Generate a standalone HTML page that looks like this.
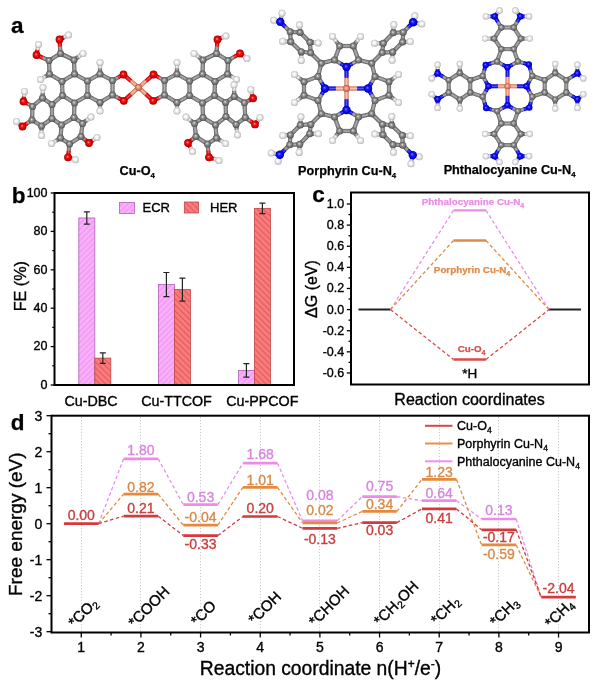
<!DOCTYPE html>
<html><head><meta charset="utf-8"><title>Figure</title>
<style>html,body{margin:0;padding:0;background:#fff;} svg{display:block;}</style></head>
<body>
<svg width="600" height="688" viewBox="0 0 600 688" font-family='"Liberation Sans", Arial, sans-serif'>
<defs>
<pattern id="hatchE" patternUnits="userSpaceOnUse" width="4" height="4" patternTransform="rotate(45)">
<rect width="4" height="4" fill="#f5a0f7"/><rect width="1.1" height="4" fill="#f9befa"/></pattern>
<pattern id="hatchH" patternUnits="userSpaceOnUse" width="4.2" height="4.2" patternTransform="rotate(-45)">
<rect width="4.2" height="4.2" fill="#fa7b7b"/><rect width="1.1" height="4.2" fill="#e05a5e"/></pattern>
<radialGradient id="gC" cx="0.5" cy="0.5" r="0.55" fx="0.42" fy="0.4"><stop offset="0" stop-color="#e4e4e4"/><stop offset="0.35" stop-color="#949494"/><stop offset="0.8" stop-color="#626262"/><stop offset="1" stop-color="#3a3a3a"/></radialGradient>
<radialGradient id="gH" cx="0.5" cy="0.5" r="0.55" fx="0.42" fy="0.4"><stop offset="0" stop-color="#ffffff"/><stop offset="0.35" stop-color="#f6f6f6"/><stop offset="0.8" stop-color="#cccccc"/><stop offset="1" stop-color="#8c8c8c"/></radialGradient>
<radialGradient id="gO" cx="0.5" cy="0.5" r="0.55" fx="0.42" fy="0.4"><stop offset="0" stop-color="#ff9090"/><stop offset="0.35" stop-color="#f41010"/><stop offset="0.8" stop-color="#c00000"/><stop offset="1" stop-color="#800000"/></radialGradient>
<radialGradient id="gN" cx="0.5" cy="0.5" r="0.55" fx="0.42" fy="0.4"><stop offset="0" stop-color="#8080ff"/><stop offset="0.35" stop-color="#1818ff"/><stop offset="0.8" stop-color="#0000c8"/><stop offset="1" stop-color="#000080"/></radialGradient>
<radialGradient id="gCu" cx="0.5" cy="0.5" r="0.55" fx="0.42" fy="0.4"><stop offset="0" stop-color="#ffd8c8"/><stop offset="0.35" stop-color="#f0987c"/><stop offset="0.8" stop-color="#c06a54"/><stop offset="1" stop-color="#904838"/></radialGradient>
</defs>
<rect width="600" height="688" fill="#fff"/>
<text x="11" y="32.5" font-size="22.5" font-weight="bold" stroke="#000" stroke-width="0.25">a</text>
<line x1="60.50" y1="53.50" x2="67.25" y2="56.75" stroke="#5c5c5c" stroke-width="4.20"/>
<line x1="74.00" y1="60.00" x2="67.25" y2="56.75" stroke="#5c5c5c" stroke-width="4.20"/>
<line x1="74.00" y1="60.00" x2="74.25" y2="67.00" stroke="#5c5c5c" stroke-width="4.20"/>
<line x1="74.50" y1="74.00" x2="74.25" y2="67.00" stroke="#5c5c5c" stroke-width="4.20"/>
<line x1="74.50" y1="74.00" x2="68.25" y2="77.75" stroke="#5c5c5c" stroke-width="4.20"/>
<line x1="62.00" y1="81.50" x2="68.25" y2="77.75" stroke="#5c5c5c" stroke-width="4.20"/>
<line x1="62.00" y1="81.50" x2="55.75" y2="77.75" stroke="#5c5c5c" stroke-width="4.20"/>
<line x1="49.50" y1="74.00" x2="55.75" y2="77.75" stroke="#5c5c5c" stroke-width="4.20"/>
<line x1="49.50" y1="74.00" x2="49.25" y2="67.25" stroke="#5c5c5c" stroke-width="4.20"/>
<line x1="49.00" y1="60.50" x2="49.25" y2="67.25" stroke="#5c5c5c" stroke-width="4.20"/>
<line x1="49.00" y1="60.50" x2="54.75" y2="57.00" stroke="#5c5c5c" stroke-width="4.20"/>
<line x1="60.50" y1="53.50" x2="54.75" y2="57.00" stroke="#5c5c5c" stroke-width="4.20"/>
<line x1="60.50" y1="53.50" x2="60.00" y2="46.50" stroke="#5c5c5c" stroke-width="4.20"/>
<line x1="59.50" y1="39.50" x2="60.00" y2="46.50" stroke="#b80000" stroke-width="4.20"/>
<line x1="59.50" y1="39.50" x2="64.00" y2="37.25" stroke="#b80000" stroke-width="4.20"/>
<line x1="68.50" y1="35.00" x2="64.00" y2="37.25" stroke="#a8a8a8" stroke-width="4.20"/>
<line x1="49.00" y1="60.50" x2="42.75" y2="57.75" stroke="#5c5c5c" stroke-width="4.20"/>
<line x1="36.50" y1="55.00" x2="42.75" y2="57.75" stroke="#b80000" stroke-width="4.20"/>
<line x1="36.50" y1="55.00" x2="37.50" y2="49.75" stroke="#b80000" stroke-width="4.20"/>
<line x1="38.50" y1="44.50" x2="37.50" y2="49.75" stroke="#a8a8a8" stroke-width="4.20"/>
<line x1="74.00" y1="60.00" x2="78.50" y2="56.75" stroke="#5c5c5c" stroke-width="4.20"/>
<line x1="83.00" y1="53.50" x2="78.50" y2="56.75" stroke="#a8a8a8" stroke-width="4.20"/>
<line x1="49.50" y1="74.00" x2="45.00" y2="76.75" stroke="#5c5c5c" stroke-width="4.20"/>
<line x1="40.50" y1="79.50" x2="45.00" y2="76.75" stroke="#a8a8a8" stroke-width="4.20"/>
<line x1="74.50" y1="74.00" x2="81.00" y2="77.50" stroke="#5c5c5c" stroke-width="4.20"/>
<line x1="87.50" y1="81.00" x2="81.00" y2="77.50" stroke="#5c5c5c" stroke-width="4.20"/>
<line x1="87.50" y1="81.00" x2="87.50" y2="88.25" stroke="#5c5c5c" stroke-width="4.20"/>
<line x1="87.50" y1="95.50" x2="87.50" y2="88.25" stroke="#5c5c5c" stroke-width="4.20"/>
<line x1="87.50" y1="95.50" x2="81.00" y2="99.25" stroke="#5c5c5c" stroke-width="4.20"/>
<line x1="74.50" y1="103.00" x2="81.00" y2="99.25" stroke="#5c5c5c" stroke-width="4.20"/>
<line x1="74.50" y1="103.00" x2="68.50" y2="99.25" stroke="#5c5c5c" stroke-width="4.20"/>
<line x1="62.50" y1="95.50" x2="68.50" y2="99.25" stroke="#5c5c5c" stroke-width="4.20"/>
<line x1="62.50" y1="95.50" x2="62.25" y2="88.50" stroke="#5c5c5c" stroke-width="4.20"/>
<line x1="62.00" y1="81.50" x2="62.25" y2="88.50" stroke="#5c5c5c" stroke-width="4.20"/>
<line x1="87.50" y1="81.00" x2="93.75" y2="77.50" stroke="#5c5c5c" stroke-width="4.20"/>
<line x1="100.00" y1="74.00" x2="93.75" y2="77.50" stroke="#5c5c5c" stroke-width="4.20"/>
<line x1="100.00" y1="74.00" x2="106.25" y2="77.25" stroke="#5c5c5c" stroke-width="4.20"/>
<line x1="112.50" y1="80.50" x2="106.25" y2="77.25" stroke="#5c5c5c" stroke-width="4.20"/>
<line x1="112.50" y1="80.50" x2="112.50" y2="87.75" stroke="#5c5c5c" stroke-width="4.20"/>
<line x1="112.50" y1="95.00" x2="112.50" y2="87.75" stroke="#5c5c5c" stroke-width="4.20"/>
<line x1="112.50" y1="95.00" x2="106.25" y2="98.75" stroke="#5c5c5c" stroke-width="4.20"/>
<line x1="100.00" y1="102.50" x2="106.25" y2="98.75" stroke="#5c5c5c" stroke-width="4.20"/>
<line x1="100.00" y1="102.50" x2="93.75" y2="99.00" stroke="#5c5c5c" stroke-width="4.20"/>
<line x1="87.50" y1="95.50" x2="93.75" y2="99.00" stroke="#5c5c5c" stroke-width="4.20"/>
<line x1="100.00" y1="74.00" x2="100.00" y2="68.25" stroke="#5c5c5c" stroke-width="4.20"/>
<line x1="100.00" y1="62.50" x2="100.00" y2="68.25" stroke="#a8a8a8" stroke-width="4.20"/>
<line x1="100.00" y1="102.50" x2="100.00" y2="106.75" stroke="#5c5c5c" stroke-width="4.20"/>
<line x1="100.00" y1="111.00" x2="100.00" y2="106.75" stroke="#a8a8a8" stroke-width="4.20"/>
<line x1="112.50" y1="80.50" x2="118.00" y2="77.50" stroke="#5c5c5c" stroke-width="4.20"/>
<line x1="123.50" y1="74.50" x2="118.00" y2="77.50" stroke="#b80000" stroke-width="4.20"/>
<line x1="112.50" y1="95.00" x2="118.15" y2="97.90" stroke="#5c5c5c" stroke-width="4.20"/>
<line x1="123.80" y1="100.80" x2="118.15" y2="97.90" stroke="#b80000" stroke-width="4.20"/>
<line x1="74.50" y1="103.00" x2="74.25" y2="110.25" stroke="#5c5c5c" stroke-width="4.20"/>
<line x1="74.00" y1="117.50" x2="74.25" y2="110.25" stroke="#5c5c5c" stroke-width="4.20"/>
<line x1="74.00" y1="117.50" x2="67.75" y2="121.25" stroke="#5c5c5c" stroke-width="4.20"/>
<line x1="61.50" y1="125.00" x2="67.75" y2="121.25" stroke="#5c5c5c" stroke-width="4.20"/>
<line x1="61.50" y1="125.00" x2="56.75" y2="121.75" stroke="#5c5c5c" stroke-width="4.20"/>
<line x1="52.00" y1="118.50" x2="56.75" y2="121.75" stroke="#5c5c5c" stroke-width="4.20"/>
<line x1="52.00" y1="118.50" x2="52.00" y2="111.50" stroke="#5c5c5c" stroke-width="4.20"/>
<line x1="52.00" y1="104.50" x2="52.00" y2="111.50" stroke="#5c5c5c" stroke-width="4.20"/>
<line x1="52.00" y1="104.50" x2="57.25" y2="100.00" stroke="#5c5c5c" stroke-width="4.20"/>
<line x1="62.50" y1="95.50" x2="57.25" y2="100.00" stroke="#5c5c5c" stroke-width="4.20"/>
<line x1="52.00" y1="104.50" x2="47.25" y2="101.25" stroke="#5c5c5c" stroke-width="4.20"/>
<line x1="42.50" y1="98.00" x2="47.25" y2="101.25" stroke="#5c5c5c" stroke-width="4.20"/>
<line x1="42.50" y1="98.00" x2="37.50" y2="102.25" stroke="#5c5c5c" stroke-width="4.20"/>
<line x1="32.50" y1="106.50" x2="37.50" y2="102.25" stroke="#5c5c5c" stroke-width="4.20"/>
<line x1="32.50" y1="106.50" x2="32.25" y2="113.25" stroke="#5c5c5c" stroke-width="4.20"/>
<line x1="32.00" y1="120.00" x2="32.25" y2="113.25" stroke="#5c5c5c" stroke-width="4.20"/>
<line x1="32.00" y1="120.00" x2="36.75" y2="123.00" stroke="#5c5c5c" stroke-width="4.20"/>
<line x1="41.50" y1="126.00" x2="36.75" y2="123.00" stroke="#5c5c5c" stroke-width="4.20"/>
<line x1="41.50" y1="126.00" x2="46.75" y2="122.25" stroke="#5c5c5c" stroke-width="4.20"/>
<line x1="52.00" y1="118.50" x2="46.75" y2="122.25" stroke="#5c5c5c" stroke-width="4.20"/>
<line x1="42.50" y1="98.00" x2="42.75" y2="92.75" stroke="#5c5c5c" stroke-width="4.20"/>
<line x1="43.00" y1="87.50" x2="42.75" y2="92.75" stroke="#a8a8a8" stroke-width="4.20"/>
<line x1="32.50" y1="106.50" x2="28.00" y2="104.00" stroke="#5c5c5c" stroke-width="4.20"/>
<line x1="23.50" y1="101.50" x2="28.00" y2="104.00" stroke="#b80000" stroke-width="4.20"/>
<line x1="23.50" y1="101.50" x2="24.00" y2="96.50" stroke="#b80000" stroke-width="4.20"/>
<line x1="24.50" y1="91.50" x2="24.00" y2="96.50" stroke="#a8a8a8" stroke-width="4.20"/>
<line x1="32.00" y1="120.00" x2="27.25" y2="123.25" stroke="#5c5c5c" stroke-width="4.20"/>
<line x1="22.50" y1="126.50" x2="27.25" y2="123.25" stroke="#b80000" stroke-width="4.20"/>
<line x1="22.50" y1="126.50" x2="19.50" y2="124.00" stroke="#b80000" stroke-width="4.20"/>
<line x1="16.50" y1="121.50" x2="19.50" y2="124.00" stroke="#a8a8a8" stroke-width="4.20"/>
<line x1="41.50" y1="126.00" x2="41.50" y2="130.75" stroke="#5c5c5c" stroke-width="4.20"/>
<line x1="41.50" y1="135.50" x2="41.50" y2="130.75" stroke="#a8a8a8" stroke-width="4.20"/>
<line x1="74.00" y1="117.50" x2="78.25" y2="120.50" stroke="#5c5c5c" stroke-width="4.20"/>
<line x1="82.50" y1="123.50" x2="78.25" y2="120.50" stroke="#5c5c5c" stroke-width="4.20"/>
<line x1="82.50" y1="123.50" x2="81.75" y2="130.00" stroke="#5c5c5c" stroke-width="4.20"/>
<line x1="81.00" y1="136.50" x2="81.75" y2="130.00" stroke="#5c5c5c" stroke-width="4.20"/>
<line x1="81.00" y1="136.50" x2="75.25" y2="140.25" stroke="#5c5c5c" stroke-width="4.20"/>
<line x1="69.50" y1="144.00" x2="75.25" y2="140.25" stroke="#5c5c5c" stroke-width="4.20"/>
<line x1="69.50" y1="144.00" x2="65.00" y2="141.00" stroke="#5c5c5c" stroke-width="4.20"/>
<line x1="60.50" y1="138.00" x2="65.00" y2="141.00" stroke="#5c5c5c" stroke-width="4.20"/>
<line x1="60.50" y1="138.00" x2="61.00" y2="131.50" stroke="#5c5c5c" stroke-width="4.20"/>
<line x1="61.50" y1="125.00" x2="61.00" y2="131.50" stroke="#5c5c5c" stroke-width="4.20"/>
<line x1="82.50" y1="123.50" x2="86.75" y2="120.25" stroke="#5c5c5c" stroke-width="4.20"/>
<line x1="91.00" y1="117.00" x2="86.75" y2="120.25" stroke="#a8a8a8" stroke-width="4.20"/>
<line x1="81.00" y1="136.50" x2="85.00" y2="139.75" stroke="#5c5c5c" stroke-width="4.20"/>
<line x1="89.00" y1="143.00" x2="85.00" y2="139.75" stroke="#b80000" stroke-width="4.20"/>
<line x1="89.00" y1="143.00" x2="93.00" y2="140.25" stroke="#b80000" stroke-width="4.20"/>
<line x1="97.00" y1="137.50" x2="93.00" y2="140.25" stroke="#a8a8a8" stroke-width="4.20"/>
<line x1="69.50" y1="144.00" x2="68.75" y2="150.65" stroke="#5c5c5c" stroke-width="4.20"/>
<line x1="68.00" y1="157.30" x2="68.75" y2="150.65" stroke="#b80000" stroke-width="4.20"/>
<line x1="68.00" y1="157.30" x2="71.75" y2="158.55" stroke="#b80000" stroke-width="4.20"/>
<line x1="75.50" y1="159.80" x2="71.75" y2="158.55" stroke="#a8a8a8" stroke-width="4.20"/>
<line x1="60.50" y1="138.00" x2="56.00" y2="140.75" stroke="#5c5c5c" stroke-width="4.20"/>
<line x1="51.50" y1="143.50" x2="56.00" y2="140.75" stroke="#a8a8a8" stroke-width="4.20"/>
<line x1="216.50" y1="53.50" x2="209.75" y2="56.75" stroke="#5c5c5c" stroke-width="4.20"/>
<line x1="203.00" y1="60.00" x2="209.75" y2="56.75" stroke="#5c5c5c" stroke-width="4.20"/>
<line x1="203.00" y1="60.00" x2="202.75" y2="67.00" stroke="#5c5c5c" stroke-width="4.20"/>
<line x1="202.50" y1="74.00" x2="202.75" y2="67.00" stroke="#5c5c5c" stroke-width="4.20"/>
<line x1="202.50" y1="74.00" x2="208.75" y2="77.75" stroke="#5c5c5c" stroke-width="4.20"/>
<line x1="215.00" y1="81.50" x2="208.75" y2="77.75" stroke="#5c5c5c" stroke-width="4.20"/>
<line x1="215.00" y1="81.50" x2="221.25" y2="77.75" stroke="#5c5c5c" stroke-width="4.20"/>
<line x1="227.50" y1="74.00" x2="221.25" y2="77.75" stroke="#5c5c5c" stroke-width="4.20"/>
<line x1="227.50" y1="74.00" x2="227.75" y2="67.25" stroke="#5c5c5c" stroke-width="4.20"/>
<line x1="228.00" y1="60.50" x2="227.75" y2="67.25" stroke="#5c5c5c" stroke-width="4.20"/>
<line x1="228.00" y1="60.50" x2="222.25" y2="57.00" stroke="#5c5c5c" stroke-width="4.20"/>
<line x1="216.50" y1="53.50" x2="222.25" y2="57.00" stroke="#5c5c5c" stroke-width="4.20"/>
<line x1="216.50" y1="53.50" x2="217.00" y2="46.50" stroke="#5c5c5c" stroke-width="4.20"/>
<line x1="217.50" y1="39.50" x2="217.00" y2="46.50" stroke="#b80000" stroke-width="4.20"/>
<line x1="217.50" y1="39.50" x2="221.75" y2="37.75" stroke="#b80000" stroke-width="4.20"/>
<line x1="226.00" y1="36.00" x2="221.75" y2="37.75" stroke="#a8a8a8" stroke-width="4.20"/>
<line x1="228.00" y1="60.50" x2="234.00" y2="57.00" stroke="#5c5c5c" stroke-width="4.20"/>
<line x1="240.00" y1="53.50" x2="234.00" y2="57.00" stroke="#b80000" stroke-width="4.20"/>
<line x1="240.00" y1="53.50" x2="243.50" y2="56.00" stroke="#b80000" stroke-width="4.20"/>
<line x1="247.00" y1="58.50" x2="243.50" y2="56.00" stroke="#a8a8a8" stroke-width="4.20"/>
<line x1="203.00" y1="60.00" x2="198.50" y2="56.75" stroke="#5c5c5c" stroke-width="4.20"/>
<line x1="194.00" y1="53.50" x2="198.50" y2="56.75" stroke="#a8a8a8" stroke-width="4.20"/>
<line x1="227.50" y1="74.00" x2="232.00" y2="76.75" stroke="#5c5c5c" stroke-width="4.20"/>
<line x1="236.50" y1="79.50" x2="232.00" y2="76.75" stroke="#a8a8a8" stroke-width="4.20"/>
<line x1="202.50" y1="74.00" x2="196.00" y2="77.50" stroke="#5c5c5c" stroke-width="4.20"/>
<line x1="189.50" y1="81.00" x2="196.00" y2="77.50" stroke="#5c5c5c" stroke-width="4.20"/>
<line x1="189.50" y1="81.00" x2="189.50" y2="88.25" stroke="#5c5c5c" stroke-width="4.20"/>
<line x1="189.50" y1="95.50" x2="189.50" y2="88.25" stroke="#5c5c5c" stroke-width="4.20"/>
<line x1="189.50" y1="95.50" x2="196.00" y2="99.25" stroke="#5c5c5c" stroke-width="4.20"/>
<line x1="202.50" y1="103.00" x2="196.00" y2="99.25" stroke="#5c5c5c" stroke-width="4.20"/>
<line x1="202.50" y1="103.00" x2="208.50" y2="99.25" stroke="#5c5c5c" stroke-width="4.20"/>
<line x1="214.50" y1="95.50" x2="208.50" y2="99.25" stroke="#5c5c5c" stroke-width="4.20"/>
<line x1="214.50" y1="95.50" x2="214.75" y2="88.50" stroke="#5c5c5c" stroke-width="4.20"/>
<line x1="215.00" y1="81.50" x2="214.75" y2="88.50" stroke="#5c5c5c" stroke-width="4.20"/>
<line x1="189.50" y1="81.00" x2="183.25" y2="77.50" stroke="#5c5c5c" stroke-width="4.20"/>
<line x1="177.00" y1="74.00" x2="183.25" y2="77.50" stroke="#5c5c5c" stroke-width="4.20"/>
<line x1="177.00" y1="74.00" x2="170.75" y2="77.25" stroke="#5c5c5c" stroke-width="4.20"/>
<line x1="164.50" y1="80.50" x2="170.75" y2="77.25" stroke="#5c5c5c" stroke-width="4.20"/>
<line x1="164.50" y1="80.50" x2="164.50" y2="87.75" stroke="#5c5c5c" stroke-width="4.20"/>
<line x1="164.50" y1="95.00" x2="164.50" y2="87.75" stroke="#5c5c5c" stroke-width="4.20"/>
<line x1="164.50" y1="95.00" x2="170.75" y2="98.75" stroke="#5c5c5c" stroke-width="4.20"/>
<line x1="177.00" y1="102.50" x2="170.75" y2="98.75" stroke="#5c5c5c" stroke-width="4.20"/>
<line x1="177.00" y1="102.50" x2="183.25" y2="99.00" stroke="#5c5c5c" stroke-width="4.20"/>
<line x1="189.50" y1="95.50" x2="183.25" y2="99.00" stroke="#5c5c5c" stroke-width="4.20"/>
<line x1="177.00" y1="74.00" x2="177.00" y2="68.25" stroke="#5c5c5c" stroke-width="4.20"/>
<line x1="177.00" y1="62.50" x2="177.00" y2="68.25" stroke="#a8a8a8" stroke-width="4.20"/>
<line x1="177.00" y1="102.50" x2="177.00" y2="106.75" stroke="#5c5c5c" stroke-width="4.20"/>
<line x1="177.00" y1="111.00" x2="177.00" y2="106.75" stroke="#a8a8a8" stroke-width="4.20"/>
<line x1="164.50" y1="80.50" x2="159.00" y2="77.50" stroke="#5c5c5c" stroke-width="4.20"/>
<line x1="153.50" y1="74.50" x2="159.00" y2="77.50" stroke="#b80000" stroke-width="4.20"/>
<line x1="164.50" y1="95.00" x2="158.85" y2="97.90" stroke="#5c5c5c" stroke-width="4.20"/>
<line x1="153.20" y1="100.80" x2="158.85" y2="97.90" stroke="#b80000" stroke-width="4.20"/>
<line x1="202.50" y1="103.00" x2="202.75" y2="110.25" stroke="#5c5c5c" stroke-width="4.20"/>
<line x1="203.00" y1="117.50" x2="202.75" y2="110.25" stroke="#5c5c5c" stroke-width="4.20"/>
<line x1="203.00" y1="117.50" x2="209.25" y2="121.25" stroke="#5c5c5c" stroke-width="4.20"/>
<line x1="215.50" y1="125.00" x2="209.25" y2="121.25" stroke="#5c5c5c" stroke-width="4.20"/>
<line x1="215.50" y1="125.00" x2="220.75" y2="120.80" stroke="#5c5c5c" stroke-width="4.20"/>
<line x1="226.00" y1="116.60" x2="220.75" y2="120.80" stroke="#5c5c5c" stroke-width="4.20"/>
<line x1="226.00" y1="116.60" x2="225.80" y2="109.50" stroke="#5c5c5c" stroke-width="4.20"/>
<line x1="225.60" y1="102.40" x2="225.80" y2="109.50" stroke="#5c5c5c" stroke-width="4.20"/>
<line x1="225.60" y1="102.40" x2="220.05" y2="98.95" stroke="#5c5c5c" stroke-width="4.20"/>
<line x1="214.50" y1="95.50" x2="220.05" y2="98.95" stroke="#5c5c5c" stroke-width="4.20"/>
<line x1="225.60" y1="102.40" x2="229.95" y2="99.40" stroke="#5c5c5c" stroke-width="4.20"/>
<line x1="234.30" y1="96.40" x2="229.95" y2="99.40" stroke="#5c5c5c" stroke-width="4.20"/>
<line x1="234.30" y1="96.40" x2="239.35" y2="99.60" stroke="#5c5c5c" stroke-width="4.20"/>
<line x1="244.40" y1="102.80" x2="239.35" y2="99.60" stroke="#5c5c5c" stroke-width="4.20"/>
<line x1="244.40" y1="102.80" x2="244.85" y2="110.15" stroke="#5c5c5c" stroke-width="4.20"/>
<line x1="245.30" y1="117.50" x2="244.85" y2="110.15" stroke="#5c5c5c" stroke-width="4.20"/>
<line x1="245.30" y1="117.50" x2="240.70" y2="120.95" stroke="#5c5c5c" stroke-width="4.20"/>
<line x1="236.10" y1="124.40" x2="240.70" y2="120.95" stroke="#5c5c5c" stroke-width="4.20"/>
<line x1="236.10" y1="124.40" x2="231.05" y2="120.50" stroke="#5c5c5c" stroke-width="4.20"/>
<line x1="226.00" y1="116.60" x2="231.05" y2="120.50" stroke="#5c5c5c" stroke-width="4.20"/>
<line x1="234.30" y1="96.40" x2="234.15" y2="90.60" stroke="#5c5c5c" stroke-width="4.20"/>
<line x1="234.00" y1="84.80" x2="234.15" y2="90.60" stroke="#a8a8a8" stroke-width="4.20"/>
<line x1="244.40" y1="102.80" x2="248.75" y2="100.55" stroke="#5c5c5c" stroke-width="4.20"/>
<line x1="253.10" y1="98.30" x2="248.75" y2="100.55" stroke="#b80000" stroke-width="4.20"/>
<line x1="253.10" y1="98.30" x2="251.95" y2="93.90" stroke="#b80000" stroke-width="4.20"/>
<line x1="250.80" y1="89.50" x2="251.95" y2="93.90" stroke="#a8a8a8" stroke-width="4.20"/>
<line x1="245.30" y1="117.50" x2="250.15" y2="120.95" stroke="#5c5c5c" stroke-width="4.20"/>
<line x1="255.00" y1="124.40" x2="250.15" y2="120.95" stroke="#b80000" stroke-width="4.20"/>
<line x1="255.00" y1="124.40" x2="257.50" y2="120.95" stroke="#b80000" stroke-width="4.20"/>
<line x1="260.00" y1="117.50" x2="257.50" y2="120.95" stroke="#a8a8a8" stroke-width="4.20"/>
<line x1="236.10" y1="124.40" x2="236.80" y2="129.70" stroke="#5c5c5c" stroke-width="4.20"/>
<line x1="237.50" y1="135.00" x2="236.80" y2="129.70" stroke="#a8a8a8" stroke-width="4.20"/>
<line x1="203.00" y1="117.50" x2="198.75" y2="120.50" stroke="#5c5c5c" stroke-width="4.20"/>
<line x1="194.50" y1="123.50" x2="198.75" y2="120.50" stroke="#5c5c5c" stroke-width="4.20"/>
<line x1="194.50" y1="123.50" x2="195.25" y2="130.00" stroke="#5c5c5c" stroke-width="4.20"/>
<line x1="196.00" y1="136.50" x2="195.25" y2="130.00" stroke="#5c5c5c" stroke-width="4.20"/>
<line x1="196.00" y1="136.50" x2="201.75" y2="140.25" stroke="#5c5c5c" stroke-width="4.20"/>
<line x1="207.50" y1="144.00" x2="201.75" y2="140.25" stroke="#5c5c5c" stroke-width="4.20"/>
<line x1="207.50" y1="144.00" x2="212.00" y2="141.00" stroke="#5c5c5c" stroke-width="4.20"/>
<line x1="216.50" y1="138.00" x2="212.00" y2="141.00" stroke="#5c5c5c" stroke-width="4.20"/>
<line x1="216.50" y1="138.00" x2="216.00" y2="131.50" stroke="#5c5c5c" stroke-width="4.20"/>
<line x1="215.50" y1="125.00" x2="216.00" y2="131.50" stroke="#5c5c5c" stroke-width="4.20"/>
<line x1="194.50" y1="123.50" x2="190.25" y2="120.25" stroke="#5c5c5c" stroke-width="4.20"/>
<line x1="186.00" y1="117.00" x2="190.25" y2="120.25" stroke="#a8a8a8" stroke-width="4.20"/>
<line x1="196.00" y1="136.50" x2="192.00" y2="139.75" stroke="#5c5c5c" stroke-width="4.20"/>
<line x1="188.00" y1="143.00" x2="192.00" y2="139.75" stroke="#b80000" stroke-width="4.20"/>
<line x1="188.00" y1="143.00" x2="190.25" y2="147.25" stroke="#b80000" stroke-width="4.20"/>
<line x1="192.50" y1="151.50" x2="190.25" y2="147.25" stroke="#a8a8a8" stroke-width="4.20"/>
<line x1="207.50" y1="144.00" x2="208.25" y2="150.65" stroke="#5c5c5c" stroke-width="4.20"/>
<line x1="209.00" y1="157.30" x2="208.25" y2="150.65" stroke="#b80000" stroke-width="4.20"/>
<line x1="209.00" y1="157.30" x2="214.00" y2="158.90" stroke="#b80000" stroke-width="4.20"/>
<line x1="219.00" y1="160.50" x2="214.00" y2="158.90" stroke="#a8a8a8" stroke-width="4.20"/>
<line x1="216.50" y1="138.00" x2="221.00" y2="140.75" stroke="#5c5c5c" stroke-width="4.20"/>
<line x1="225.50" y1="143.50" x2="221.00" y2="140.75" stroke="#a8a8a8" stroke-width="4.20"/>
<line x1="123.50" y1="74.50" x2="131.00" y2="81.00" stroke="#b80000" stroke-width="4.20"/>
<line x1="138.50" y1="87.50" x2="131.00" y2="81.00" stroke="#c06850" stroke-width="4.20"/>
<line x1="138.50" y1="87.50" x2="146.00" y2="81.00" stroke="#c06850" stroke-width="4.20"/>
<line x1="153.50" y1="74.50" x2="146.00" y2="81.00" stroke="#b80000" stroke-width="4.20"/>
<line x1="123.80" y1="100.80" x2="131.15" y2="94.15" stroke="#b80000" stroke-width="4.20"/>
<line x1="138.50" y1="87.50" x2="131.15" y2="94.15" stroke="#c06850" stroke-width="4.20"/>
<line x1="138.50" y1="87.50" x2="145.85" y2="94.15" stroke="#c06850" stroke-width="4.20"/>
<line x1="153.20" y1="100.80" x2="145.85" y2="94.15" stroke="#b80000" stroke-width="4.20"/>
<line x1="60.50" y1="53.50" x2="67.25" y2="56.75" stroke="#8c8c8c" stroke-width="3.00"/>
<line x1="74.00" y1="60.00" x2="67.25" y2="56.75" stroke="#8c8c8c" stroke-width="3.00"/>
<line x1="74.00" y1="60.00" x2="74.25" y2="67.00" stroke="#8c8c8c" stroke-width="3.00"/>
<line x1="74.50" y1="74.00" x2="74.25" y2="67.00" stroke="#8c8c8c" stroke-width="3.00"/>
<line x1="74.50" y1="74.00" x2="68.25" y2="77.75" stroke="#8c8c8c" stroke-width="3.00"/>
<line x1="62.00" y1="81.50" x2="68.25" y2="77.75" stroke="#8c8c8c" stroke-width="3.00"/>
<line x1="62.00" y1="81.50" x2="55.75" y2="77.75" stroke="#8c8c8c" stroke-width="3.00"/>
<line x1="49.50" y1="74.00" x2="55.75" y2="77.75" stroke="#8c8c8c" stroke-width="3.00"/>
<line x1="49.50" y1="74.00" x2="49.25" y2="67.25" stroke="#8c8c8c" stroke-width="3.00"/>
<line x1="49.00" y1="60.50" x2="49.25" y2="67.25" stroke="#8c8c8c" stroke-width="3.00"/>
<line x1="49.00" y1="60.50" x2="54.75" y2="57.00" stroke="#8c8c8c" stroke-width="3.00"/>
<line x1="60.50" y1="53.50" x2="54.75" y2="57.00" stroke="#8c8c8c" stroke-width="3.00"/>
<line x1="60.50" y1="53.50" x2="60.00" y2="46.50" stroke="#8c8c8c" stroke-width="3.00"/>
<line x1="59.50" y1="39.50" x2="60.00" y2="46.50" stroke="#ee1414" stroke-width="3.00"/>
<line x1="59.50" y1="39.50" x2="64.00" y2="37.25" stroke="#ee1414" stroke-width="3.00"/>
<line x1="68.50" y1="35.00" x2="64.00" y2="37.25" stroke="#dcdcdc" stroke-width="3.00"/>
<line x1="49.00" y1="60.50" x2="42.75" y2="57.75" stroke="#8c8c8c" stroke-width="3.00"/>
<line x1="36.50" y1="55.00" x2="42.75" y2="57.75" stroke="#ee1414" stroke-width="3.00"/>
<line x1="36.50" y1="55.00" x2="37.50" y2="49.75" stroke="#ee1414" stroke-width="3.00"/>
<line x1="38.50" y1="44.50" x2="37.50" y2="49.75" stroke="#dcdcdc" stroke-width="3.00"/>
<line x1="74.00" y1="60.00" x2="78.50" y2="56.75" stroke="#8c8c8c" stroke-width="3.00"/>
<line x1="83.00" y1="53.50" x2="78.50" y2="56.75" stroke="#dcdcdc" stroke-width="3.00"/>
<line x1="49.50" y1="74.00" x2="45.00" y2="76.75" stroke="#8c8c8c" stroke-width="3.00"/>
<line x1="40.50" y1="79.50" x2="45.00" y2="76.75" stroke="#dcdcdc" stroke-width="3.00"/>
<line x1="74.50" y1="74.00" x2="81.00" y2="77.50" stroke="#8c8c8c" stroke-width="3.00"/>
<line x1="87.50" y1="81.00" x2="81.00" y2="77.50" stroke="#8c8c8c" stroke-width="3.00"/>
<line x1="87.50" y1="81.00" x2="87.50" y2="88.25" stroke="#8c8c8c" stroke-width="3.00"/>
<line x1="87.50" y1="95.50" x2="87.50" y2="88.25" stroke="#8c8c8c" stroke-width="3.00"/>
<line x1="87.50" y1="95.50" x2="81.00" y2="99.25" stroke="#8c8c8c" stroke-width="3.00"/>
<line x1="74.50" y1="103.00" x2="81.00" y2="99.25" stroke="#8c8c8c" stroke-width="3.00"/>
<line x1="74.50" y1="103.00" x2="68.50" y2="99.25" stroke="#8c8c8c" stroke-width="3.00"/>
<line x1="62.50" y1="95.50" x2="68.50" y2="99.25" stroke="#8c8c8c" stroke-width="3.00"/>
<line x1="62.50" y1="95.50" x2="62.25" y2="88.50" stroke="#8c8c8c" stroke-width="3.00"/>
<line x1="62.00" y1="81.50" x2="62.25" y2="88.50" stroke="#8c8c8c" stroke-width="3.00"/>
<line x1="87.50" y1="81.00" x2="93.75" y2="77.50" stroke="#8c8c8c" stroke-width="3.00"/>
<line x1="100.00" y1="74.00" x2="93.75" y2="77.50" stroke="#8c8c8c" stroke-width="3.00"/>
<line x1="100.00" y1="74.00" x2="106.25" y2="77.25" stroke="#8c8c8c" stroke-width="3.00"/>
<line x1="112.50" y1="80.50" x2="106.25" y2="77.25" stroke="#8c8c8c" stroke-width="3.00"/>
<line x1="112.50" y1="80.50" x2="112.50" y2="87.75" stroke="#8c8c8c" stroke-width="3.00"/>
<line x1="112.50" y1="95.00" x2="112.50" y2="87.75" stroke="#8c8c8c" stroke-width="3.00"/>
<line x1="112.50" y1="95.00" x2="106.25" y2="98.75" stroke="#8c8c8c" stroke-width="3.00"/>
<line x1="100.00" y1="102.50" x2="106.25" y2="98.75" stroke="#8c8c8c" stroke-width="3.00"/>
<line x1="100.00" y1="102.50" x2="93.75" y2="99.00" stroke="#8c8c8c" stroke-width="3.00"/>
<line x1="87.50" y1="95.50" x2="93.75" y2="99.00" stroke="#8c8c8c" stroke-width="3.00"/>
<line x1="100.00" y1="74.00" x2="100.00" y2="68.25" stroke="#8c8c8c" stroke-width="3.00"/>
<line x1="100.00" y1="62.50" x2="100.00" y2="68.25" stroke="#dcdcdc" stroke-width="3.00"/>
<line x1="100.00" y1="102.50" x2="100.00" y2="106.75" stroke="#8c8c8c" stroke-width="3.00"/>
<line x1="100.00" y1="111.00" x2="100.00" y2="106.75" stroke="#dcdcdc" stroke-width="3.00"/>
<line x1="112.50" y1="80.50" x2="118.00" y2="77.50" stroke="#8c8c8c" stroke-width="3.00"/>
<line x1="123.50" y1="74.50" x2="118.00" y2="77.50" stroke="#ee1414" stroke-width="3.00"/>
<line x1="112.50" y1="95.00" x2="118.15" y2="97.90" stroke="#8c8c8c" stroke-width="3.00"/>
<line x1="123.80" y1="100.80" x2="118.15" y2="97.90" stroke="#ee1414" stroke-width="3.00"/>
<line x1="74.50" y1="103.00" x2="74.25" y2="110.25" stroke="#8c8c8c" stroke-width="3.00"/>
<line x1="74.00" y1="117.50" x2="74.25" y2="110.25" stroke="#8c8c8c" stroke-width="3.00"/>
<line x1="74.00" y1="117.50" x2="67.75" y2="121.25" stroke="#8c8c8c" stroke-width="3.00"/>
<line x1="61.50" y1="125.00" x2="67.75" y2="121.25" stroke="#8c8c8c" stroke-width="3.00"/>
<line x1="61.50" y1="125.00" x2="56.75" y2="121.75" stroke="#8c8c8c" stroke-width="3.00"/>
<line x1="52.00" y1="118.50" x2="56.75" y2="121.75" stroke="#8c8c8c" stroke-width="3.00"/>
<line x1="52.00" y1="118.50" x2="52.00" y2="111.50" stroke="#8c8c8c" stroke-width="3.00"/>
<line x1="52.00" y1="104.50" x2="52.00" y2="111.50" stroke="#8c8c8c" stroke-width="3.00"/>
<line x1="52.00" y1="104.50" x2="57.25" y2="100.00" stroke="#8c8c8c" stroke-width="3.00"/>
<line x1="62.50" y1="95.50" x2="57.25" y2="100.00" stroke="#8c8c8c" stroke-width="3.00"/>
<line x1="52.00" y1="104.50" x2="47.25" y2="101.25" stroke="#8c8c8c" stroke-width="3.00"/>
<line x1="42.50" y1="98.00" x2="47.25" y2="101.25" stroke="#8c8c8c" stroke-width="3.00"/>
<line x1="42.50" y1="98.00" x2="37.50" y2="102.25" stroke="#8c8c8c" stroke-width="3.00"/>
<line x1="32.50" y1="106.50" x2="37.50" y2="102.25" stroke="#8c8c8c" stroke-width="3.00"/>
<line x1="32.50" y1="106.50" x2="32.25" y2="113.25" stroke="#8c8c8c" stroke-width="3.00"/>
<line x1="32.00" y1="120.00" x2="32.25" y2="113.25" stroke="#8c8c8c" stroke-width="3.00"/>
<line x1="32.00" y1="120.00" x2="36.75" y2="123.00" stroke="#8c8c8c" stroke-width="3.00"/>
<line x1="41.50" y1="126.00" x2="36.75" y2="123.00" stroke="#8c8c8c" stroke-width="3.00"/>
<line x1="41.50" y1="126.00" x2="46.75" y2="122.25" stroke="#8c8c8c" stroke-width="3.00"/>
<line x1="52.00" y1="118.50" x2="46.75" y2="122.25" stroke="#8c8c8c" stroke-width="3.00"/>
<line x1="42.50" y1="98.00" x2="42.75" y2="92.75" stroke="#8c8c8c" stroke-width="3.00"/>
<line x1="43.00" y1="87.50" x2="42.75" y2="92.75" stroke="#dcdcdc" stroke-width="3.00"/>
<line x1="32.50" y1="106.50" x2="28.00" y2="104.00" stroke="#8c8c8c" stroke-width="3.00"/>
<line x1="23.50" y1="101.50" x2="28.00" y2="104.00" stroke="#ee1414" stroke-width="3.00"/>
<line x1="23.50" y1="101.50" x2="24.00" y2="96.50" stroke="#ee1414" stroke-width="3.00"/>
<line x1="24.50" y1="91.50" x2="24.00" y2="96.50" stroke="#dcdcdc" stroke-width="3.00"/>
<line x1="32.00" y1="120.00" x2="27.25" y2="123.25" stroke="#8c8c8c" stroke-width="3.00"/>
<line x1="22.50" y1="126.50" x2="27.25" y2="123.25" stroke="#ee1414" stroke-width="3.00"/>
<line x1="22.50" y1="126.50" x2="19.50" y2="124.00" stroke="#ee1414" stroke-width="3.00"/>
<line x1="16.50" y1="121.50" x2="19.50" y2="124.00" stroke="#dcdcdc" stroke-width="3.00"/>
<line x1="41.50" y1="126.00" x2="41.50" y2="130.75" stroke="#8c8c8c" stroke-width="3.00"/>
<line x1="41.50" y1="135.50" x2="41.50" y2="130.75" stroke="#dcdcdc" stroke-width="3.00"/>
<line x1="74.00" y1="117.50" x2="78.25" y2="120.50" stroke="#8c8c8c" stroke-width="3.00"/>
<line x1="82.50" y1="123.50" x2="78.25" y2="120.50" stroke="#8c8c8c" stroke-width="3.00"/>
<line x1="82.50" y1="123.50" x2="81.75" y2="130.00" stroke="#8c8c8c" stroke-width="3.00"/>
<line x1="81.00" y1="136.50" x2="81.75" y2="130.00" stroke="#8c8c8c" stroke-width="3.00"/>
<line x1="81.00" y1="136.50" x2="75.25" y2="140.25" stroke="#8c8c8c" stroke-width="3.00"/>
<line x1="69.50" y1="144.00" x2="75.25" y2="140.25" stroke="#8c8c8c" stroke-width="3.00"/>
<line x1="69.50" y1="144.00" x2="65.00" y2="141.00" stroke="#8c8c8c" stroke-width="3.00"/>
<line x1="60.50" y1="138.00" x2="65.00" y2="141.00" stroke="#8c8c8c" stroke-width="3.00"/>
<line x1="60.50" y1="138.00" x2="61.00" y2="131.50" stroke="#8c8c8c" stroke-width="3.00"/>
<line x1="61.50" y1="125.00" x2="61.00" y2="131.50" stroke="#8c8c8c" stroke-width="3.00"/>
<line x1="82.50" y1="123.50" x2="86.75" y2="120.25" stroke="#8c8c8c" stroke-width="3.00"/>
<line x1="91.00" y1="117.00" x2="86.75" y2="120.25" stroke="#dcdcdc" stroke-width="3.00"/>
<line x1="81.00" y1="136.50" x2="85.00" y2="139.75" stroke="#8c8c8c" stroke-width="3.00"/>
<line x1="89.00" y1="143.00" x2="85.00" y2="139.75" stroke="#ee1414" stroke-width="3.00"/>
<line x1="89.00" y1="143.00" x2="93.00" y2="140.25" stroke="#ee1414" stroke-width="3.00"/>
<line x1="97.00" y1="137.50" x2="93.00" y2="140.25" stroke="#dcdcdc" stroke-width="3.00"/>
<line x1="69.50" y1="144.00" x2="68.75" y2="150.65" stroke="#8c8c8c" stroke-width="3.00"/>
<line x1="68.00" y1="157.30" x2="68.75" y2="150.65" stroke="#ee1414" stroke-width="3.00"/>
<line x1="68.00" y1="157.30" x2="71.75" y2="158.55" stroke="#ee1414" stroke-width="3.00"/>
<line x1="75.50" y1="159.80" x2="71.75" y2="158.55" stroke="#dcdcdc" stroke-width="3.00"/>
<line x1="60.50" y1="138.00" x2="56.00" y2="140.75" stroke="#8c8c8c" stroke-width="3.00"/>
<line x1="51.50" y1="143.50" x2="56.00" y2="140.75" stroke="#dcdcdc" stroke-width="3.00"/>
<line x1="216.50" y1="53.50" x2="209.75" y2="56.75" stroke="#8c8c8c" stroke-width="3.00"/>
<line x1="203.00" y1="60.00" x2="209.75" y2="56.75" stroke="#8c8c8c" stroke-width="3.00"/>
<line x1="203.00" y1="60.00" x2="202.75" y2="67.00" stroke="#8c8c8c" stroke-width="3.00"/>
<line x1="202.50" y1="74.00" x2="202.75" y2="67.00" stroke="#8c8c8c" stroke-width="3.00"/>
<line x1="202.50" y1="74.00" x2="208.75" y2="77.75" stroke="#8c8c8c" stroke-width="3.00"/>
<line x1="215.00" y1="81.50" x2="208.75" y2="77.75" stroke="#8c8c8c" stroke-width="3.00"/>
<line x1="215.00" y1="81.50" x2="221.25" y2="77.75" stroke="#8c8c8c" stroke-width="3.00"/>
<line x1="227.50" y1="74.00" x2="221.25" y2="77.75" stroke="#8c8c8c" stroke-width="3.00"/>
<line x1="227.50" y1="74.00" x2="227.75" y2="67.25" stroke="#8c8c8c" stroke-width="3.00"/>
<line x1="228.00" y1="60.50" x2="227.75" y2="67.25" stroke="#8c8c8c" stroke-width="3.00"/>
<line x1="228.00" y1="60.50" x2="222.25" y2="57.00" stroke="#8c8c8c" stroke-width="3.00"/>
<line x1="216.50" y1="53.50" x2="222.25" y2="57.00" stroke="#8c8c8c" stroke-width="3.00"/>
<line x1="216.50" y1="53.50" x2="217.00" y2="46.50" stroke="#8c8c8c" stroke-width="3.00"/>
<line x1="217.50" y1="39.50" x2="217.00" y2="46.50" stroke="#ee1414" stroke-width="3.00"/>
<line x1="217.50" y1="39.50" x2="221.75" y2="37.75" stroke="#ee1414" stroke-width="3.00"/>
<line x1="226.00" y1="36.00" x2="221.75" y2="37.75" stroke="#dcdcdc" stroke-width="3.00"/>
<line x1="228.00" y1="60.50" x2="234.00" y2="57.00" stroke="#8c8c8c" stroke-width="3.00"/>
<line x1="240.00" y1="53.50" x2="234.00" y2="57.00" stroke="#ee1414" stroke-width="3.00"/>
<line x1="240.00" y1="53.50" x2="243.50" y2="56.00" stroke="#ee1414" stroke-width="3.00"/>
<line x1="247.00" y1="58.50" x2="243.50" y2="56.00" stroke="#dcdcdc" stroke-width="3.00"/>
<line x1="203.00" y1="60.00" x2="198.50" y2="56.75" stroke="#8c8c8c" stroke-width="3.00"/>
<line x1="194.00" y1="53.50" x2="198.50" y2="56.75" stroke="#dcdcdc" stroke-width="3.00"/>
<line x1="227.50" y1="74.00" x2="232.00" y2="76.75" stroke="#8c8c8c" stroke-width="3.00"/>
<line x1="236.50" y1="79.50" x2="232.00" y2="76.75" stroke="#dcdcdc" stroke-width="3.00"/>
<line x1="202.50" y1="74.00" x2="196.00" y2="77.50" stroke="#8c8c8c" stroke-width="3.00"/>
<line x1="189.50" y1="81.00" x2="196.00" y2="77.50" stroke="#8c8c8c" stroke-width="3.00"/>
<line x1="189.50" y1="81.00" x2="189.50" y2="88.25" stroke="#8c8c8c" stroke-width="3.00"/>
<line x1="189.50" y1="95.50" x2="189.50" y2="88.25" stroke="#8c8c8c" stroke-width="3.00"/>
<line x1="189.50" y1="95.50" x2="196.00" y2="99.25" stroke="#8c8c8c" stroke-width="3.00"/>
<line x1="202.50" y1="103.00" x2="196.00" y2="99.25" stroke="#8c8c8c" stroke-width="3.00"/>
<line x1="202.50" y1="103.00" x2="208.50" y2="99.25" stroke="#8c8c8c" stroke-width="3.00"/>
<line x1="214.50" y1="95.50" x2="208.50" y2="99.25" stroke="#8c8c8c" stroke-width="3.00"/>
<line x1="214.50" y1="95.50" x2="214.75" y2="88.50" stroke="#8c8c8c" stroke-width="3.00"/>
<line x1="215.00" y1="81.50" x2="214.75" y2="88.50" stroke="#8c8c8c" stroke-width="3.00"/>
<line x1="189.50" y1="81.00" x2="183.25" y2="77.50" stroke="#8c8c8c" stroke-width="3.00"/>
<line x1="177.00" y1="74.00" x2="183.25" y2="77.50" stroke="#8c8c8c" stroke-width="3.00"/>
<line x1="177.00" y1="74.00" x2="170.75" y2="77.25" stroke="#8c8c8c" stroke-width="3.00"/>
<line x1="164.50" y1="80.50" x2="170.75" y2="77.25" stroke="#8c8c8c" stroke-width="3.00"/>
<line x1="164.50" y1="80.50" x2="164.50" y2="87.75" stroke="#8c8c8c" stroke-width="3.00"/>
<line x1="164.50" y1="95.00" x2="164.50" y2="87.75" stroke="#8c8c8c" stroke-width="3.00"/>
<line x1="164.50" y1="95.00" x2="170.75" y2="98.75" stroke="#8c8c8c" stroke-width="3.00"/>
<line x1="177.00" y1="102.50" x2="170.75" y2="98.75" stroke="#8c8c8c" stroke-width="3.00"/>
<line x1="177.00" y1="102.50" x2="183.25" y2="99.00" stroke="#8c8c8c" stroke-width="3.00"/>
<line x1="189.50" y1="95.50" x2="183.25" y2="99.00" stroke="#8c8c8c" stroke-width="3.00"/>
<line x1="177.00" y1="74.00" x2="177.00" y2="68.25" stroke="#8c8c8c" stroke-width="3.00"/>
<line x1="177.00" y1="62.50" x2="177.00" y2="68.25" stroke="#dcdcdc" stroke-width="3.00"/>
<line x1="177.00" y1="102.50" x2="177.00" y2="106.75" stroke="#8c8c8c" stroke-width="3.00"/>
<line x1="177.00" y1="111.00" x2="177.00" y2="106.75" stroke="#dcdcdc" stroke-width="3.00"/>
<line x1="164.50" y1="80.50" x2="159.00" y2="77.50" stroke="#8c8c8c" stroke-width="3.00"/>
<line x1="153.50" y1="74.50" x2="159.00" y2="77.50" stroke="#ee1414" stroke-width="3.00"/>
<line x1="164.50" y1="95.00" x2="158.85" y2="97.90" stroke="#8c8c8c" stroke-width="3.00"/>
<line x1="153.20" y1="100.80" x2="158.85" y2="97.90" stroke="#ee1414" stroke-width="3.00"/>
<line x1="202.50" y1="103.00" x2="202.75" y2="110.25" stroke="#8c8c8c" stroke-width="3.00"/>
<line x1="203.00" y1="117.50" x2="202.75" y2="110.25" stroke="#8c8c8c" stroke-width="3.00"/>
<line x1="203.00" y1="117.50" x2="209.25" y2="121.25" stroke="#8c8c8c" stroke-width="3.00"/>
<line x1="215.50" y1="125.00" x2="209.25" y2="121.25" stroke="#8c8c8c" stroke-width="3.00"/>
<line x1="215.50" y1="125.00" x2="220.75" y2="120.80" stroke="#8c8c8c" stroke-width="3.00"/>
<line x1="226.00" y1="116.60" x2="220.75" y2="120.80" stroke="#8c8c8c" stroke-width="3.00"/>
<line x1="226.00" y1="116.60" x2="225.80" y2="109.50" stroke="#8c8c8c" stroke-width="3.00"/>
<line x1="225.60" y1="102.40" x2="225.80" y2="109.50" stroke="#8c8c8c" stroke-width="3.00"/>
<line x1="225.60" y1="102.40" x2="220.05" y2="98.95" stroke="#8c8c8c" stroke-width="3.00"/>
<line x1="214.50" y1="95.50" x2="220.05" y2="98.95" stroke="#8c8c8c" stroke-width="3.00"/>
<line x1="225.60" y1="102.40" x2="229.95" y2="99.40" stroke="#8c8c8c" stroke-width="3.00"/>
<line x1="234.30" y1="96.40" x2="229.95" y2="99.40" stroke="#8c8c8c" stroke-width="3.00"/>
<line x1="234.30" y1="96.40" x2="239.35" y2="99.60" stroke="#8c8c8c" stroke-width="3.00"/>
<line x1="244.40" y1="102.80" x2="239.35" y2="99.60" stroke="#8c8c8c" stroke-width="3.00"/>
<line x1="244.40" y1="102.80" x2="244.85" y2="110.15" stroke="#8c8c8c" stroke-width="3.00"/>
<line x1="245.30" y1="117.50" x2="244.85" y2="110.15" stroke="#8c8c8c" stroke-width="3.00"/>
<line x1="245.30" y1="117.50" x2="240.70" y2="120.95" stroke="#8c8c8c" stroke-width="3.00"/>
<line x1="236.10" y1="124.40" x2="240.70" y2="120.95" stroke="#8c8c8c" stroke-width="3.00"/>
<line x1="236.10" y1="124.40" x2="231.05" y2="120.50" stroke="#8c8c8c" stroke-width="3.00"/>
<line x1="226.00" y1="116.60" x2="231.05" y2="120.50" stroke="#8c8c8c" stroke-width="3.00"/>
<line x1="234.30" y1="96.40" x2="234.15" y2="90.60" stroke="#8c8c8c" stroke-width="3.00"/>
<line x1="234.00" y1="84.80" x2="234.15" y2="90.60" stroke="#dcdcdc" stroke-width="3.00"/>
<line x1="244.40" y1="102.80" x2="248.75" y2="100.55" stroke="#8c8c8c" stroke-width="3.00"/>
<line x1="253.10" y1="98.30" x2="248.75" y2="100.55" stroke="#ee1414" stroke-width="3.00"/>
<line x1="253.10" y1="98.30" x2="251.95" y2="93.90" stroke="#ee1414" stroke-width="3.00"/>
<line x1="250.80" y1="89.50" x2="251.95" y2="93.90" stroke="#dcdcdc" stroke-width="3.00"/>
<line x1="245.30" y1="117.50" x2="250.15" y2="120.95" stroke="#8c8c8c" stroke-width="3.00"/>
<line x1="255.00" y1="124.40" x2="250.15" y2="120.95" stroke="#ee1414" stroke-width="3.00"/>
<line x1="255.00" y1="124.40" x2="257.50" y2="120.95" stroke="#ee1414" stroke-width="3.00"/>
<line x1="260.00" y1="117.50" x2="257.50" y2="120.95" stroke="#dcdcdc" stroke-width="3.00"/>
<line x1="236.10" y1="124.40" x2="236.80" y2="129.70" stroke="#8c8c8c" stroke-width="3.00"/>
<line x1="237.50" y1="135.00" x2="236.80" y2="129.70" stroke="#dcdcdc" stroke-width="3.00"/>
<line x1="203.00" y1="117.50" x2="198.75" y2="120.50" stroke="#8c8c8c" stroke-width="3.00"/>
<line x1="194.50" y1="123.50" x2="198.75" y2="120.50" stroke="#8c8c8c" stroke-width="3.00"/>
<line x1="194.50" y1="123.50" x2="195.25" y2="130.00" stroke="#8c8c8c" stroke-width="3.00"/>
<line x1="196.00" y1="136.50" x2="195.25" y2="130.00" stroke="#8c8c8c" stroke-width="3.00"/>
<line x1="196.00" y1="136.50" x2="201.75" y2="140.25" stroke="#8c8c8c" stroke-width="3.00"/>
<line x1="207.50" y1="144.00" x2="201.75" y2="140.25" stroke="#8c8c8c" stroke-width="3.00"/>
<line x1="207.50" y1="144.00" x2="212.00" y2="141.00" stroke="#8c8c8c" stroke-width="3.00"/>
<line x1="216.50" y1="138.00" x2="212.00" y2="141.00" stroke="#8c8c8c" stroke-width="3.00"/>
<line x1="216.50" y1="138.00" x2="216.00" y2="131.50" stroke="#8c8c8c" stroke-width="3.00"/>
<line x1="215.50" y1="125.00" x2="216.00" y2="131.50" stroke="#8c8c8c" stroke-width="3.00"/>
<line x1="194.50" y1="123.50" x2="190.25" y2="120.25" stroke="#8c8c8c" stroke-width="3.00"/>
<line x1="186.00" y1="117.00" x2="190.25" y2="120.25" stroke="#dcdcdc" stroke-width="3.00"/>
<line x1="196.00" y1="136.50" x2="192.00" y2="139.75" stroke="#8c8c8c" stroke-width="3.00"/>
<line x1="188.00" y1="143.00" x2="192.00" y2="139.75" stroke="#ee1414" stroke-width="3.00"/>
<line x1="188.00" y1="143.00" x2="190.25" y2="147.25" stroke="#ee1414" stroke-width="3.00"/>
<line x1="192.50" y1="151.50" x2="190.25" y2="147.25" stroke="#dcdcdc" stroke-width="3.00"/>
<line x1="207.50" y1="144.00" x2="208.25" y2="150.65" stroke="#8c8c8c" stroke-width="3.00"/>
<line x1="209.00" y1="157.30" x2="208.25" y2="150.65" stroke="#ee1414" stroke-width="3.00"/>
<line x1="209.00" y1="157.30" x2="214.00" y2="158.90" stroke="#ee1414" stroke-width="3.00"/>
<line x1="219.00" y1="160.50" x2="214.00" y2="158.90" stroke="#dcdcdc" stroke-width="3.00"/>
<line x1="216.50" y1="138.00" x2="221.00" y2="140.75" stroke="#8c8c8c" stroke-width="3.00"/>
<line x1="225.50" y1="143.50" x2="221.00" y2="140.75" stroke="#dcdcdc" stroke-width="3.00"/>
<line x1="123.50" y1="74.50" x2="131.00" y2="81.00" stroke="#ee1414" stroke-width="3.00"/>
<line x1="138.50" y1="87.50" x2="131.00" y2="81.00" stroke="#f29a82" stroke-width="3.00"/>
<line x1="138.50" y1="87.50" x2="146.00" y2="81.00" stroke="#f29a82" stroke-width="3.00"/>
<line x1="153.50" y1="74.50" x2="146.00" y2="81.00" stroke="#ee1414" stroke-width="3.00"/>
<line x1="123.80" y1="100.80" x2="131.15" y2="94.15" stroke="#ee1414" stroke-width="3.00"/>
<line x1="138.50" y1="87.50" x2="131.15" y2="94.15" stroke="#f29a82" stroke-width="3.00"/>
<line x1="138.50" y1="87.50" x2="145.85" y2="94.15" stroke="#f29a82" stroke-width="3.00"/>
<line x1="153.20" y1="100.80" x2="145.85" y2="94.15" stroke="#ee1414" stroke-width="3.00"/>
<line x1="60.50" y1="53.50" x2="67.25" y2="56.75" stroke="#b8b8b8" stroke-width="0.90"/>
<line x1="74.00" y1="60.00" x2="67.25" y2="56.75" stroke="#b8b8b8" stroke-width="0.90"/>
<line x1="74.00" y1="60.00" x2="74.25" y2="67.00" stroke="#b8b8b8" stroke-width="0.90"/>
<line x1="74.50" y1="74.00" x2="74.25" y2="67.00" stroke="#b8b8b8" stroke-width="0.90"/>
<line x1="74.50" y1="74.00" x2="68.25" y2="77.75" stroke="#b8b8b8" stroke-width="0.90"/>
<line x1="62.00" y1="81.50" x2="68.25" y2="77.75" stroke="#b8b8b8" stroke-width="0.90"/>
<line x1="62.00" y1="81.50" x2="55.75" y2="77.75" stroke="#b8b8b8" stroke-width="0.90"/>
<line x1="49.50" y1="74.00" x2="55.75" y2="77.75" stroke="#b8b8b8" stroke-width="0.90"/>
<line x1="49.50" y1="74.00" x2="49.25" y2="67.25" stroke="#b8b8b8" stroke-width="0.90"/>
<line x1="49.00" y1="60.50" x2="49.25" y2="67.25" stroke="#b8b8b8" stroke-width="0.90"/>
<line x1="49.00" y1="60.50" x2="54.75" y2="57.00" stroke="#b8b8b8" stroke-width="0.90"/>
<line x1="60.50" y1="53.50" x2="54.75" y2="57.00" stroke="#b8b8b8" stroke-width="0.90"/>
<line x1="60.50" y1="53.50" x2="60.00" y2="46.50" stroke="#b8b8b8" stroke-width="0.90"/>
<line x1="59.50" y1="39.50" x2="60.00" y2="46.50" stroke="#ff5a5a" stroke-width="0.90"/>
<line x1="59.50" y1="39.50" x2="64.00" y2="37.25" stroke="#ff5a5a" stroke-width="0.90"/>
<line x1="68.50" y1="35.00" x2="64.00" y2="37.25" stroke="#f8f8f8" stroke-width="0.90"/>
<line x1="49.00" y1="60.50" x2="42.75" y2="57.75" stroke="#b8b8b8" stroke-width="0.90"/>
<line x1="36.50" y1="55.00" x2="42.75" y2="57.75" stroke="#ff5a5a" stroke-width="0.90"/>
<line x1="36.50" y1="55.00" x2="37.50" y2="49.75" stroke="#ff5a5a" stroke-width="0.90"/>
<line x1="38.50" y1="44.50" x2="37.50" y2="49.75" stroke="#f8f8f8" stroke-width="0.90"/>
<line x1="74.00" y1="60.00" x2="78.50" y2="56.75" stroke="#b8b8b8" stroke-width="0.90"/>
<line x1="83.00" y1="53.50" x2="78.50" y2="56.75" stroke="#f8f8f8" stroke-width="0.90"/>
<line x1="49.50" y1="74.00" x2="45.00" y2="76.75" stroke="#b8b8b8" stroke-width="0.90"/>
<line x1="40.50" y1="79.50" x2="45.00" y2="76.75" stroke="#f8f8f8" stroke-width="0.90"/>
<line x1="74.50" y1="74.00" x2="81.00" y2="77.50" stroke="#b8b8b8" stroke-width="0.90"/>
<line x1="87.50" y1="81.00" x2="81.00" y2="77.50" stroke="#b8b8b8" stroke-width="0.90"/>
<line x1="87.50" y1="81.00" x2="87.50" y2="88.25" stroke="#b8b8b8" stroke-width="0.90"/>
<line x1="87.50" y1="95.50" x2="87.50" y2="88.25" stroke="#b8b8b8" stroke-width="0.90"/>
<line x1="87.50" y1="95.50" x2="81.00" y2="99.25" stroke="#b8b8b8" stroke-width="0.90"/>
<line x1="74.50" y1="103.00" x2="81.00" y2="99.25" stroke="#b8b8b8" stroke-width="0.90"/>
<line x1="74.50" y1="103.00" x2="68.50" y2="99.25" stroke="#b8b8b8" stroke-width="0.90"/>
<line x1="62.50" y1="95.50" x2="68.50" y2="99.25" stroke="#b8b8b8" stroke-width="0.90"/>
<line x1="62.50" y1="95.50" x2="62.25" y2="88.50" stroke="#b8b8b8" stroke-width="0.90"/>
<line x1="62.00" y1="81.50" x2="62.25" y2="88.50" stroke="#b8b8b8" stroke-width="0.90"/>
<line x1="87.50" y1="81.00" x2="93.75" y2="77.50" stroke="#b8b8b8" stroke-width="0.90"/>
<line x1="100.00" y1="74.00" x2="93.75" y2="77.50" stroke="#b8b8b8" stroke-width="0.90"/>
<line x1="100.00" y1="74.00" x2="106.25" y2="77.25" stroke="#b8b8b8" stroke-width="0.90"/>
<line x1="112.50" y1="80.50" x2="106.25" y2="77.25" stroke="#b8b8b8" stroke-width="0.90"/>
<line x1="112.50" y1="80.50" x2="112.50" y2="87.75" stroke="#b8b8b8" stroke-width="0.90"/>
<line x1="112.50" y1="95.00" x2="112.50" y2="87.75" stroke="#b8b8b8" stroke-width="0.90"/>
<line x1="112.50" y1="95.00" x2="106.25" y2="98.75" stroke="#b8b8b8" stroke-width="0.90"/>
<line x1="100.00" y1="102.50" x2="106.25" y2="98.75" stroke="#b8b8b8" stroke-width="0.90"/>
<line x1="100.00" y1="102.50" x2="93.75" y2="99.00" stroke="#b8b8b8" stroke-width="0.90"/>
<line x1="87.50" y1="95.50" x2="93.75" y2="99.00" stroke="#b8b8b8" stroke-width="0.90"/>
<line x1="100.00" y1="74.00" x2="100.00" y2="68.25" stroke="#b8b8b8" stroke-width="0.90"/>
<line x1="100.00" y1="62.50" x2="100.00" y2="68.25" stroke="#f8f8f8" stroke-width="0.90"/>
<line x1="100.00" y1="102.50" x2="100.00" y2="106.75" stroke="#b8b8b8" stroke-width="0.90"/>
<line x1="100.00" y1="111.00" x2="100.00" y2="106.75" stroke="#f8f8f8" stroke-width="0.90"/>
<line x1="112.50" y1="80.50" x2="118.00" y2="77.50" stroke="#b8b8b8" stroke-width="0.90"/>
<line x1="123.50" y1="74.50" x2="118.00" y2="77.50" stroke="#ff5a5a" stroke-width="0.90"/>
<line x1="112.50" y1="95.00" x2="118.15" y2="97.90" stroke="#b8b8b8" stroke-width="0.90"/>
<line x1="123.80" y1="100.80" x2="118.15" y2="97.90" stroke="#ff5a5a" stroke-width="0.90"/>
<line x1="74.50" y1="103.00" x2="74.25" y2="110.25" stroke="#b8b8b8" stroke-width="0.90"/>
<line x1="74.00" y1="117.50" x2="74.25" y2="110.25" stroke="#b8b8b8" stroke-width="0.90"/>
<line x1="74.00" y1="117.50" x2="67.75" y2="121.25" stroke="#b8b8b8" stroke-width="0.90"/>
<line x1="61.50" y1="125.00" x2="67.75" y2="121.25" stroke="#b8b8b8" stroke-width="0.90"/>
<line x1="61.50" y1="125.00" x2="56.75" y2="121.75" stroke="#b8b8b8" stroke-width="0.90"/>
<line x1="52.00" y1="118.50" x2="56.75" y2="121.75" stroke="#b8b8b8" stroke-width="0.90"/>
<line x1="52.00" y1="118.50" x2="52.00" y2="111.50" stroke="#b8b8b8" stroke-width="0.90"/>
<line x1="52.00" y1="104.50" x2="52.00" y2="111.50" stroke="#b8b8b8" stroke-width="0.90"/>
<line x1="52.00" y1="104.50" x2="57.25" y2="100.00" stroke="#b8b8b8" stroke-width="0.90"/>
<line x1="62.50" y1="95.50" x2="57.25" y2="100.00" stroke="#b8b8b8" stroke-width="0.90"/>
<line x1="52.00" y1="104.50" x2="47.25" y2="101.25" stroke="#b8b8b8" stroke-width="0.90"/>
<line x1="42.50" y1="98.00" x2="47.25" y2="101.25" stroke="#b8b8b8" stroke-width="0.90"/>
<line x1="42.50" y1="98.00" x2="37.50" y2="102.25" stroke="#b8b8b8" stroke-width="0.90"/>
<line x1="32.50" y1="106.50" x2="37.50" y2="102.25" stroke="#b8b8b8" stroke-width="0.90"/>
<line x1="32.50" y1="106.50" x2="32.25" y2="113.25" stroke="#b8b8b8" stroke-width="0.90"/>
<line x1="32.00" y1="120.00" x2="32.25" y2="113.25" stroke="#b8b8b8" stroke-width="0.90"/>
<line x1="32.00" y1="120.00" x2="36.75" y2="123.00" stroke="#b8b8b8" stroke-width="0.90"/>
<line x1="41.50" y1="126.00" x2="36.75" y2="123.00" stroke="#b8b8b8" stroke-width="0.90"/>
<line x1="41.50" y1="126.00" x2="46.75" y2="122.25" stroke="#b8b8b8" stroke-width="0.90"/>
<line x1="52.00" y1="118.50" x2="46.75" y2="122.25" stroke="#b8b8b8" stroke-width="0.90"/>
<line x1="42.50" y1="98.00" x2="42.75" y2="92.75" stroke="#b8b8b8" stroke-width="0.90"/>
<line x1="43.00" y1="87.50" x2="42.75" y2="92.75" stroke="#f8f8f8" stroke-width="0.90"/>
<line x1="32.50" y1="106.50" x2="28.00" y2="104.00" stroke="#b8b8b8" stroke-width="0.90"/>
<line x1="23.50" y1="101.50" x2="28.00" y2="104.00" stroke="#ff5a5a" stroke-width="0.90"/>
<line x1="23.50" y1="101.50" x2="24.00" y2="96.50" stroke="#ff5a5a" stroke-width="0.90"/>
<line x1="24.50" y1="91.50" x2="24.00" y2="96.50" stroke="#f8f8f8" stroke-width="0.90"/>
<line x1="32.00" y1="120.00" x2="27.25" y2="123.25" stroke="#b8b8b8" stroke-width="0.90"/>
<line x1="22.50" y1="126.50" x2="27.25" y2="123.25" stroke="#ff5a5a" stroke-width="0.90"/>
<line x1="22.50" y1="126.50" x2="19.50" y2="124.00" stroke="#ff5a5a" stroke-width="0.90"/>
<line x1="16.50" y1="121.50" x2="19.50" y2="124.00" stroke="#f8f8f8" stroke-width="0.90"/>
<line x1="41.50" y1="126.00" x2="41.50" y2="130.75" stroke="#b8b8b8" stroke-width="0.90"/>
<line x1="41.50" y1="135.50" x2="41.50" y2="130.75" stroke="#f8f8f8" stroke-width="0.90"/>
<line x1="74.00" y1="117.50" x2="78.25" y2="120.50" stroke="#b8b8b8" stroke-width="0.90"/>
<line x1="82.50" y1="123.50" x2="78.25" y2="120.50" stroke="#b8b8b8" stroke-width="0.90"/>
<line x1="82.50" y1="123.50" x2="81.75" y2="130.00" stroke="#b8b8b8" stroke-width="0.90"/>
<line x1="81.00" y1="136.50" x2="81.75" y2="130.00" stroke="#b8b8b8" stroke-width="0.90"/>
<line x1="81.00" y1="136.50" x2="75.25" y2="140.25" stroke="#b8b8b8" stroke-width="0.90"/>
<line x1="69.50" y1="144.00" x2="75.25" y2="140.25" stroke="#b8b8b8" stroke-width="0.90"/>
<line x1="69.50" y1="144.00" x2="65.00" y2="141.00" stroke="#b8b8b8" stroke-width="0.90"/>
<line x1="60.50" y1="138.00" x2="65.00" y2="141.00" stroke="#b8b8b8" stroke-width="0.90"/>
<line x1="60.50" y1="138.00" x2="61.00" y2="131.50" stroke="#b8b8b8" stroke-width="0.90"/>
<line x1="61.50" y1="125.00" x2="61.00" y2="131.50" stroke="#b8b8b8" stroke-width="0.90"/>
<line x1="82.50" y1="123.50" x2="86.75" y2="120.25" stroke="#b8b8b8" stroke-width="0.90"/>
<line x1="91.00" y1="117.00" x2="86.75" y2="120.25" stroke="#f8f8f8" stroke-width="0.90"/>
<line x1="81.00" y1="136.50" x2="85.00" y2="139.75" stroke="#b8b8b8" stroke-width="0.90"/>
<line x1="89.00" y1="143.00" x2="85.00" y2="139.75" stroke="#ff5a5a" stroke-width="0.90"/>
<line x1="89.00" y1="143.00" x2="93.00" y2="140.25" stroke="#ff5a5a" stroke-width="0.90"/>
<line x1="97.00" y1="137.50" x2="93.00" y2="140.25" stroke="#f8f8f8" stroke-width="0.90"/>
<line x1="69.50" y1="144.00" x2="68.75" y2="150.65" stroke="#b8b8b8" stroke-width="0.90"/>
<line x1="68.00" y1="157.30" x2="68.75" y2="150.65" stroke="#ff5a5a" stroke-width="0.90"/>
<line x1="68.00" y1="157.30" x2="71.75" y2="158.55" stroke="#ff5a5a" stroke-width="0.90"/>
<line x1="75.50" y1="159.80" x2="71.75" y2="158.55" stroke="#f8f8f8" stroke-width="0.90"/>
<line x1="60.50" y1="138.00" x2="56.00" y2="140.75" stroke="#b8b8b8" stroke-width="0.90"/>
<line x1="51.50" y1="143.50" x2="56.00" y2="140.75" stroke="#f8f8f8" stroke-width="0.90"/>
<line x1="216.50" y1="53.50" x2="209.75" y2="56.75" stroke="#b8b8b8" stroke-width="0.90"/>
<line x1="203.00" y1="60.00" x2="209.75" y2="56.75" stroke="#b8b8b8" stroke-width="0.90"/>
<line x1="203.00" y1="60.00" x2="202.75" y2="67.00" stroke="#b8b8b8" stroke-width="0.90"/>
<line x1="202.50" y1="74.00" x2="202.75" y2="67.00" stroke="#b8b8b8" stroke-width="0.90"/>
<line x1="202.50" y1="74.00" x2="208.75" y2="77.75" stroke="#b8b8b8" stroke-width="0.90"/>
<line x1="215.00" y1="81.50" x2="208.75" y2="77.75" stroke="#b8b8b8" stroke-width="0.90"/>
<line x1="215.00" y1="81.50" x2="221.25" y2="77.75" stroke="#b8b8b8" stroke-width="0.90"/>
<line x1="227.50" y1="74.00" x2="221.25" y2="77.75" stroke="#b8b8b8" stroke-width="0.90"/>
<line x1="227.50" y1="74.00" x2="227.75" y2="67.25" stroke="#b8b8b8" stroke-width="0.90"/>
<line x1="228.00" y1="60.50" x2="227.75" y2="67.25" stroke="#b8b8b8" stroke-width="0.90"/>
<line x1="228.00" y1="60.50" x2="222.25" y2="57.00" stroke="#b8b8b8" stroke-width="0.90"/>
<line x1="216.50" y1="53.50" x2="222.25" y2="57.00" stroke="#b8b8b8" stroke-width="0.90"/>
<line x1="216.50" y1="53.50" x2="217.00" y2="46.50" stroke="#b8b8b8" stroke-width="0.90"/>
<line x1="217.50" y1="39.50" x2="217.00" y2="46.50" stroke="#ff5a5a" stroke-width="0.90"/>
<line x1="217.50" y1="39.50" x2="221.75" y2="37.75" stroke="#ff5a5a" stroke-width="0.90"/>
<line x1="226.00" y1="36.00" x2="221.75" y2="37.75" stroke="#f8f8f8" stroke-width="0.90"/>
<line x1="228.00" y1="60.50" x2="234.00" y2="57.00" stroke="#b8b8b8" stroke-width="0.90"/>
<line x1="240.00" y1="53.50" x2="234.00" y2="57.00" stroke="#ff5a5a" stroke-width="0.90"/>
<line x1="240.00" y1="53.50" x2="243.50" y2="56.00" stroke="#ff5a5a" stroke-width="0.90"/>
<line x1="247.00" y1="58.50" x2="243.50" y2="56.00" stroke="#f8f8f8" stroke-width="0.90"/>
<line x1="203.00" y1="60.00" x2="198.50" y2="56.75" stroke="#b8b8b8" stroke-width="0.90"/>
<line x1="194.00" y1="53.50" x2="198.50" y2="56.75" stroke="#f8f8f8" stroke-width="0.90"/>
<line x1="227.50" y1="74.00" x2="232.00" y2="76.75" stroke="#b8b8b8" stroke-width="0.90"/>
<line x1="236.50" y1="79.50" x2="232.00" y2="76.75" stroke="#f8f8f8" stroke-width="0.90"/>
<line x1="202.50" y1="74.00" x2="196.00" y2="77.50" stroke="#b8b8b8" stroke-width="0.90"/>
<line x1="189.50" y1="81.00" x2="196.00" y2="77.50" stroke="#b8b8b8" stroke-width="0.90"/>
<line x1="189.50" y1="81.00" x2="189.50" y2="88.25" stroke="#b8b8b8" stroke-width="0.90"/>
<line x1="189.50" y1="95.50" x2="189.50" y2="88.25" stroke="#b8b8b8" stroke-width="0.90"/>
<line x1="189.50" y1="95.50" x2="196.00" y2="99.25" stroke="#b8b8b8" stroke-width="0.90"/>
<line x1="202.50" y1="103.00" x2="196.00" y2="99.25" stroke="#b8b8b8" stroke-width="0.90"/>
<line x1="202.50" y1="103.00" x2="208.50" y2="99.25" stroke="#b8b8b8" stroke-width="0.90"/>
<line x1="214.50" y1="95.50" x2="208.50" y2="99.25" stroke="#b8b8b8" stroke-width="0.90"/>
<line x1="214.50" y1="95.50" x2="214.75" y2="88.50" stroke="#b8b8b8" stroke-width="0.90"/>
<line x1="215.00" y1="81.50" x2="214.75" y2="88.50" stroke="#b8b8b8" stroke-width="0.90"/>
<line x1="189.50" y1="81.00" x2="183.25" y2="77.50" stroke="#b8b8b8" stroke-width="0.90"/>
<line x1="177.00" y1="74.00" x2="183.25" y2="77.50" stroke="#b8b8b8" stroke-width="0.90"/>
<line x1="177.00" y1="74.00" x2="170.75" y2="77.25" stroke="#b8b8b8" stroke-width="0.90"/>
<line x1="164.50" y1="80.50" x2="170.75" y2="77.25" stroke="#b8b8b8" stroke-width="0.90"/>
<line x1="164.50" y1="80.50" x2="164.50" y2="87.75" stroke="#b8b8b8" stroke-width="0.90"/>
<line x1="164.50" y1="95.00" x2="164.50" y2="87.75" stroke="#b8b8b8" stroke-width="0.90"/>
<line x1="164.50" y1="95.00" x2="170.75" y2="98.75" stroke="#b8b8b8" stroke-width="0.90"/>
<line x1="177.00" y1="102.50" x2="170.75" y2="98.75" stroke="#b8b8b8" stroke-width="0.90"/>
<line x1="177.00" y1="102.50" x2="183.25" y2="99.00" stroke="#b8b8b8" stroke-width="0.90"/>
<line x1="189.50" y1="95.50" x2="183.25" y2="99.00" stroke="#b8b8b8" stroke-width="0.90"/>
<line x1="177.00" y1="74.00" x2="177.00" y2="68.25" stroke="#b8b8b8" stroke-width="0.90"/>
<line x1="177.00" y1="62.50" x2="177.00" y2="68.25" stroke="#f8f8f8" stroke-width="0.90"/>
<line x1="177.00" y1="102.50" x2="177.00" y2="106.75" stroke="#b8b8b8" stroke-width="0.90"/>
<line x1="177.00" y1="111.00" x2="177.00" y2="106.75" stroke="#f8f8f8" stroke-width="0.90"/>
<line x1="164.50" y1="80.50" x2="159.00" y2="77.50" stroke="#b8b8b8" stroke-width="0.90"/>
<line x1="153.50" y1="74.50" x2="159.00" y2="77.50" stroke="#ff5a5a" stroke-width="0.90"/>
<line x1="164.50" y1="95.00" x2="158.85" y2="97.90" stroke="#b8b8b8" stroke-width="0.90"/>
<line x1="153.20" y1="100.80" x2="158.85" y2="97.90" stroke="#ff5a5a" stroke-width="0.90"/>
<line x1="202.50" y1="103.00" x2="202.75" y2="110.25" stroke="#b8b8b8" stroke-width="0.90"/>
<line x1="203.00" y1="117.50" x2="202.75" y2="110.25" stroke="#b8b8b8" stroke-width="0.90"/>
<line x1="203.00" y1="117.50" x2="209.25" y2="121.25" stroke="#b8b8b8" stroke-width="0.90"/>
<line x1="215.50" y1="125.00" x2="209.25" y2="121.25" stroke="#b8b8b8" stroke-width="0.90"/>
<line x1="215.50" y1="125.00" x2="220.75" y2="120.80" stroke="#b8b8b8" stroke-width="0.90"/>
<line x1="226.00" y1="116.60" x2="220.75" y2="120.80" stroke="#b8b8b8" stroke-width="0.90"/>
<line x1="226.00" y1="116.60" x2="225.80" y2="109.50" stroke="#b8b8b8" stroke-width="0.90"/>
<line x1="225.60" y1="102.40" x2="225.80" y2="109.50" stroke="#b8b8b8" stroke-width="0.90"/>
<line x1="225.60" y1="102.40" x2="220.05" y2="98.95" stroke="#b8b8b8" stroke-width="0.90"/>
<line x1="214.50" y1="95.50" x2="220.05" y2="98.95" stroke="#b8b8b8" stroke-width="0.90"/>
<line x1="225.60" y1="102.40" x2="229.95" y2="99.40" stroke="#b8b8b8" stroke-width="0.90"/>
<line x1="234.30" y1="96.40" x2="229.95" y2="99.40" stroke="#b8b8b8" stroke-width="0.90"/>
<line x1="234.30" y1="96.40" x2="239.35" y2="99.60" stroke="#b8b8b8" stroke-width="0.90"/>
<line x1="244.40" y1="102.80" x2="239.35" y2="99.60" stroke="#b8b8b8" stroke-width="0.90"/>
<line x1="244.40" y1="102.80" x2="244.85" y2="110.15" stroke="#b8b8b8" stroke-width="0.90"/>
<line x1="245.30" y1="117.50" x2="244.85" y2="110.15" stroke="#b8b8b8" stroke-width="0.90"/>
<line x1="245.30" y1="117.50" x2="240.70" y2="120.95" stroke="#b8b8b8" stroke-width="0.90"/>
<line x1="236.10" y1="124.40" x2="240.70" y2="120.95" stroke="#b8b8b8" stroke-width="0.90"/>
<line x1="236.10" y1="124.40" x2="231.05" y2="120.50" stroke="#b8b8b8" stroke-width="0.90"/>
<line x1="226.00" y1="116.60" x2="231.05" y2="120.50" stroke="#b8b8b8" stroke-width="0.90"/>
<line x1="234.30" y1="96.40" x2="234.15" y2="90.60" stroke="#b8b8b8" stroke-width="0.90"/>
<line x1="234.00" y1="84.80" x2="234.15" y2="90.60" stroke="#f8f8f8" stroke-width="0.90"/>
<line x1="244.40" y1="102.80" x2="248.75" y2="100.55" stroke="#b8b8b8" stroke-width="0.90"/>
<line x1="253.10" y1="98.30" x2="248.75" y2="100.55" stroke="#ff5a5a" stroke-width="0.90"/>
<line x1="253.10" y1="98.30" x2="251.95" y2="93.90" stroke="#ff5a5a" stroke-width="0.90"/>
<line x1="250.80" y1="89.50" x2="251.95" y2="93.90" stroke="#f8f8f8" stroke-width="0.90"/>
<line x1="245.30" y1="117.50" x2="250.15" y2="120.95" stroke="#b8b8b8" stroke-width="0.90"/>
<line x1="255.00" y1="124.40" x2="250.15" y2="120.95" stroke="#ff5a5a" stroke-width="0.90"/>
<line x1="255.00" y1="124.40" x2="257.50" y2="120.95" stroke="#ff5a5a" stroke-width="0.90"/>
<line x1="260.00" y1="117.50" x2="257.50" y2="120.95" stroke="#f8f8f8" stroke-width="0.90"/>
<line x1="236.10" y1="124.40" x2="236.80" y2="129.70" stroke="#b8b8b8" stroke-width="0.90"/>
<line x1="237.50" y1="135.00" x2="236.80" y2="129.70" stroke="#f8f8f8" stroke-width="0.90"/>
<line x1="203.00" y1="117.50" x2="198.75" y2="120.50" stroke="#b8b8b8" stroke-width="0.90"/>
<line x1="194.50" y1="123.50" x2="198.75" y2="120.50" stroke="#b8b8b8" stroke-width="0.90"/>
<line x1="194.50" y1="123.50" x2="195.25" y2="130.00" stroke="#b8b8b8" stroke-width="0.90"/>
<line x1="196.00" y1="136.50" x2="195.25" y2="130.00" stroke="#b8b8b8" stroke-width="0.90"/>
<line x1="196.00" y1="136.50" x2="201.75" y2="140.25" stroke="#b8b8b8" stroke-width="0.90"/>
<line x1="207.50" y1="144.00" x2="201.75" y2="140.25" stroke="#b8b8b8" stroke-width="0.90"/>
<line x1="207.50" y1="144.00" x2="212.00" y2="141.00" stroke="#b8b8b8" stroke-width="0.90"/>
<line x1="216.50" y1="138.00" x2="212.00" y2="141.00" stroke="#b8b8b8" stroke-width="0.90"/>
<line x1="216.50" y1="138.00" x2="216.00" y2="131.50" stroke="#b8b8b8" stroke-width="0.90"/>
<line x1="215.50" y1="125.00" x2="216.00" y2="131.50" stroke="#b8b8b8" stroke-width="0.90"/>
<line x1="194.50" y1="123.50" x2="190.25" y2="120.25" stroke="#b8b8b8" stroke-width="0.90"/>
<line x1="186.00" y1="117.00" x2="190.25" y2="120.25" stroke="#f8f8f8" stroke-width="0.90"/>
<line x1="196.00" y1="136.50" x2="192.00" y2="139.75" stroke="#b8b8b8" stroke-width="0.90"/>
<line x1="188.00" y1="143.00" x2="192.00" y2="139.75" stroke="#ff5a5a" stroke-width="0.90"/>
<line x1="188.00" y1="143.00" x2="190.25" y2="147.25" stroke="#ff5a5a" stroke-width="0.90"/>
<line x1="192.50" y1="151.50" x2="190.25" y2="147.25" stroke="#f8f8f8" stroke-width="0.90"/>
<line x1="207.50" y1="144.00" x2="208.25" y2="150.65" stroke="#b8b8b8" stroke-width="0.90"/>
<line x1="209.00" y1="157.30" x2="208.25" y2="150.65" stroke="#ff5a5a" stroke-width="0.90"/>
<line x1="209.00" y1="157.30" x2="214.00" y2="158.90" stroke="#ff5a5a" stroke-width="0.90"/>
<line x1="219.00" y1="160.50" x2="214.00" y2="158.90" stroke="#f8f8f8" stroke-width="0.90"/>
<line x1="216.50" y1="138.00" x2="221.00" y2="140.75" stroke="#b8b8b8" stroke-width="0.90"/>
<line x1="225.50" y1="143.50" x2="221.00" y2="140.75" stroke="#f8f8f8" stroke-width="0.90"/>
<line x1="123.50" y1="74.50" x2="131.00" y2="81.00" stroke="#ff5a5a" stroke-width="0.90"/>
<line x1="138.50" y1="87.50" x2="131.00" y2="81.00" stroke="#ffc4b2" stroke-width="0.90"/>
<line x1="138.50" y1="87.50" x2="146.00" y2="81.00" stroke="#ffc4b2" stroke-width="0.90"/>
<line x1="153.50" y1="74.50" x2="146.00" y2="81.00" stroke="#ff5a5a" stroke-width="0.90"/>
<line x1="123.80" y1="100.80" x2="131.15" y2="94.15" stroke="#ff5a5a" stroke-width="0.90"/>
<line x1="138.50" y1="87.50" x2="131.15" y2="94.15" stroke="#ffc4b2" stroke-width="0.90"/>
<line x1="138.50" y1="87.50" x2="145.85" y2="94.15" stroke="#ffc4b2" stroke-width="0.90"/>
<line x1="153.20" y1="100.80" x2="145.85" y2="94.15" stroke="#ff5a5a" stroke-width="0.90"/>
<circle cx="68.50" cy="35.00" r="3.50" fill="url(#gH)"/>
<circle cx="38.50" cy="44.50" r="3.50" fill="url(#gH)"/>
<circle cx="83.00" cy="53.50" r="3.50" fill="url(#gH)"/>
<circle cx="40.50" cy="79.50" r="3.50" fill="url(#gH)"/>
<circle cx="100.00" cy="62.50" r="3.50" fill="url(#gH)"/>
<circle cx="100.00" cy="111.00" r="3.50" fill="url(#gH)"/>
<circle cx="43.00" cy="87.50" r="3.50" fill="url(#gH)"/>
<circle cx="24.50" cy="91.50" r="3.50" fill="url(#gH)"/>
<circle cx="16.50" cy="121.50" r="3.50" fill="url(#gH)"/>
<circle cx="41.50" cy="135.50" r="3.50" fill="url(#gH)"/>
<circle cx="91.00" cy="117.00" r="3.50" fill="url(#gH)"/>
<circle cx="97.00" cy="137.50" r="3.50" fill="url(#gH)"/>
<circle cx="75.50" cy="159.80" r="3.50" fill="url(#gH)"/>
<circle cx="51.50" cy="143.50" r="3.50" fill="url(#gH)"/>
<circle cx="226.00" cy="36.00" r="3.50" fill="url(#gH)"/>
<circle cx="247.00" cy="58.50" r="3.50" fill="url(#gH)"/>
<circle cx="194.00" cy="53.50" r="3.50" fill="url(#gH)"/>
<circle cx="236.50" cy="79.50" r="3.50" fill="url(#gH)"/>
<circle cx="177.00" cy="62.50" r="3.50" fill="url(#gH)"/>
<circle cx="177.00" cy="111.00" r="3.50" fill="url(#gH)"/>
<circle cx="234.00" cy="84.80" r="3.50" fill="url(#gH)"/>
<circle cx="250.80" cy="89.50" r="3.50" fill="url(#gH)"/>
<circle cx="260.00" cy="117.50" r="3.50" fill="url(#gH)"/>
<circle cx="237.50" cy="135.00" r="3.50" fill="url(#gH)"/>
<circle cx="186.00" cy="117.00" r="3.50" fill="url(#gH)"/>
<circle cx="192.50" cy="151.50" r="3.50" fill="url(#gH)"/>
<circle cx="219.00" cy="160.50" r="3.50" fill="url(#gH)"/>
<circle cx="225.50" cy="143.50" r="3.50" fill="url(#gH)"/>
<circle cx="60.50" cy="53.50" r="3.50" fill="url(#gC)"/>
<circle cx="74.00" cy="60.00" r="3.50" fill="url(#gC)"/>
<circle cx="74.50" cy="74.00" r="3.50" fill="url(#gC)"/>
<circle cx="62.00" cy="81.50" r="3.50" fill="url(#gC)"/>
<circle cx="49.50" cy="74.00" r="3.50" fill="url(#gC)"/>
<circle cx="49.00" cy="60.50" r="3.50" fill="url(#gC)"/>
<circle cx="87.50" cy="81.00" r="3.50" fill="url(#gC)"/>
<circle cx="87.50" cy="95.50" r="3.50" fill="url(#gC)"/>
<circle cx="74.50" cy="103.00" r="3.50" fill="url(#gC)"/>
<circle cx="62.50" cy="95.50" r="3.50" fill="url(#gC)"/>
<circle cx="100.00" cy="74.00" r="3.50" fill="url(#gC)"/>
<circle cx="112.50" cy="80.50" r="3.50" fill="url(#gC)"/>
<circle cx="112.50" cy="95.00" r="3.50" fill="url(#gC)"/>
<circle cx="100.00" cy="102.50" r="3.50" fill="url(#gC)"/>
<circle cx="74.00" cy="117.50" r="3.50" fill="url(#gC)"/>
<circle cx="61.50" cy="125.00" r="3.50" fill="url(#gC)"/>
<circle cx="52.00" cy="118.50" r="3.50" fill="url(#gC)"/>
<circle cx="52.00" cy="104.50" r="3.50" fill="url(#gC)"/>
<circle cx="42.50" cy="98.00" r="3.50" fill="url(#gC)"/>
<circle cx="32.50" cy="106.50" r="3.50" fill="url(#gC)"/>
<circle cx="32.00" cy="120.00" r="3.50" fill="url(#gC)"/>
<circle cx="41.50" cy="126.00" r="3.50" fill="url(#gC)"/>
<circle cx="82.50" cy="123.50" r="3.50" fill="url(#gC)"/>
<circle cx="81.00" cy="136.50" r="3.50" fill="url(#gC)"/>
<circle cx="69.50" cy="144.00" r="3.50" fill="url(#gC)"/>
<circle cx="60.50" cy="138.00" r="3.50" fill="url(#gC)"/>
<circle cx="216.50" cy="53.50" r="3.50" fill="url(#gC)"/>
<circle cx="203.00" cy="60.00" r="3.50" fill="url(#gC)"/>
<circle cx="202.50" cy="74.00" r="3.50" fill="url(#gC)"/>
<circle cx="215.00" cy="81.50" r="3.50" fill="url(#gC)"/>
<circle cx="227.50" cy="74.00" r="3.50" fill="url(#gC)"/>
<circle cx="228.00" cy="60.50" r="3.50" fill="url(#gC)"/>
<circle cx="189.50" cy="81.00" r="3.50" fill="url(#gC)"/>
<circle cx="189.50" cy="95.50" r="3.50" fill="url(#gC)"/>
<circle cx="202.50" cy="103.00" r="3.50" fill="url(#gC)"/>
<circle cx="214.50" cy="95.50" r="3.50" fill="url(#gC)"/>
<circle cx="177.00" cy="74.00" r="3.50" fill="url(#gC)"/>
<circle cx="164.50" cy="80.50" r="3.50" fill="url(#gC)"/>
<circle cx="164.50" cy="95.00" r="3.50" fill="url(#gC)"/>
<circle cx="177.00" cy="102.50" r="3.50" fill="url(#gC)"/>
<circle cx="203.00" cy="117.50" r="3.50" fill="url(#gC)"/>
<circle cx="215.50" cy="125.00" r="3.50" fill="url(#gC)"/>
<circle cx="226.00" cy="116.60" r="3.50" fill="url(#gC)"/>
<circle cx="225.60" cy="102.40" r="3.50" fill="url(#gC)"/>
<circle cx="234.30" cy="96.40" r="3.50" fill="url(#gC)"/>
<circle cx="244.40" cy="102.80" r="3.50" fill="url(#gC)"/>
<circle cx="245.30" cy="117.50" r="3.50" fill="url(#gC)"/>
<circle cx="236.10" cy="124.40" r="3.50" fill="url(#gC)"/>
<circle cx="194.50" cy="123.50" r="3.50" fill="url(#gC)"/>
<circle cx="196.00" cy="136.50" r="3.50" fill="url(#gC)"/>
<circle cx="207.50" cy="144.00" r="3.50" fill="url(#gC)"/>
<circle cx="216.50" cy="138.00" r="3.50" fill="url(#gC)"/>
<circle cx="59.50" cy="39.50" r="3.90" fill="url(#gO)"/>
<circle cx="36.50" cy="55.00" r="3.90" fill="url(#gO)"/>
<circle cx="123.50" cy="74.50" r="3.90" fill="url(#gO)"/>
<circle cx="123.80" cy="100.80" r="3.90" fill="url(#gO)"/>
<circle cx="23.50" cy="101.50" r="3.90" fill="url(#gO)"/>
<circle cx="22.50" cy="126.50" r="3.90" fill="url(#gO)"/>
<circle cx="89.00" cy="143.00" r="3.90" fill="url(#gO)"/>
<circle cx="68.00" cy="157.30" r="3.90" fill="url(#gO)"/>
<circle cx="217.50" cy="39.50" r="3.90" fill="url(#gO)"/>
<circle cx="240.00" cy="53.50" r="3.90" fill="url(#gO)"/>
<circle cx="153.50" cy="74.50" r="3.90" fill="url(#gO)"/>
<circle cx="153.20" cy="100.80" r="3.90" fill="url(#gO)"/>
<circle cx="253.10" cy="98.30" r="3.90" fill="url(#gO)"/>
<circle cx="255.00" cy="124.40" r="3.90" fill="url(#gO)"/>
<circle cx="188.00" cy="143.00" r="3.90" fill="url(#gO)"/>
<circle cx="209.00" cy="157.30" r="3.90" fill="url(#gO)"/>
<circle cx="138.50" cy="87.50" r="3.40" fill="url(#gCu)"/>
<line x1="346.50" y1="88.50" x2="346.50" y2="77.75" stroke="#c06850" stroke-width="4.20"/>
<line x1="346.50" y1="67.00" x2="346.50" y2="77.75" stroke="#0000b8" stroke-width="4.20"/>
<line x1="334.50" y1="60.00" x2="340.50" y2="63.50" stroke="#5c5c5c" stroke-width="4.20"/>
<line x1="346.50" y1="67.00" x2="340.50" y2="63.50" stroke="#0000b8" stroke-width="4.20"/>
<line x1="346.50" y1="67.00" x2="352.50" y2="63.50" stroke="#0000b8" stroke-width="4.20"/>
<line x1="358.50" y1="60.00" x2="352.50" y2="63.50" stroke="#5c5c5c" stroke-width="4.20"/>
<line x1="334.50" y1="60.00" x2="337.10" y2="53.00" stroke="#5c5c5c" stroke-width="4.20"/>
<line x1="339.70" y1="46.00" x2="337.10" y2="53.00" stroke="#5c5c5c" stroke-width="4.20"/>
<line x1="339.70" y1="46.00" x2="346.50" y2="46.00" stroke="#5c5c5c" stroke-width="4.20"/>
<line x1="353.30" y1="46.00" x2="346.50" y2="46.00" stroke="#5c5c5c" stroke-width="4.20"/>
<line x1="353.30" y1="46.00" x2="355.90" y2="53.00" stroke="#5c5c5c" stroke-width="4.20"/>
<line x1="358.50" y1="60.00" x2="355.90" y2="53.00" stroke="#5c5c5c" stroke-width="4.20"/>
<line x1="339.70" y1="46.00" x2="336.10" y2="41.25" stroke="#5c5c5c" stroke-width="4.20"/>
<line x1="332.50" y1="36.50" x2="336.10" y2="41.25" stroke="#a8a8a8" stroke-width="4.20"/>
<line x1="353.30" y1="46.00" x2="356.90" y2="41.25" stroke="#5c5c5c" stroke-width="4.20"/>
<line x1="360.50" y1="36.50" x2="356.90" y2="41.25" stroke="#a8a8a8" stroke-width="4.20"/>
<line x1="358.50" y1="60.00" x2="365.10" y2="61.65" stroke="#5c5c5c" stroke-width="4.20"/>
<line x1="371.70" y1="63.30" x2="365.10" y2="61.65" stroke="#5c5c5c" stroke-width="4.20"/>
<line x1="371.70" y1="63.30" x2="373.35" y2="69.90" stroke="#5c5c5c" stroke-width="4.20"/>
<line x1="375.00" y1="76.50" x2="373.35" y2="69.90" stroke="#5c5c5c" stroke-width="4.20"/>
<line x1="371.70" y1="63.30" x2="376.95" y2="57.95" stroke="#5c5c5c" stroke-width="4.20"/>
<line x1="382.20" y1="52.60" x2="376.95" y2="57.95" stroke="#5c5c5c" stroke-width="4.20"/>
<line x1="382.20" y1="52.60" x2="382.75" y2="47.92" stroke="#5c5c5c" stroke-width="4.20"/>
<line x1="383.30" y1="43.25" x2="382.75" y2="47.92" stroke="#5c5c5c" stroke-width="4.20"/>
<line x1="383.30" y1="43.25" x2="388.27" y2="38.00" stroke="#5c5c5c" stroke-width="4.20"/>
<line x1="393.25" y1="32.75" x2="388.27" y2="38.00" stroke="#5c5c5c" stroke-width="4.20"/>
<line x1="393.25" y1="32.75" x2="398.23" y2="32.48" stroke="#5c5c5c" stroke-width="4.20"/>
<line x1="403.20" y1="32.20" x2="398.23" y2="32.48" stroke="#5c5c5c" stroke-width="4.20"/>
<line x1="403.20" y1="32.20" x2="402.90" y2="37.15" stroke="#5c5c5c" stroke-width="4.20"/>
<line x1="402.60" y1="42.10" x2="402.90" y2="37.15" stroke="#5c5c5c" stroke-width="4.20"/>
<line x1="402.60" y1="42.10" x2="397.65" y2="47.05" stroke="#5c5c5c" stroke-width="4.20"/>
<line x1="392.70" y1="52.00" x2="397.65" y2="47.05" stroke="#5c5c5c" stroke-width="4.20"/>
<line x1="392.70" y1="52.00" x2="387.45" y2="52.30" stroke="#5c5c5c" stroke-width="4.20"/>
<line x1="382.20" y1="52.60" x2="387.45" y2="52.30" stroke="#5c5c5c" stroke-width="4.20"/>
<line x1="403.20" y1="32.20" x2="408.15" y2="27.23" stroke="#5c5c5c" stroke-width="4.20"/>
<line x1="413.10" y1="22.25" x2="408.15" y2="27.23" stroke="#0000b8" stroke-width="4.20"/>
<line x1="413.10" y1="22.25" x2="413.95" y2="19.02" stroke="#0000b8" stroke-width="4.20"/>
<line x1="414.80" y1="15.80" x2="413.95" y2="19.02" stroke="#a8a8a8" stroke-width="4.20"/>
<line x1="413.10" y1="22.25" x2="417.45" y2="23.12" stroke="#0000b8" stroke-width="4.20"/>
<line x1="421.80" y1="24.00" x2="417.45" y2="23.12" stroke="#a8a8a8" stroke-width="4.20"/>
<line x1="383.30" y1="43.25" x2="378.95" y2="43.25" stroke="#5c5c5c" stroke-width="4.20"/>
<line x1="374.60" y1="43.25" x2="378.95" y2="43.25" stroke="#a8a8a8" stroke-width="4.20"/>
<line x1="392.70" y1="52.00" x2="392.40" y2="56.10" stroke="#5c5c5c" stroke-width="4.20"/>
<line x1="392.10" y1="60.20" x2="392.40" y2="56.10" stroke="#a8a8a8" stroke-width="4.20"/>
<line x1="393.25" y1="32.75" x2="393.52" y2="28.68" stroke="#5c5c5c" stroke-width="4.20"/>
<line x1="393.80" y1="24.60" x2="393.52" y2="28.68" stroke="#a8a8a8" stroke-width="4.20"/>
<line x1="402.60" y1="42.10" x2="406.40" y2="41.80" stroke="#5c5c5c" stroke-width="4.20"/>
<line x1="410.20" y1="41.50" x2="406.40" y2="41.80" stroke="#a8a8a8" stroke-width="4.20"/>
<line x1="346.50" y1="88.50" x2="357.25" y2="88.50" stroke="#c06850" stroke-width="4.20"/>
<line x1="368.00" y1="88.50" x2="357.25" y2="88.50" stroke="#0000b8" stroke-width="4.20"/>
<line x1="375.00" y1="76.50" x2="371.50" y2="82.50" stroke="#5c5c5c" stroke-width="4.20"/>
<line x1="368.00" y1="88.50" x2="371.50" y2="82.50" stroke="#0000b8" stroke-width="4.20"/>
<line x1="368.00" y1="88.50" x2="371.50" y2="94.50" stroke="#0000b8" stroke-width="4.20"/>
<line x1="375.00" y1="100.50" x2="371.50" y2="94.50" stroke="#5c5c5c" stroke-width="4.20"/>
<line x1="375.00" y1="76.50" x2="382.00" y2="79.10" stroke="#5c5c5c" stroke-width="4.20"/>
<line x1="389.00" y1="81.70" x2="382.00" y2="79.10" stroke="#5c5c5c" stroke-width="4.20"/>
<line x1="389.00" y1="81.70" x2="389.00" y2="88.50" stroke="#5c5c5c" stroke-width="4.20"/>
<line x1="389.00" y1="95.30" x2="389.00" y2="88.50" stroke="#5c5c5c" stroke-width="4.20"/>
<line x1="389.00" y1="95.30" x2="382.00" y2="97.90" stroke="#5c5c5c" stroke-width="4.20"/>
<line x1="375.00" y1="100.50" x2="382.00" y2="97.90" stroke="#5c5c5c" stroke-width="4.20"/>
<line x1="389.00" y1="81.70" x2="393.75" y2="78.10" stroke="#5c5c5c" stroke-width="4.20"/>
<line x1="398.50" y1="74.50" x2="393.75" y2="78.10" stroke="#a8a8a8" stroke-width="4.20"/>
<line x1="389.00" y1="95.30" x2="393.75" y2="98.90" stroke="#5c5c5c" stroke-width="4.20"/>
<line x1="398.50" y1="102.50" x2="393.75" y2="98.90" stroke="#a8a8a8" stroke-width="4.20"/>
<line x1="375.00" y1="100.50" x2="373.35" y2="107.10" stroke="#5c5c5c" stroke-width="4.20"/>
<line x1="371.70" y1="113.70" x2="373.35" y2="107.10" stroke="#5c5c5c" stroke-width="4.20"/>
<line x1="371.70" y1="113.70" x2="365.10" y2="115.35" stroke="#5c5c5c" stroke-width="4.20"/>
<line x1="358.50" y1="117.00" x2="365.10" y2="115.35" stroke="#5c5c5c" stroke-width="4.20"/>
<line x1="371.70" y1="113.70" x2="377.05" y2="118.95" stroke="#5c5c5c" stroke-width="4.20"/>
<line x1="382.40" y1="124.20" x2="377.05" y2="118.95" stroke="#5c5c5c" stroke-width="4.20"/>
<line x1="382.40" y1="124.20" x2="387.07" y2="124.75" stroke="#5c5c5c" stroke-width="4.20"/>
<line x1="391.75" y1="125.30" x2="387.07" y2="124.75" stroke="#5c5c5c" stroke-width="4.20"/>
<line x1="391.75" y1="125.30" x2="397.00" y2="130.28" stroke="#5c5c5c" stroke-width="4.20"/>
<line x1="402.25" y1="135.25" x2="397.00" y2="130.28" stroke="#5c5c5c" stroke-width="4.20"/>
<line x1="402.25" y1="135.25" x2="402.52" y2="140.22" stroke="#5c5c5c" stroke-width="4.20"/>
<line x1="402.80" y1="145.20" x2="402.52" y2="140.22" stroke="#5c5c5c" stroke-width="4.20"/>
<line x1="402.80" y1="145.20" x2="397.85" y2="144.90" stroke="#5c5c5c" stroke-width="4.20"/>
<line x1="392.90" y1="144.60" x2="397.85" y2="144.90" stroke="#5c5c5c" stroke-width="4.20"/>
<line x1="392.90" y1="144.60" x2="387.95" y2="139.65" stroke="#5c5c5c" stroke-width="4.20"/>
<line x1="383.00" y1="134.70" x2="387.95" y2="139.65" stroke="#5c5c5c" stroke-width="4.20"/>
<line x1="383.00" y1="134.70" x2="382.70" y2="129.45" stroke="#5c5c5c" stroke-width="4.20"/>
<line x1="382.40" y1="124.20" x2="382.70" y2="129.45" stroke="#5c5c5c" stroke-width="4.20"/>
<line x1="402.80" y1="145.20" x2="407.77" y2="150.15" stroke="#5c5c5c" stroke-width="4.20"/>
<line x1="412.75" y1="155.10" x2="407.77" y2="150.15" stroke="#0000b8" stroke-width="4.20"/>
<line x1="412.75" y1="155.10" x2="415.98" y2="155.95" stroke="#0000b8" stroke-width="4.20"/>
<line x1="419.20" y1="156.80" x2="415.98" y2="155.95" stroke="#a8a8a8" stroke-width="4.20"/>
<line x1="412.75" y1="155.10" x2="411.88" y2="159.45" stroke="#0000b8" stroke-width="4.20"/>
<line x1="411.00" y1="163.80" x2="411.88" y2="159.45" stroke="#a8a8a8" stroke-width="4.20"/>
<line x1="391.75" y1="125.30" x2="391.75" y2="120.95" stroke="#5c5c5c" stroke-width="4.20"/>
<line x1="391.75" y1="116.60" x2="391.75" y2="120.95" stroke="#a8a8a8" stroke-width="4.20"/>
<line x1="383.00" y1="134.70" x2="378.90" y2="134.40" stroke="#5c5c5c" stroke-width="4.20"/>
<line x1="374.80" y1="134.10" x2="378.90" y2="134.40" stroke="#a8a8a8" stroke-width="4.20"/>
<line x1="402.25" y1="135.25" x2="406.32" y2="135.53" stroke="#5c5c5c" stroke-width="4.20"/>
<line x1="410.40" y1="135.80" x2="406.32" y2="135.53" stroke="#a8a8a8" stroke-width="4.20"/>
<line x1="392.90" y1="144.60" x2="393.20" y2="148.40" stroke="#5c5c5c" stroke-width="4.20"/>
<line x1="393.50" y1="152.20" x2="393.20" y2="148.40" stroke="#a8a8a8" stroke-width="4.20"/>
<line x1="346.50" y1="88.50" x2="346.50" y2="99.25" stroke="#c06850" stroke-width="4.20"/>
<line x1="346.50" y1="110.00" x2="346.50" y2="99.25" stroke="#0000b8" stroke-width="4.20"/>
<line x1="358.50" y1="117.00" x2="352.50" y2="113.50" stroke="#5c5c5c" stroke-width="4.20"/>
<line x1="346.50" y1="110.00" x2="352.50" y2="113.50" stroke="#0000b8" stroke-width="4.20"/>
<line x1="346.50" y1="110.00" x2="340.50" y2="113.50" stroke="#0000b8" stroke-width="4.20"/>
<line x1="334.50" y1="117.00" x2="340.50" y2="113.50" stroke="#5c5c5c" stroke-width="4.20"/>
<line x1="358.50" y1="117.00" x2="355.90" y2="124.00" stroke="#5c5c5c" stroke-width="4.20"/>
<line x1="353.30" y1="131.00" x2="355.90" y2="124.00" stroke="#5c5c5c" stroke-width="4.20"/>
<line x1="353.30" y1="131.00" x2="346.50" y2="131.00" stroke="#5c5c5c" stroke-width="4.20"/>
<line x1="339.70" y1="131.00" x2="346.50" y2="131.00" stroke="#5c5c5c" stroke-width="4.20"/>
<line x1="339.70" y1="131.00" x2="337.10" y2="124.00" stroke="#5c5c5c" stroke-width="4.20"/>
<line x1="334.50" y1="117.00" x2="337.10" y2="124.00" stroke="#5c5c5c" stroke-width="4.20"/>
<line x1="353.30" y1="131.00" x2="356.90" y2="135.75" stroke="#5c5c5c" stroke-width="4.20"/>
<line x1="360.50" y1="140.50" x2="356.90" y2="135.75" stroke="#a8a8a8" stroke-width="4.20"/>
<line x1="339.70" y1="131.00" x2="336.10" y2="135.75" stroke="#5c5c5c" stroke-width="4.20"/>
<line x1="332.50" y1="140.50" x2="336.10" y2="135.75" stroke="#a8a8a8" stroke-width="4.20"/>
<line x1="334.50" y1="117.00" x2="327.90" y2="115.35" stroke="#5c5c5c" stroke-width="4.20"/>
<line x1="321.30" y1="113.70" x2="327.90" y2="115.35" stroke="#5c5c5c" stroke-width="4.20"/>
<line x1="321.30" y1="113.70" x2="319.65" y2="107.10" stroke="#5c5c5c" stroke-width="4.20"/>
<line x1="318.00" y1="100.50" x2="319.65" y2="107.10" stroke="#5c5c5c" stroke-width="4.20"/>
<line x1="321.30" y1="113.70" x2="316.05" y2="119.05" stroke="#5c5c5c" stroke-width="4.20"/>
<line x1="310.80" y1="124.40" x2="316.05" y2="119.05" stroke="#5c5c5c" stroke-width="4.20"/>
<line x1="310.80" y1="124.40" x2="310.25" y2="129.07" stroke="#5c5c5c" stroke-width="4.20"/>
<line x1="309.70" y1="133.75" x2="310.25" y2="129.07" stroke="#5c5c5c" stroke-width="4.20"/>
<line x1="309.70" y1="133.75" x2="304.73" y2="139.00" stroke="#5c5c5c" stroke-width="4.20"/>
<line x1="299.75" y1="144.25" x2="304.73" y2="139.00" stroke="#5c5c5c" stroke-width="4.20"/>
<line x1="299.75" y1="144.25" x2="294.77" y2="144.53" stroke="#5c5c5c" stroke-width="4.20"/>
<line x1="289.80" y1="144.80" x2="294.77" y2="144.53" stroke="#5c5c5c" stroke-width="4.20"/>
<line x1="289.80" y1="144.80" x2="290.10" y2="139.85" stroke="#5c5c5c" stroke-width="4.20"/>
<line x1="290.40" y1="134.90" x2="290.10" y2="139.85" stroke="#5c5c5c" stroke-width="4.20"/>
<line x1="290.40" y1="134.90" x2="295.35" y2="129.95" stroke="#5c5c5c" stroke-width="4.20"/>
<line x1="300.30" y1="125.00" x2="295.35" y2="129.95" stroke="#5c5c5c" stroke-width="4.20"/>
<line x1="300.30" y1="125.00" x2="305.55" y2="124.70" stroke="#5c5c5c" stroke-width="4.20"/>
<line x1="310.80" y1="124.40" x2="305.55" y2="124.70" stroke="#5c5c5c" stroke-width="4.20"/>
<line x1="289.80" y1="144.80" x2="284.85" y2="149.78" stroke="#5c5c5c" stroke-width="4.20"/>
<line x1="279.90" y1="154.75" x2="284.85" y2="149.78" stroke="#0000b8" stroke-width="4.20"/>
<line x1="279.90" y1="154.75" x2="279.05" y2="157.97" stroke="#0000b8" stroke-width="4.20"/>
<line x1="278.20" y1="161.20" x2="279.05" y2="157.97" stroke="#a8a8a8" stroke-width="4.20"/>
<line x1="279.90" y1="154.75" x2="275.55" y2="153.88" stroke="#0000b8" stroke-width="4.20"/>
<line x1="271.20" y1="153.00" x2="275.55" y2="153.88" stroke="#a8a8a8" stroke-width="4.20"/>
<line x1="309.70" y1="133.75" x2="314.05" y2="133.75" stroke="#5c5c5c" stroke-width="4.20"/>
<line x1="318.40" y1="133.75" x2="314.05" y2="133.75" stroke="#a8a8a8" stroke-width="4.20"/>
<line x1="300.30" y1="125.00" x2="300.60" y2="120.90" stroke="#5c5c5c" stroke-width="4.20"/>
<line x1="300.90" y1="116.80" x2="300.60" y2="120.90" stroke="#a8a8a8" stroke-width="4.20"/>
<line x1="299.75" y1="144.25" x2="299.48" y2="148.32" stroke="#5c5c5c" stroke-width="4.20"/>
<line x1="299.20" y1="152.40" x2="299.48" y2="148.32" stroke="#a8a8a8" stroke-width="4.20"/>
<line x1="290.40" y1="134.90" x2="286.60" y2="135.20" stroke="#5c5c5c" stroke-width="4.20"/>
<line x1="282.80" y1="135.50" x2="286.60" y2="135.20" stroke="#a8a8a8" stroke-width="4.20"/>
<line x1="346.50" y1="88.50" x2="335.75" y2="88.50" stroke="#c06850" stroke-width="4.20"/>
<line x1="325.00" y1="88.50" x2="335.75" y2="88.50" stroke="#0000b8" stroke-width="4.20"/>
<line x1="318.00" y1="100.50" x2="321.50" y2="94.50" stroke="#5c5c5c" stroke-width="4.20"/>
<line x1="325.00" y1="88.50" x2="321.50" y2="94.50" stroke="#0000b8" stroke-width="4.20"/>
<line x1="325.00" y1="88.50" x2="321.50" y2="82.50" stroke="#0000b8" stroke-width="4.20"/>
<line x1="318.00" y1="76.50" x2="321.50" y2="82.50" stroke="#5c5c5c" stroke-width="4.20"/>
<line x1="318.00" y1="100.50" x2="311.00" y2="97.90" stroke="#5c5c5c" stroke-width="4.20"/>
<line x1="304.00" y1="95.30" x2="311.00" y2="97.90" stroke="#5c5c5c" stroke-width="4.20"/>
<line x1="304.00" y1="95.30" x2="304.00" y2="88.50" stroke="#5c5c5c" stroke-width="4.20"/>
<line x1="304.00" y1="81.70" x2="304.00" y2="88.50" stroke="#5c5c5c" stroke-width="4.20"/>
<line x1="304.00" y1="81.70" x2="311.00" y2="79.10" stroke="#5c5c5c" stroke-width="4.20"/>
<line x1="318.00" y1="76.50" x2="311.00" y2="79.10" stroke="#5c5c5c" stroke-width="4.20"/>
<line x1="304.00" y1="95.30" x2="299.25" y2="98.90" stroke="#5c5c5c" stroke-width="4.20"/>
<line x1="294.50" y1="102.50" x2="299.25" y2="98.90" stroke="#a8a8a8" stroke-width="4.20"/>
<line x1="304.00" y1="81.70" x2="299.25" y2="78.10" stroke="#5c5c5c" stroke-width="4.20"/>
<line x1="294.50" y1="74.50" x2="299.25" y2="78.10" stroke="#a8a8a8" stroke-width="4.20"/>
<line x1="318.00" y1="76.50" x2="319.65" y2="69.90" stroke="#5c5c5c" stroke-width="4.20"/>
<line x1="321.30" y1="63.30" x2="319.65" y2="69.90" stroke="#5c5c5c" stroke-width="4.20"/>
<line x1="321.30" y1="63.30" x2="327.90" y2="61.65" stroke="#5c5c5c" stroke-width="4.20"/>
<line x1="334.50" y1="60.00" x2="327.90" y2="61.65" stroke="#5c5c5c" stroke-width="4.20"/>
<line x1="321.30" y1="63.30" x2="315.95" y2="58.05" stroke="#5c5c5c" stroke-width="4.20"/>
<line x1="310.60" y1="52.80" x2="315.95" y2="58.05" stroke="#5c5c5c" stroke-width="4.20"/>
<line x1="310.60" y1="52.80" x2="305.93" y2="52.25" stroke="#5c5c5c" stroke-width="4.20"/>
<line x1="301.25" y1="51.70" x2="305.93" y2="52.25" stroke="#5c5c5c" stroke-width="4.20"/>
<line x1="301.25" y1="51.70" x2="296.00" y2="46.73" stroke="#5c5c5c" stroke-width="4.20"/>
<line x1="290.75" y1="41.75" x2="296.00" y2="46.73" stroke="#5c5c5c" stroke-width="4.20"/>
<line x1="290.75" y1="41.75" x2="290.48" y2="36.77" stroke="#5c5c5c" stroke-width="4.20"/>
<line x1="290.20" y1="31.80" x2="290.48" y2="36.77" stroke="#5c5c5c" stroke-width="4.20"/>
<line x1="290.20" y1="31.80" x2="295.15" y2="32.10" stroke="#5c5c5c" stroke-width="4.20"/>
<line x1="300.10" y1="32.40" x2="295.15" y2="32.10" stroke="#5c5c5c" stroke-width="4.20"/>
<line x1="300.10" y1="32.40" x2="305.05" y2="37.35" stroke="#5c5c5c" stroke-width="4.20"/>
<line x1="310.00" y1="42.30" x2="305.05" y2="37.35" stroke="#5c5c5c" stroke-width="4.20"/>
<line x1="310.00" y1="42.30" x2="310.30" y2="47.55" stroke="#5c5c5c" stroke-width="4.20"/>
<line x1="310.60" y1="52.80" x2="310.30" y2="47.55" stroke="#5c5c5c" stroke-width="4.20"/>
<line x1="290.20" y1="31.80" x2="285.23" y2="26.85" stroke="#5c5c5c" stroke-width="4.20"/>
<line x1="280.25" y1="21.90" x2="285.23" y2="26.85" stroke="#0000b8" stroke-width="4.20"/>
<line x1="280.25" y1="21.90" x2="277.02" y2="21.05" stroke="#0000b8" stroke-width="4.20"/>
<line x1="273.80" y1="20.20" x2="277.02" y2="21.05" stroke="#a8a8a8" stroke-width="4.20"/>
<line x1="280.25" y1="21.90" x2="281.12" y2="17.55" stroke="#0000b8" stroke-width="4.20"/>
<line x1="282.00" y1="13.20" x2="281.12" y2="17.55" stroke="#a8a8a8" stroke-width="4.20"/>
<line x1="301.25" y1="51.70" x2="301.25" y2="56.05" stroke="#5c5c5c" stroke-width="4.20"/>
<line x1="301.25" y1="60.40" x2="301.25" y2="56.05" stroke="#a8a8a8" stroke-width="4.20"/>
<line x1="310.00" y1="42.30" x2="314.10" y2="42.60" stroke="#5c5c5c" stroke-width="4.20"/>
<line x1="318.20" y1="42.90" x2="314.10" y2="42.60" stroke="#a8a8a8" stroke-width="4.20"/>
<line x1="290.75" y1="41.75" x2="286.68" y2="41.48" stroke="#5c5c5c" stroke-width="4.20"/>
<line x1="282.60" y1="41.20" x2="286.68" y2="41.48" stroke="#a8a8a8" stroke-width="4.20"/>
<line x1="300.10" y1="32.40" x2="299.80" y2="28.60" stroke="#5c5c5c" stroke-width="4.20"/>
<line x1="299.50" y1="24.80" x2="299.80" y2="28.60" stroke="#a8a8a8" stroke-width="4.20"/>
<line x1="346.50" y1="88.50" x2="346.50" y2="77.75" stroke="#f29a82" stroke-width="3.00"/>
<line x1="346.50" y1="67.00" x2="346.50" y2="77.75" stroke="#1c1cf4" stroke-width="3.00"/>
<line x1="334.50" y1="60.00" x2="340.50" y2="63.50" stroke="#8c8c8c" stroke-width="3.00"/>
<line x1="346.50" y1="67.00" x2="340.50" y2="63.50" stroke="#1c1cf4" stroke-width="3.00"/>
<line x1="346.50" y1="67.00" x2="352.50" y2="63.50" stroke="#1c1cf4" stroke-width="3.00"/>
<line x1="358.50" y1="60.00" x2="352.50" y2="63.50" stroke="#8c8c8c" stroke-width="3.00"/>
<line x1="334.50" y1="60.00" x2="337.10" y2="53.00" stroke="#8c8c8c" stroke-width="3.00"/>
<line x1="339.70" y1="46.00" x2="337.10" y2="53.00" stroke="#8c8c8c" stroke-width="3.00"/>
<line x1="339.70" y1="46.00" x2="346.50" y2="46.00" stroke="#8c8c8c" stroke-width="3.00"/>
<line x1="353.30" y1="46.00" x2="346.50" y2="46.00" stroke="#8c8c8c" stroke-width="3.00"/>
<line x1="353.30" y1="46.00" x2="355.90" y2="53.00" stroke="#8c8c8c" stroke-width="3.00"/>
<line x1="358.50" y1="60.00" x2="355.90" y2="53.00" stroke="#8c8c8c" stroke-width="3.00"/>
<line x1="339.70" y1="46.00" x2="336.10" y2="41.25" stroke="#8c8c8c" stroke-width="3.00"/>
<line x1="332.50" y1="36.50" x2="336.10" y2="41.25" stroke="#dcdcdc" stroke-width="3.00"/>
<line x1="353.30" y1="46.00" x2="356.90" y2="41.25" stroke="#8c8c8c" stroke-width="3.00"/>
<line x1="360.50" y1="36.50" x2="356.90" y2="41.25" stroke="#dcdcdc" stroke-width="3.00"/>
<line x1="358.50" y1="60.00" x2="365.10" y2="61.65" stroke="#8c8c8c" stroke-width="3.00"/>
<line x1="371.70" y1="63.30" x2="365.10" y2="61.65" stroke="#8c8c8c" stroke-width="3.00"/>
<line x1="371.70" y1="63.30" x2="373.35" y2="69.90" stroke="#8c8c8c" stroke-width="3.00"/>
<line x1="375.00" y1="76.50" x2="373.35" y2="69.90" stroke="#8c8c8c" stroke-width="3.00"/>
<line x1="371.70" y1="63.30" x2="376.95" y2="57.95" stroke="#8c8c8c" stroke-width="3.00"/>
<line x1="382.20" y1="52.60" x2="376.95" y2="57.95" stroke="#8c8c8c" stroke-width="3.00"/>
<line x1="382.20" y1="52.60" x2="382.75" y2="47.92" stroke="#8c8c8c" stroke-width="3.00"/>
<line x1="383.30" y1="43.25" x2="382.75" y2="47.92" stroke="#8c8c8c" stroke-width="3.00"/>
<line x1="383.30" y1="43.25" x2="388.27" y2="38.00" stroke="#8c8c8c" stroke-width="3.00"/>
<line x1="393.25" y1="32.75" x2="388.27" y2="38.00" stroke="#8c8c8c" stroke-width="3.00"/>
<line x1="393.25" y1="32.75" x2="398.23" y2="32.48" stroke="#8c8c8c" stroke-width="3.00"/>
<line x1="403.20" y1="32.20" x2="398.23" y2="32.48" stroke="#8c8c8c" stroke-width="3.00"/>
<line x1="403.20" y1="32.20" x2="402.90" y2="37.15" stroke="#8c8c8c" stroke-width="3.00"/>
<line x1="402.60" y1="42.10" x2="402.90" y2="37.15" stroke="#8c8c8c" stroke-width="3.00"/>
<line x1="402.60" y1="42.10" x2="397.65" y2="47.05" stroke="#8c8c8c" stroke-width="3.00"/>
<line x1="392.70" y1="52.00" x2="397.65" y2="47.05" stroke="#8c8c8c" stroke-width="3.00"/>
<line x1="392.70" y1="52.00" x2="387.45" y2="52.30" stroke="#8c8c8c" stroke-width="3.00"/>
<line x1="382.20" y1="52.60" x2="387.45" y2="52.30" stroke="#8c8c8c" stroke-width="3.00"/>
<line x1="403.20" y1="32.20" x2="408.15" y2="27.23" stroke="#8c8c8c" stroke-width="3.00"/>
<line x1="413.10" y1="22.25" x2="408.15" y2="27.23" stroke="#1c1cf4" stroke-width="3.00"/>
<line x1="413.10" y1="22.25" x2="413.95" y2="19.02" stroke="#1c1cf4" stroke-width="3.00"/>
<line x1="414.80" y1="15.80" x2="413.95" y2="19.02" stroke="#dcdcdc" stroke-width="3.00"/>
<line x1="413.10" y1="22.25" x2="417.45" y2="23.12" stroke="#1c1cf4" stroke-width="3.00"/>
<line x1="421.80" y1="24.00" x2="417.45" y2="23.12" stroke="#dcdcdc" stroke-width="3.00"/>
<line x1="383.30" y1="43.25" x2="378.95" y2="43.25" stroke="#8c8c8c" stroke-width="3.00"/>
<line x1="374.60" y1="43.25" x2="378.95" y2="43.25" stroke="#dcdcdc" stroke-width="3.00"/>
<line x1="392.70" y1="52.00" x2="392.40" y2="56.10" stroke="#8c8c8c" stroke-width="3.00"/>
<line x1="392.10" y1="60.20" x2="392.40" y2="56.10" stroke="#dcdcdc" stroke-width="3.00"/>
<line x1="393.25" y1="32.75" x2="393.52" y2="28.68" stroke="#8c8c8c" stroke-width="3.00"/>
<line x1="393.80" y1="24.60" x2="393.52" y2="28.68" stroke="#dcdcdc" stroke-width="3.00"/>
<line x1="402.60" y1="42.10" x2="406.40" y2="41.80" stroke="#8c8c8c" stroke-width="3.00"/>
<line x1="410.20" y1="41.50" x2="406.40" y2="41.80" stroke="#dcdcdc" stroke-width="3.00"/>
<line x1="346.50" y1="88.50" x2="357.25" y2="88.50" stroke="#f29a82" stroke-width="3.00"/>
<line x1="368.00" y1="88.50" x2="357.25" y2="88.50" stroke="#1c1cf4" stroke-width="3.00"/>
<line x1="375.00" y1="76.50" x2="371.50" y2="82.50" stroke="#8c8c8c" stroke-width="3.00"/>
<line x1="368.00" y1="88.50" x2="371.50" y2="82.50" stroke="#1c1cf4" stroke-width="3.00"/>
<line x1="368.00" y1="88.50" x2="371.50" y2="94.50" stroke="#1c1cf4" stroke-width="3.00"/>
<line x1="375.00" y1="100.50" x2="371.50" y2="94.50" stroke="#8c8c8c" stroke-width="3.00"/>
<line x1="375.00" y1="76.50" x2="382.00" y2="79.10" stroke="#8c8c8c" stroke-width="3.00"/>
<line x1="389.00" y1="81.70" x2="382.00" y2="79.10" stroke="#8c8c8c" stroke-width="3.00"/>
<line x1="389.00" y1="81.70" x2="389.00" y2="88.50" stroke="#8c8c8c" stroke-width="3.00"/>
<line x1="389.00" y1="95.30" x2="389.00" y2="88.50" stroke="#8c8c8c" stroke-width="3.00"/>
<line x1="389.00" y1="95.30" x2="382.00" y2="97.90" stroke="#8c8c8c" stroke-width="3.00"/>
<line x1="375.00" y1="100.50" x2="382.00" y2="97.90" stroke="#8c8c8c" stroke-width="3.00"/>
<line x1="389.00" y1="81.70" x2="393.75" y2="78.10" stroke="#8c8c8c" stroke-width="3.00"/>
<line x1="398.50" y1="74.50" x2="393.75" y2="78.10" stroke="#dcdcdc" stroke-width="3.00"/>
<line x1="389.00" y1="95.30" x2="393.75" y2="98.90" stroke="#8c8c8c" stroke-width="3.00"/>
<line x1="398.50" y1="102.50" x2="393.75" y2="98.90" stroke="#dcdcdc" stroke-width="3.00"/>
<line x1="375.00" y1="100.50" x2="373.35" y2="107.10" stroke="#8c8c8c" stroke-width="3.00"/>
<line x1="371.70" y1="113.70" x2="373.35" y2="107.10" stroke="#8c8c8c" stroke-width="3.00"/>
<line x1="371.70" y1="113.70" x2="365.10" y2="115.35" stroke="#8c8c8c" stroke-width="3.00"/>
<line x1="358.50" y1="117.00" x2="365.10" y2="115.35" stroke="#8c8c8c" stroke-width="3.00"/>
<line x1="371.70" y1="113.70" x2="377.05" y2="118.95" stroke="#8c8c8c" stroke-width="3.00"/>
<line x1="382.40" y1="124.20" x2="377.05" y2="118.95" stroke="#8c8c8c" stroke-width="3.00"/>
<line x1="382.40" y1="124.20" x2="387.07" y2="124.75" stroke="#8c8c8c" stroke-width="3.00"/>
<line x1="391.75" y1="125.30" x2="387.07" y2="124.75" stroke="#8c8c8c" stroke-width="3.00"/>
<line x1="391.75" y1="125.30" x2="397.00" y2="130.28" stroke="#8c8c8c" stroke-width="3.00"/>
<line x1="402.25" y1="135.25" x2="397.00" y2="130.28" stroke="#8c8c8c" stroke-width="3.00"/>
<line x1="402.25" y1="135.25" x2="402.52" y2="140.22" stroke="#8c8c8c" stroke-width="3.00"/>
<line x1="402.80" y1="145.20" x2="402.52" y2="140.22" stroke="#8c8c8c" stroke-width="3.00"/>
<line x1="402.80" y1="145.20" x2="397.85" y2="144.90" stroke="#8c8c8c" stroke-width="3.00"/>
<line x1="392.90" y1="144.60" x2="397.85" y2="144.90" stroke="#8c8c8c" stroke-width="3.00"/>
<line x1="392.90" y1="144.60" x2="387.95" y2="139.65" stroke="#8c8c8c" stroke-width="3.00"/>
<line x1="383.00" y1="134.70" x2="387.95" y2="139.65" stroke="#8c8c8c" stroke-width="3.00"/>
<line x1="383.00" y1="134.70" x2="382.70" y2="129.45" stroke="#8c8c8c" stroke-width="3.00"/>
<line x1="382.40" y1="124.20" x2="382.70" y2="129.45" stroke="#8c8c8c" stroke-width="3.00"/>
<line x1="402.80" y1="145.20" x2="407.77" y2="150.15" stroke="#8c8c8c" stroke-width="3.00"/>
<line x1="412.75" y1="155.10" x2="407.77" y2="150.15" stroke="#1c1cf4" stroke-width="3.00"/>
<line x1="412.75" y1="155.10" x2="415.98" y2="155.95" stroke="#1c1cf4" stroke-width="3.00"/>
<line x1="419.20" y1="156.80" x2="415.98" y2="155.95" stroke="#dcdcdc" stroke-width="3.00"/>
<line x1="412.75" y1="155.10" x2="411.88" y2="159.45" stroke="#1c1cf4" stroke-width="3.00"/>
<line x1="411.00" y1="163.80" x2="411.88" y2="159.45" stroke="#dcdcdc" stroke-width="3.00"/>
<line x1="391.75" y1="125.30" x2="391.75" y2="120.95" stroke="#8c8c8c" stroke-width="3.00"/>
<line x1="391.75" y1="116.60" x2="391.75" y2="120.95" stroke="#dcdcdc" stroke-width="3.00"/>
<line x1="383.00" y1="134.70" x2="378.90" y2="134.40" stroke="#8c8c8c" stroke-width="3.00"/>
<line x1="374.80" y1="134.10" x2="378.90" y2="134.40" stroke="#dcdcdc" stroke-width="3.00"/>
<line x1="402.25" y1="135.25" x2="406.32" y2="135.53" stroke="#8c8c8c" stroke-width="3.00"/>
<line x1="410.40" y1="135.80" x2="406.32" y2="135.53" stroke="#dcdcdc" stroke-width="3.00"/>
<line x1="392.90" y1="144.60" x2="393.20" y2="148.40" stroke="#8c8c8c" stroke-width="3.00"/>
<line x1="393.50" y1="152.20" x2="393.20" y2="148.40" stroke="#dcdcdc" stroke-width="3.00"/>
<line x1="346.50" y1="88.50" x2="346.50" y2="99.25" stroke="#f29a82" stroke-width="3.00"/>
<line x1="346.50" y1="110.00" x2="346.50" y2="99.25" stroke="#1c1cf4" stroke-width="3.00"/>
<line x1="358.50" y1="117.00" x2="352.50" y2="113.50" stroke="#8c8c8c" stroke-width="3.00"/>
<line x1="346.50" y1="110.00" x2="352.50" y2="113.50" stroke="#1c1cf4" stroke-width="3.00"/>
<line x1="346.50" y1="110.00" x2="340.50" y2="113.50" stroke="#1c1cf4" stroke-width="3.00"/>
<line x1="334.50" y1="117.00" x2="340.50" y2="113.50" stroke="#8c8c8c" stroke-width="3.00"/>
<line x1="358.50" y1="117.00" x2="355.90" y2="124.00" stroke="#8c8c8c" stroke-width="3.00"/>
<line x1="353.30" y1="131.00" x2="355.90" y2="124.00" stroke="#8c8c8c" stroke-width="3.00"/>
<line x1="353.30" y1="131.00" x2="346.50" y2="131.00" stroke="#8c8c8c" stroke-width="3.00"/>
<line x1="339.70" y1="131.00" x2="346.50" y2="131.00" stroke="#8c8c8c" stroke-width="3.00"/>
<line x1="339.70" y1="131.00" x2="337.10" y2="124.00" stroke="#8c8c8c" stroke-width="3.00"/>
<line x1="334.50" y1="117.00" x2="337.10" y2="124.00" stroke="#8c8c8c" stroke-width="3.00"/>
<line x1="353.30" y1="131.00" x2="356.90" y2="135.75" stroke="#8c8c8c" stroke-width="3.00"/>
<line x1="360.50" y1="140.50" x2="356.90" y2="135.75" stroke="#dcdcdc" stroke-width="3.00"/>
<line x1="339.70" y1="131.00" x2="336.10" y2="135.75" stroke="#8c8c8c" stroke-width="3.00"/>
<line x1="332.50" y1="140.50" x2="336.10" y2="135.75" stroke="#dcdcdc" stroke-width="3.00"/>
<line x1="334.50" y1="117.00" x2="327.90" y2="115.35" stroke="#8c8c8c" stroke-width="3.00"/>
<line x1="321.30" y1="113.70" x2="327.90" y2="115.35" stroke="#8c8c8c" stroke-width="3.00"/>
<line x1="321.30" y1="113.70" x2="319.65" y2="107.10" stroke="#8c8c8c" stroke-width="3.00"/>
<line x1="318.00" y1="100.50" x2="319.65" y2="107.10" stroke="#8c8c8c" stroke-width="3.00"/>
<line x1="321.30" y1="113.70" x2="316.05" y2="119.05" stroke="#8c8c8c" stroke-width="3.00"/>
<line x1="310.80" y1="124.40" x2="316.05" y2="119.05" stroke="#8c8c8c" stroke-width="3.00"/>
<line x1="310.80" y1="124.40" x2="310.25" y2="129.07" stroke="#8c8c8c" stroke-width="3.00"/>
<line x1="309.70" y1="133.75" x2="310.25" y2="129.07" stroke="#8c8c8c" stroke-width="3.00"/>
<line x1="309.70" y1="133.75" x2="304.73" y2="139.00" stroke="#8c8c8c" stroke-width="3.00"/>
<line x1="299.75" y1="144.25" x2="304.73" y2="139.00" stroke="#8c8c8c" stroke-width="3.00"/>
<line x1="299.75" y1="144.25" x2="294.77" y2="144.53" stroke="#8c8c8c" stroke-width="3.00"/>
<line x1="289.80" y1="144.80" x2="294.77" y2="144.53" stroke="#8c8c8c" stroke-width="3.00"/>
<line x1="289.80" y1="144.80" x2="290.10" y2="139.85" stroke="#8c8c8c" stroke-width="3.00"/>
<line x1="290.40" y1="134.90" x2="290.10" y2="139.85" stroke="#8c8c8c" stroke-width="3.00"/>
<line x1="290.40" y1="134.90" x2="295.35" y2="129.95" stroke="#8c8c8c" stroke-width="3.00"/>
<line x1="300.30" y1="125.00" x2="295.35" y2="129.95" stroke="#8c8c8c" stroke-width="3.00"/>
<line x1="300.30" y1="125.00" x2="305.55" y2="124.70" stroke="#8c8c8c" stroke-width="3.00"/>
<line x1="310.80" y1="124.40" x2="305.55" y2="124.70" stroke="#8c8c8c" stroke-width="3.00"/>
<line x1="289.80" y1="144.80" x2="284.85" y2="149.78" stroke="#8c8c8c" stroke-width="3.00"/>
<line x1="279.90" y1="154.75" x2="284.85" y2="149.78" stroke="#1c1cf4" stroke-width="3.00"/>
<line x1="279.90" y1="154.75" x2="279.05" y2="157.97" stroke="#1c1cf4" stroke-width="3.00"/>
<line x1="278.20" y1="161.20" x2="279.05" y2="157.97" stroke="#dcdcdc" stroke-width="3.00"/>
<line x1="279.90" y1="154.75" x2="275.55" y2="153.88" stroke="#1c1cf4" stroke-width="3.00"/>
<line x1="271.20" y1="153.00" x2="275.55" y2="153.88" stroke="#dcdcdc" stroke-width="3.00"/>
<line x1="309.70" y1="133.75" x2="314.05" y2="133.75" stroke="#8c8c8c" stroke-width="3.00"/>
<line x1="318.40" y1="133.75" x2="314.05" y2="133.75" stroke="#dcdcdc" stroke-width="3.00"/>
<line x1="300.30" y1="125.00" x2="300.60" y2="120.90" stroke="#8c8c8c" stroke-width="3.00"/>
<line x1="300.90" y1="116.80" x2="300.60" y2="120.90" stroke="#dcdcdc" stroke-width="3.00"/>
<line x1="299.75" y1="144.25" x2="299.48" y2="148.32" stroke="#8c8c8c" stroke-width="3.00"/>
<line x1="299.20" y1="152.40" x2="299.48" y2="148.32" stroke="#dcdcdc" stroke-width="3.00"/>
<line x1="290.40" y1="134.90" x2="286.60" y2="135.20" stroke="#8c8c8c" stroke-width="3.00"/>
<line x1="282.80" y1="135.50" x2="286.60" y2="135.20" stroke="#dcdcdc" stroke-width="3.00"/>
<line x1="346.50" y1="88.50" x2="335.75" y2="88.50" stroke="#f29a82" stroke-width="3.00"/>
<line x1="325.00" y1="88.50" x2="335.75" y2="88.50" stroke="#1c1cf4" stroke-width="3.00"/>
<line x1="318.00" y1="100.50" x2="321.50" y2="94.50" stroke="#8c8c8c" stroke-width="3.00"/>
<line x1="325.00" y1="88.50" x2="321.50" y2="94.50" stroke="#1c1cf4" stroke-width="3.00"/>
<line x1="325.00" y1="88.50" x2="321.50" y2="82.50" stroke="#1c1cf4" stroke-width="3.00"/>
<line x1="318.00" y1="76.50" x2="321.50" y2="82.50" stroke="#8c8c8c" stroke-width="3.00"/>
<line x1="318.00" y1="100.50" x2="311.00" y2="97.90" stroke="#8c8c8c" stroke-width="3.00"/>
<line x1="304.00" y1="95.30" x2="311.00" y2="97.90" stroke="#8c8c8c" stroke-width="3.00"/>
<line x1="304.00" y1="95.30" x2="304.00" y2="88.50" stroke="#8c8c8c" stroke-width="3.00"/>
<line x1="304.00" y1="81.70" x2="304.00" y2="88.50" stroke="#8c8c8c" stroke-width="3.00"/>
<line x1="304.00" y1="81.70" x2="311.00" y2="79.10" stroke="#8c8c8c" stroke-width="3.00"/>
<line x1="318.00" y1="76.50" x2="311.00" y2="79.10" stroke="#8c8c8c" stroke-width="3.00"/>
<line x1="304.00" y1="95.30" x2="299.25" y2="98.90" stroke="#8c8c8c" stroke-width="3.00"/>
<line x1="294.50" y1="102.50" x2="299.25" y2="98.90" stroke="#dcdcdc" stroke-width="3.00"/>
<line x1="304.00" y1="81.70" x2="299.25" y2="78.10" stroke="#8c8c8c" stroke-width="3.00"/>
<line x1="294.50" y1="74.50" x2="299.25" y2="78.10" stroke="#dcdcdc" stroke-width="3.00"/>
<line x1="318.00" y1="76.50" x2="319.65" y2="69.90" stroke="#8c8c8c" stroke-width="3.00"/>
<line x1="321.30" y1="63.30" x2="319.65" y2="69.90" stroke="#8c8c8c" stroke-width="3.00"/>
<line x1="321.30" y1="63.30" x2="327.90" y2="61.65" stroke="#8c8c8c" stroke-width="3.00"/>
<line x1="334.50" y1="60.00" x2="327.90" y2="61.65" stroke="#8c8c8c" stroke-width="3.00"/>
<line x1="321.30" y1="63.30" x2="315.95" y2="58.05" stroke="#8c8c8c" stroke-width="3.00"/>
<line x1="310.60" y1="52.80" x2="315.95" y2="58.05" stroke="#8c8c8c" stroke-width="3.00"/>
<line x1="310.60" y1="52.80" x2="305.93" y2="52.25" stroke="#8c8c8c" stroke-width="3.00"/>
<line x1="301.25" y1="51.70" x2="305.93" y2="52.25" stroke="#8c8c8c" stroke-width="3.00"/>
<line x1="301.25" y1="51.70" x2="296.00" y2="46.73" stroke="#8c8c8c" stroke-width="3.00"/>
<line x1="290.75" y1="41.75" x2="296.00" y2="46.73" stroke="#8c8c8c" stroke-width="3.00"/>
<line x1="290.75" y1="41.75" x2="290.48" y2="36.77" stroke="#8c8c8c" stroke-width="3.00"/>
<line x1="290.20" y1="31.80" x2="290.48" y2="36.77" stroke="#8c8c8c" stroke-width="3.00"/>
<line x1="290.20" y1="31.80" x2="295.15" y2="32.10" stroke="#8c8c8c" stroke-width="3.00"/>
<line x1="300.10" y1="32.40" x2="295.15" y2="32.10" stroke="#8c8c8c" stroke-width="3.00"/>
<line x1="300.10" y1="32.40" x2="305.05" y2="37.35" stroke="#8c8c8c" stroke-width="3.00"/>
<line x1="310.00" y1="42.30" x2="305.05" y2="37.35" stroke="#8c8c8c" stroke-width="3.00"/>
<line x1="310.00" y1="42.30" x2="310.30" y2="47.55" stroke="#8c8c8c" stroke-width="3.00"/>
<line x1="310.60" y1="52.80" x2="310.30" y2="47.55" stroke="#8c8c8c" stroke-width="3.00"/>
<line x1="290.20" y1="31.80" x2="285.23" y2="26.85" stroke="#8c8c8c" stroke-width="3.00"/>
<line x1="280.25" y1="21.90" x2="285.23" y2="26.85" stroke="#1c1cf4" stroke-width="3.00"/>
<line x1="280.25" y1="21.90" x2="277.02" y2="21.05" stroke="#1c1cf4" stroke-width="3.00"/>
<line x1="273.80" y1="20.20" x2="277.02" y2="21.05" stroke="#dcdcdc" stroke-width="3.00"/>
<line x1="280.25" y1="21.90" x2="281.12" y2="17.55" stroke="#1c1cf4" stroke-width="3.00"/>
<line x1="282.00" y1="13.20" x2="281.12" y2="17.55" stroke="#dcdcdc" stroke-width="3.00"/>
<line x1="301.25" y1="51.70" x2="301.25" y2="56.05" stroke="#8c8c8c" stroke-width="3.00"/>
<line x1="301.25" y1="60.40" x2="301.25" y2="56.05" stroke="#dcdcdc" stroke-width="3.00"/>
<line x1="310.00" y1="42.30" x2="314.10" y2="42.60" stroke="#8c8c8c" stroke-width="3.00"/>
<line x1="318.20" y1="42.90" x2="314.10" y2="42.60" stroke="#dcdcdc" stroke-width="3.00"/>
<line x1="290.75" y1="41.75" x2="286.68" y2="41.48" stroke="#8c8c8c" stroke-width="3.00"/>
<line x1="282.60" y1="41.20" x2="286.68" y2="41.48" stroke="#dcdcdc" stroke-width="3.00"/>
<line x1="300.10" y1="32.40" x2="299.80" y2="28.60" stroke="#8c8c8c" stroke-width="3.00"/>
<line x1="299.50" y1="24.80" x2="299.80" y2="28.60" stroke="#dcdcdc" stroke-width="3.00"/>
<line x1="346.50" y1="88.50" x2="346.50" y2="77.75" stroke="#ffc4b2" stroke-width="0.90"/>
<line x1="346.50" y1="67.00" x2="346.50" y2="77.75" stroke="#5a5aff" stroke-width="0.90"/>
<line x1="334.50" y1="60.00" x2="340.50" y2="63.50" stroke="#b8b8b8" stroke-width="0.90"/>
<line x1="346.50" y1="67.00" x2="340.50" y2="63.50" stroke="#5a5aff" stroke-width="0.90"/>
<line x1="346.50" y1="67.00" x2="352.50" y2="63.50" stroke="#5a5aff" stroke-width="0.90"/>
<line x1="358.50" y1="60.00" x2="352.50" y2="63.50" stroke="#b8b8b8" stroke-width="0.90"/>
<line x1="334.50" y1="60.00" x2="337.10" y2="53.00" stroke="#b8b8b8" stroke-width="0.90"/>
<line x1="339.70" y1="46.00" x2="337.10" y2="53.00" stroke="#b8b8b8" stroke-width="0.90"/>
<line x1="339.70" y1="46.00" x2="346.50" y2="46.00" stroke="#b8b8b8" stroke-width="0.90"/>
<line x1="353.30" y1="46.00" x2="346.50" y2="46.00" stroke="#b8b8b8" stroke-width="0.90"/>
<line x1="353.30" y1="46.00" x2="355.90" y2="53.00" stroke="#b8b8b8" stroke-width="0.90"/>
<line x1="358.50" y1="60.00" x2="355.90" y2="53.00" stroke="#b8b8b8" stroke-width="0.90"/>
<line x1="339.70" y1="46.00" x2="336.10" y2="41.25" stroke="#b8b8b8" stroke-width="0.90"/>
<line x1="332.50" y1="36.50" x2="336.10" y2="41.25" stroke="#f8f8f8" stroke-width="0.90"/>
<line x1="353.30" y1="46.00" x2="356.90" y2="41.25" stroke="#b8b8b8" stroke-width="0.90"/>
<line x1="360.50" y1="36.50" x2="356.90" y2="41.25" stroke="#f8f8f8" stroke-width="0.90"/>
<line x1="358.50" y1="60.00" x2="365.10" y2="61.65" stroke="#b8b8b8" stroke-width="0.90"/>
<line x1="371.70" y1="63.30" x2="365.10" y2="61.65" stroke="#b8b8b8" stroke-width="0.90"/>
<line x1="371.70" y1="63.30" x2="373.35" y2="69.90" stroke="#b8b8b8" stroke-width="0.90"/>
<line x1="375.00" y1="76.50" x2="373.35" y2="69.90" stroke="#b8b8b8" stroke-width="0.90"/>
<line x1="371.70" y1="63.30" x2="376.95" y2="57.95" stroke="#b8b8b8" stroke-width="0.90"/>
<line x1="382.20" y1="52.60" x2="376.95" y2="57.95" stroke="#b8b8b8" stroke-width="0.90"/>
<line x1="382.20" y1="52.60" x2="382.75" y2="47.92" stroke="#b8b8b8" stroke-width="0.90"/>
<line x1="383.30" y1="43.25" x2="382.75" y2="47.92" stroke="#b8b8b8" stroke-width="0.90"/>
<line x1="383.30" y1="43.25" x2="388.27" y2="38.00" stroke="#b8b8b8" stroke-width="0.90"/>
<line x1="393.25" y1="32.75" x2="388.27" y2="38.00" stroke="#b8b8b8" stroke-width="0.90"/>
<line x1="393.25" y1="32.75" x2="398.23" y2="32.48" stroke="#b8b8b8" stroke-width="0.90"/>
<line x1="403.20" y1="32.20" x2="398.23" y2="32.48" stroke="#b8b8b8" stroke-width="0.90"/>
<line x1="403.20" y1="32.20" x2="402.90" y2="37.15" stroke="#b8b8b8" stroke-width="0.90"/>
<line x1="402.60" y1="42.10" x2="402.90" y2="37.15" stroke="#b8b8b8" stroke-width="0.90"/>
<line x1="402.60" y1="42.10" x2="397.65" y2="47.05" stroke="#b8b8b8" stroke-width="0.90"/>
<line x1="392.70" y1="52.00" x2="397.65" y2="47.05" stroke="#b8b8b8" stroke-width="0.90"/>
<line x1="392.70" y1="52.00" x2="387.45" y2="52.30" stroke="#b8b8b8" stroke-width="0.90"/>
<line x1="382.20" y1="52.60" x2="387.45" y2="52.30" stroke="#b8b8b8" stroke-width="0.90"/>
<line x1="403.20" y1="32.20" x2="408.15" y2="27.23" stroke="#b8b8b8" stroke-width="0.90"/>
<line x1="413.10" y1="22.25" x2="408.15" y2="27.23" stroke="#5a5aff" stroke-width="0.90"/>
<line x1="413.10" y1="22.25" x2="413.95" y2="19.02" stroke="#5a5aff" stroke-width="0.90"/>
<line x1="414.80" y1="15.80" x2="413.95" y2="19.02" stroke="#f8f8f8" stroke-width="0.90"/>
<line x1="413.10" y1="22.25" x2="417.45" y2="23.12" stroke="#5a5aff" stroke-width="0.90"/>
<line x1="421.80" y1="24.00" x2="417.45" y2="23.12" stroke="#f8f8f8" stroke-width="0.90"/>
<line x1="383.30" y1="43.25" x2="378.95" y2="43.25" stroke="#b8b8b8" stroke-width="0.90"/>
<line x1="374.60" y1="43.25" x2="378.95" y2="43.25" stroke="#f8f8f8" stroke-width="0.90"/>
<line x1="392.70" y1="52.00" x2="392.40" y2="56.10" stroke="#b8b8b8" stroke-width="0.90"/>
<line x1="392.10" y1="60.20" x2="392.40" y2="56.10" stroke="#f8f8f8" stroke-width="0.90"/>
<line x1="393.25" y1="32.75" x2="393.52" y2="28.68" stroke="#b8b8b8" stroke-width="0.90"/>
<line x1="393.80" y1="24.60" x2="393.52" y2="28.68" stroke="#f8f8f8" stroke-width="0.90"/>
<line x1="402.60" y1="42.10" x2="406.40" y2="41.80" stroke="#b8b8b8" stroke-width="0.90"/>
<line x1="410.20" y1="41.50" x2="406.40" y2="41.80" stroke="#f8f8f8" stroke-width="0.90"/>
<line x1="346.50" y1="88.50" x2="357.25" y2="88.50" stroke="#ffc4b2" stroke-width="0.90"/>
<line x1="368.00" y1="88.50" x2="357.25" y2="88.50" stroke="#5a5aff" stroke-width="0.90"/>
<line x1="375.00" y1="76.50" x2="371.50" y2="82.50" stroke="#b8b8b8" stroke-width="0.90"/>
<line x1="368.00" y1="88.50" x2="371.50" y2="82.50" stroke="#5a5aff" stroke-width="0.90"/>
<line x1="368.00" y1="88.50" x2="371.50" y2="94.50" stroke="#5a5aff" stroke-width="0.90"/>
<line x1="375.00" y1="100.50" x2="371.50" y2="94.50" stroke="#b8b8b8" stroke-width="0.90"/>
<line x1="375.00" y1="76.50" x2="382.00" y2="79.10" stroke="#b8b8b8" stroke-width="0.90"/>
<line x1="389.00" y1="81.70" x2="382.00" y2="79.10" stroke="#b8b8b8" stroke-width="0.90"/>
<line x1="389.00" y1="81.70" x2="389.00" y2="88.50" stroke="#b8b8b8" stroke-width="0.90"/>
<line x1="389.00" y1="95.30" x2="389.00" y2="88.50" stroke="#b8b8b8" stroke-width="0.90"/>
<line x1="389.00" y1="95.30" x2="382.00" y2="97.90" stroke="#b8b8b8" stroke-width="0.90"/>
<line x1="375.00" y1="100.50" x2="382.00" y2="97.90" stroke="#b8b8b8" stroke-width="0.90"/>
<line x1="389.00" y1="81.70" x2="393.75" y2="78.10" stroke="#b8b8b8" stroke-width="0.90"/>
<line x1="398.50" y1="74.50" x2="393.75" y2="78.10" stroke="#f8f8f8" stroke-width="0.90"/>
<line x1="389.00" y1="95.30" x2="393.75" y2="98.90" stroke="#b8b8b8" stroke-width="0.90"/>
<line x1="398.50" y1="102.50" x2="393.75" y2="98.90" stroke="#f8f8f8" stroke-width="0.90"/>
<line x1="375.00" y1="100.50" x2="373.35" y2="107.10" stroke="#b8b8b8" stroke-width="0.90"/>
<line x1="371.70" y1="113.70" x2="373.35" y2="107.10" stroke="#b8b8b8" stroke-width="0.90"/>
<line x1="371.70" y1="113.70" x2="365.10" y2="115.35" stroke="#b8b8b8" stroke-width="0.90"/>
<line x1="358.50" y1="117.00" x2="365.10" y2="115.35" stroke="#b8b8b8" stroke-width="0.90"/>
<line x1="371.70" y1="113.70" x2="377.05" y2="118.95" stroke="#b8b8b8" stroke-width="0.90"/>
<line x1="382.40" y1="124.20" x2="377.05" y2="118.95" stroke="#b8b8b8" stroke-width="0.90"/>
<line x1="382.40" y1="124.20" x2="387.07" y2="124.75" stroke="#b8b8b8" stroke-width="0.90"/>
<line x1="391.75" y1="125.30" x2="387.07" y2="124.75" stroke="#b8b8b8" stroke-width="0.90"/>
<line x1="391.75" y1="125.30" x2="397.00" y2="130.28" stroke="#b8b8b8" stroke-width="0.90"/>
<line x1="402.25" y1="135.25" x2="397.00" y2="130.28" stroke="#b8b8b8" stroke-width="0.90"/>
<line x1="402.25" y1="135.25" x2="402.52" y2="140.22" stroke="#b8b8b8" stroke-width="0.90"/>
<line x1="402.80" y1="145.20" x2="402.52" y2="140.22" stroke="#b8b8b8" stroke-width="0.90"/>
<line x1="402.80" y1="145.20" x2="397.85" y2="144.90" stroke="#b8b8b8" stroke-width="0.90"/>
<line x1="392.90" y1="144.60" x2="397.85" y2="144.90" stroke="#b8b8b8" stroke-width="0.90"/>
<line x1="392.90" y1="144.60" x2="387.95" y2="139.65" stroke="#b8b8b8" stroke-width="0.90"/>
<line x1="383.00" y1="134.70" x2="387.95" y2="139.65" stroke="#b8b8b8" stroke-width="0.90"/>
<line x1="383.00" y1="134.70" x2="382.70" y2="129.45" stroke="#b8b8b8" stroke-width="0.90"/>
<line x1="382.40" y1="124.20" x2="382.70" y2="129.45" stroke="#b8b8b8" stroke-width="0.90"/>
<line x1="402.80" y1="145.20" x2="407.77" y2="150.15" stroke="#b8b8b8" stroke-width="0.90"/>
<line x1="412.75" y1="155.10" x2="407.77" y2="150.15" stroke="#5a5aff" stroke-width="0.90"/>
<line x1="412.75" y1="155.10" x2="415.98" y2="155.95" stroke="#5a5aff" stroke-width="0.90"/>
<line x1="419.20" y1="156.80" x2="415.98" y2="155.95" stroke="#f8f8f8" stroke-width="0.90"/>
<line x1="412.75" y1="155.10" x2="411.88" y2="159.45" stroke="#5a5aff" stroke-width="0.90"/>
<line x1="411.00" y1="163.80" x2="411.88" y2="159.45" stroke="#f8f8f8" stroke-width="0.90"/>
<line x1="391.75" y1="125.30" x2="391.75" y2="120.95" stroke="#b8b8b8" stroke-width="0.90"/>
<line x1="391.75" y1="116.60" x2="391.75" y2="120.95" stroke="#f8f8f8" stroke-width="0.90"/>
<line x1="383.00" y1="134.70" x2="378.90" y2="134.40" stroke="#b8b8b8" stroke-width="0.90"/>
<line x1="374.80" y1="134.10" x2="378.90" y2="134.40" stroke="#f8f8f8" stroke-width="0.90"/>
<line x1="402.25" y1="135.25" x2="406.32" y2="135.53" stroke="#b8b8b8" stroke-width="0.90"/>
<line x1="410.40" y1="135.80" x2="406.32" y2="135.53" stroke="#f8f8f8" stroke-width="0.90"/>
<line x1="392.90" y1="144.60" x2="393.20" y2="148.40" stroke="#b8b8b8" stroke-width="0.90"/>
<line x1="393.50" y1="152.20" x2="393.20" y2="148.40" stroke="#f8f8f8" stroke-width="0.90"/>
<line x1="346.50" y1="88.50" x2="346.50" y2="99.25" stroke="#ffc4b2" stroke-width="0.90"/>
<line x1="346.50" y1="110.00" x2="346.50" y2="99.25" stroke="#5a5aff" stroke-width="0.90"/>
<line x1="358.50" y1="117.00" x2="352.50" y2="113.50" stroke="#b8b8b8" stroke-width="0.90"/>
<line x1="346.50" y1="110.00" x2="352.50" y2="113.50" stroke="#5a5aff" stroke-width="0.90"/>
<line x1="346.50" y1="110.00" x2="340.50" y2="113.50" stroke="#5a5aff" stroke-width="0.90"/>
<line x1="334.50" y1="117.00" x2="340.50" y2="113.50" stroke="#b8b8b8" stroke-width="0.90"/>
<line x1="358.50" y1="117.00" x2="355.90" y2="124.00" stroke="#b8b8b8" stroke-width="0.90"/>
<line x1="353.30" y1="131.00" x2="355.90" y2="124.00" stroke="#b8b8b8" stroke-width="0.90"/>
<line x1="353.30" y1="131.00" x2="346.50" y2="131.00" stroke="#b8b8b8" stroke-width="0.90"/>
<line x1="339.70" y1="131.00" x2="346.50" y2="131.00" stroke="#b8b8b8" stroke-width="0.90"/>
<line x1="339.70" y1="131.00" x2="337.10" y2="124.00" stroke="#b8b8b8" stroke-width="0.90"/>
<line x1="334.50" y1="117.00" x2="337.10" y2="124.00" stroke="#b8b8b8" stroke-width="0.90"/>
<line x1="353.30" y1="131.00" x2="356.90" y2="135.75" stroke="#b8b8b8" stroke-width="0.90"/>
<line x1="360.50" y1="140.50" x2="356.90" y2="135.75" stroke="#f8f8f8" stroke-width="0.90"/>
<line x1="339.70" y1="131.00" x2="336.10" y2="135.75" stroke="#b8b8b8" stroke-width="0.90"/>
<line x1="332.50" y1="140.50" x2="336.10" y2="135.75" stroke="#f8f8f8" stroke-width="0.90"/>
<line x1="334.50" y1="117.00" x2="327.90" y2="115.35" stroke="#b8b8b8" stroke-width="0.90"/>
<line x1="321.30" y1="113.70" x2="327.90" y2="115.35" stroke="#b8b8b8" stroke-width="0.90"/>
<line x1="321.30" y1="113.70" x2="319.65" y2="107.10" stroke="#b8b8b8" stroke-width="0.90"/>
<line x1="318.00" y1="100.50" x2="319.65" y2="107.10" stroke="#b8b8b8" stroke-width="0.90"/>
<line x1="321.30" y1="113.70" x2="316.05" y2="119.05" stroke="#b8b8b8" stroke-width="0.90"/>
<line x1="310.80" y1="124.40" x2="316.05" y2="119.05" stroke="#b8b8b8" stroke-width="0.90"/>
<line x1="310.80" y1="124.40" x2="310.25" y2="129.07" stroke="#b8b8b8" stroke-width="0.90"/>
<line x1="309.70" y1="133.75" x2="310.25" y2="129.07" stroke="#b8b8b8" stroke-width="0.90"/>
<line x1="309.70" y1="133.75" x2="304.73" y2="139.00" stroke="#b8b8b8" stroke-width="0.90"/>
<line x1="299.75" y1="144.25" x2="304.73" y2="139.00" stroke="#b8b8b8" stroke-width="0.90"/>
<line x1="299.75" y1="144.25" x2="294.77" y2="144.53" stroke="#b8b8b8" stroke-width="0.90"/>
<line x1="289.80" y1="144.80" x2="294.77" y2="144.53" stroke="#b8b8b8" stroke-width="0.90"/>
<line x1="289.80" y1="144.80" x2="290.10" y2="139.85" stroke="#b8b8b8" stroke-width="0.90"/>
<line x1="290.40" y1="134.90" x2="290.10" y2="139.85" stroke="#b8b8b8" stroke-width="0.90"/>
<line x1="290.40" y1="134.90" x2="295.35" y2="129.95" stroke="#b8b8b8" stroke-width="0.90"/>
<line x1="300.30" y1="125.00" x2="295.35" y2="129.95" stroke="#b8b8b8" stroke-width="0.90"/>
<line x1="300.30" y1="125.00" x2="305.55" y2="124.70" stroke="#b8b8b8" stroke-width="0.90"/>
<line x1="310.80" y1="124.40" x2="305.55" y2="124.70" stroke="#b8b8b8" stroke-width="0.90"/>
<line x1="289.80" y1="144.80" x2="284.85" y2="149.78" stroke="#b8b8b8" stroke-width="0.90"/>
<line x1="279.90" y1="154.75" x2="284.85" y2="149.78" stroke="#5a5aff" stroke-width="0.90"/>
<line x1="279.90" y1="154.75" x2="279.05" y2="157.97" stroke="#5a5aff" stroke-width="0.90"/>
<line x1="278.20" y1="161.20" x2="279.05" y2="157.97" stroke="#f8f8f8" stroke-width="0.90"/>
<line x1="279.90" y1="154.75" x2="275.55" y2="153.88" stroke="#5a5aff" stroke-width="0.90"/>
<line x1="271.20" y1="153.00" x2="275.55" y2="153.88" stroke="#f8f8f8" stroke-width="0.90"/>
<line x1="309.70" y1="133.75" x2="314.05" y2="133.75" stroke="#b8b8b8" stroke-width="0.90"/>
<line x1="318.40" y1="133.75" x2="314.05" y2="133.75" stroke="#f8f8f8" stroke-width="0.90"/>
<line x1="300.30" y1="125.00" x2="300.60" y2="120.90" stroke="#b8b8b8" stroke-width="0.90"/>
<line x1="300.90" y1="116.80" x2="300.60" y2="120.90" stroke="#f8f8f8" stroke-width="0.90"/>
<line x1="299.75" y1="144.25" x2="299.48" y2="148.32" stroke="#b8b8b8" stroke-width="0.90"/>
<line x1="299.20" y1="152.40" x2="299.48" y2="148.32" stroke="#f8f8f8" stroke-width="0.90"/>
<line x1="290.40" y1="134.90" x2="286.60" y2="135.20" stroke="#b8b8b8" stroke-width="0.90"/>
<line x1="282.80" y1="135.50" x2="286.60" y2="135.20" stroke="#f8f8f8" stroke-width="0.90"/>
<line x1="346.50" y1="88.50" x2="335.75" y2="88.50" stroke="#ffc4b2" stroke-width="0.90"/>
<line x1="325.00" y1="88.50" x2="335.75" y2="88.50" stroke="#5a5aff" stroke-width="0.90"/>
<line x1="318.00" y1="100.50" x2="321.50" y2="94.50" stroke="#b8b8b8" stroke-width="0.90"/>
<line x1="325.00" y1="88.50" x2="321.50" y2="94.50" stroke="#5a5aff" stroke-width="0.90"/>
<line x1="325.00" y1="88.50" x2="321.50" y2="82.50" stroke="#5a5aff" stroke-width="0.90"/>
<line x1="318.00" y1="76.50" x2="321.50" y2="82.50" stroke="#b8b8b8" stroke-width="0.90"/>
<line x1="318.00" y1="100.50" x2="311.00" y2="97.90" stroke="#b8b8b8" stroke-width="0.90"/>
<line x1="304.00" y1="95.30" x2="311.00" y2="97.90" stroke="#b8b8b8" stroke-width="0.90"/>
<line x1="304.00" y1="95.30" x2="304.00" y2="88.50" stroke="#b8b8b8" stroke-width="0.90"/>
<line x1="304.00" y1="81.70" x2="304.00" y2="88.50" stroke="#b8b8b8" stroke-width="0.90"/>
<line x1="304.00" y1="81.70" x2="311.00" y2="79.10" stroke="#b8b8b8" stroke-width="0.90"/>
<line x1="318.00" y1="76.50" x2="311.00" y2="79.10" stroke="#b8b8b8" stroke-width="0.90"/>
<line x1="304.00" y1="95.30" x2="299.25" y2="98.90" stroke="#b8b8b8" stroke-width="0.90"/>
<line x1="294.50" y1="102.50" x2="299.25" y2="98.90" stroke="#f8f8f8" stroke-width="0.90"/>
<line x1="304.00" y1="81.70" x2="299.25" y2="78.10" stroke="#b8b8b8" stroke-width="0.90"/>
<line x1="294.50" y1="74.50" x2="299.25" y2="78.10" stroke="#f8f8f8" stroke-width="0.90"/>
<line x1="318.00" y1="76.50" x2="319.65" y2="69.90" stroke="#b8b8b8" stroke-width="0.90"/>
<line x1="321.30" y1="63.30" x2="319.65" y2="69.90" stroke="#b8b8b8" stroke-width="0.90"/>
<line x1="321.30" y1="63.30" x2="327.90" y2="61.65" stroke="#b8b8b8" stroke-width="0.90"/>
<line x1="334.50" y1="60.00" x2="327.90" y2="61.65" stroke="#b8b8b8" stroke-width="0.90"/>
<line x1="321.30" y1="63.30" x2="315.95" y2="58.05" stroke="#b8b8b8" stroke-width="0.90"/>
<line x1="310.60" y1="52.80" x2="315.95" y2="58.05" stroke="#b8b8b8" stroke-width="0.90"/>
<line x1="310.60" y1="52.80" x2="305.93" y2="52.25" stroke="#b8b8b8" stroke-width="0.90"/>
<line x1="301.25" y1="51.70" x2="305.93" y2="52.25" stroke="#b8b8b8" stroke-width="0.90"/>
<line x1="301.25" y1="51.70" x2="296.00" y2="46.73" stroke="#b8b8b8" stroke-width="0.90"/>
<line x1="290.75" y1="41.75" x2="296.00" y2="46.73" stroke="#b8b8b8" stroke-width="0.90"/>
<line x1="290.75" y1="41.75" x2="290.48" y2="36.77" stroke="#b8b8b8" stroke-width="0.90"/>
<line x1="290.20" y1="31.80" x2="290.48" y2="36.77" stroke="#b8b8b8" stroke-width="0.90"/>
<line x1="290.20" y1="31.80" x2="295.15" y2="32.10" stroke="#b8b8b8" stroke-width="0.90"/>
<line x1="300.10" y1="32.40" x2="295.15" y2="32.10" stroke="#b8b8b8" stroke-width="0.90"/>
<line x1="300.10" y1="32.40" x2="305.05" y2="37.35" stroke="#b8b8b8" stroke-width="0.90"/>
<line x1="310.00" y1="42.30" x2="305.05" y2="37.35" stroke="#b8b8b8" stroke-width="0.90"/>
<line x1="310.00" y1="42.30" x2="310.30" y2="47.55" stroke="#b8b8b8" stroke-width="0.90"/>
<line x1="310.60" y1="52.80" x2="310.30" y2="47.55" stroke="#b8b8b8" stroke-width="0.90"/>
<line x1="290.20" y1="31.80" x2="285.23" y2="26.85" stroke="#b8b8b8" stroke-width="0.90"/>
<line x1="280.25" y1="21.90" x2="285.23" y2="26.85" stroke="#5a5aff" stroke-width="0.90"/>
<line x1="280.25" y1="21.90" x2="277.02" y2="21.05" stroke="#5a5aff" stroke-width="0.90"/>
<line x1="273.80" y1="20.20" x2="277.02" y2="21.05" stroke="#f8f8f8" stroke-width="0.90"/>
<line x1="280.25" y1="21.90" x2="281.12" y2="17.55" stroke="#5a5aff" stroke-width="0.90"/>
<line x1="282.00" y1="13.20" x2="281.12" y2="17.55" stroke="#f8f8f8" stroke-width="0.90"/>
<line x1="301.25" y1="51.70" x2="301.25" y2="56.05" stroke="#b8b8b8" stroke-width="0.90"/>
<line x1="301.25" y1="60.40" x2="301.25" y2="56.05" stroke="#f8f8f8" stroke-width="0.90"/>
<line x1="310.00" y1="42.30" x2="314.10" y2="42.60" stroke="#b8b8b8" stroke-width="0.90"/>
<line x1="318.20" y1="42.90" x2="314.10" y2="42.60" stroke="#f8f8f8" stroke-width="0.90"/>
<line x1="290.75" y1="41.75" x2="286.68" y2="41.48" stroke="#b8b8b8" stroke-width="0.90"/>
<line x1="282.60" y1="41.20" x2="286.68" y2="41.48" stroke="#f8f8f8" stroke-width="0.90"/>
<line x1="300.10" y1="32.40" x2="299.80" y2="28.60" stroke="#b8b8b8" stroke-width="0.90"/>
<line x1="299.50" y1="24.80" x2="299.80" y2="28.60" stroke="#f8f8f8" stroke-width="0.90"/>
<circle cx="332.50" cy="36.50" r="3.50" fill="url(#gH)"/>
<circle cx="360.50" cy="36.50" r="3.50" fill="url(#gH)"/>
<circle cx="414.80" cy="15.80" r="3.50" fill="url(#gH)"/>
<circle cx="421.80" cy="24.00" r="3.50" fill="url(#gH)"/>
<circle cx="374.60" cy="43.25" r="3.50" fill="url(#gH)"/>
<circle cx="392.10" cy="60.20" r="3.50" fill="url(#gH)"/>
<circle cx="393.80" cy="24.60" r="3.50" fill="url(#gH)"/>
<circle cx="410.20" cy="41.50" r="3.50" fill="url(#gH)"/>
<circle cx="398.50" cy="74.50" r="3.50" fill="url(#gH)"/>
<circle cx="398.50" cy="102.50" r="3.50" fill="url(#gH)"/>
<circle cx="419.20" cy="156.80" r="3.50" fill="url(#gH)"/>
<circle cx="411.00" cy="163.80" r="3.50" fill="url(#gH)"/>
<circle cx="391.75" cy="116.60" r="3.50" fill="url(#gH)"/>
<circle cx="374.80" cy="134.10" r="3.50" fill="url(#gH)"/>
<circle cx="410.40" cy="135.80" r="3.50" fill="url(#gH)"/>
<circle cx="393.50" cy="152.20" r="3.50" fill="url(#gH)"/>
<circle cx="360.50" cy="140.50" r="3.50" fill="url(#gH)"/>
<circle cx="332.50" cy="140.50" r="3.50" fill="url(#gH)"/>
<circle cx="278.20" cy="161.20" r="3.50" fill="url(#gH)"/>
<circle cx="271.20" cy="153.00" r="3.50" fill="url(#gH)"/>
<circle cx="318.40" cy="133.75" r="3.50" fill="url(#gH)"/>
<circle cx="300.90" cy="116.80" r="3.50" fill="url(#gH)"/>
<circle cx="299.20" cy="152.40" r="3.50" fill="url(#gH)"/>
<circle cx="282.80" cy="135.50" r="3.50" fill="url(#gH)"/>
<circle cx="294.50" cy="102.50" r="3.50" fill="url(#gH)"/>
<circle cx="294.50" cy="74.50" r="3.50" fill="url(#gH)"/>
<circle cx="273.80" cy="20.20" r="3.50" fill="url(#gH)"/>
<circle cx="282.00" cy="13.20" r="3.50" fill="url(#gH)"/>
<circle cx="301.25" cy="60.40" r="3.50" fill="url(#gH)"/>
<circle cx="318.20" cy="42.90" r="3.50" fill="url(#gH)"/>
<circle cx="282.60" cy="41.20" r="3.50" fill="url(#gH)"/>
<circle cx="299.50" cy="24.80" r="3.50" fill="url(#gH)"/>
<circle cx="334.50" cy="60.00" r="3.50" fill="url(#gC)"/>
<circle cx="358.50" cy="60.00" r="3.50" fill="url(#gC)"/>
<circle cx="339.70" cy="46.00" r="3.50" fill="url(#gC)"/>
<circle cx="353.30" cy="46.00" r="3.50" fill="url(#gC)"/>
<circle cx="371.70" cy="63.30" r="3.50" fill="url(#gC)"/>
<circle cx="382.20" cy="52.60" r="3.50" fill="url(#gC)"/>
<circle cx="383.30" cy="43.25" r="3.50" fill="url(#gC)"/>
<circle cx="392.70" cy="52.00" r="3.50" fill="url(#gC)"/>
<circle cx="393.25" cy="32.75" r="3.50" fill="url(#gC)"/>
<circle cx="402.60" cy="42.10" r="3.50" fill="url(#gC)"/>
<circle cx="403.20" cy="32.20" r="3.50" fill="url(#gC)"/>
<circle cx="375.00" cy="76.50" r="3.50" fill="url(#gC)"/>
<circle cx="375.00" cy="100.50" r="3.50" fill="url(#gC)"/>
<circle cx="389.00" cy="81.70" r="3.50" fill="url(#gC)"/>
<circle cx="389.00" cy="95.30" r="3.50" fill="url(#gC)"/>
<circle cx="371.70" cy="113.70" r="3.50" fill="url(#gC)"/>
<circle cx="382.40" cy="124.20" r="3.50" fill="url(#gC)"/>
<circle cx="391.75" cy="125.30" r="3.50" fill="url(#gC)"/>
<circle cx="383.00" cy="134.70" r="3.50" fill="url(#gC)"/>
<circle cx="402.25" cy="135.25" r="3.50" fill="url(#gC)"/>
<circle cx="392.90" cy="144.60" r="3.50" fill="url(#gC)"/>
<circle cx="402.80" cy="145.20" r="3.50" fill="url(#gC)"/>
<circle cx="358.50" cy="117.00" r="3.50" fill="url(#gC)"/>
<circle cx="334.50" cy="117.00" r="3.50" fill="url(#gC)"/>
<circle cx="353.30" cy="131.00" r="3.50" fill="url(#gC)"/>
<circle cx="339.70" cy="131.00" r="3.50" fill="url(#gC)"/>
<circle cx="321.30" cy="113.70" r="3.50" fill="url(#gC)"/>
<circle cx="310.80" cy="124.40" r="3.50" fill="url(#gC)"/>
<circle cx="309.70" cy="133.75" r="3.50" fill="url(#gC)"/>
<circle cx="300.30" cy="125.00" r="3.50" fill="url(#gC)"/>
<circle cx="299.75" cy="144.25" r="3.50" fill="url(#gC)"/>
<circle cx="290.40" cy="134.90" r="3.50" fill="url(#gC)"/>
<circle cx="289.80" cy="144.80" r="3.50" fill="url(#gC)"/>
<circle cx="318.00" cy="100.50" r="3.50" fill="url(#gC)"/>
<circle cx="318.00" cy="76.50" r="3.50" fill="url(#gC)"/>
<circle cx="304.00" cy="95.30" r="3.50" fill="url(#gC)"/>
<circle cx="304.00" cy="81.70" r="3.50" fill="url(#gC)"/>
<circle cx="321.30" cy="63.30" r="3.50" fill="url(#gC)"/>
<circle cx="310.60" cy="52.80" r="3.50" fill="url(#gC)"/>
<circle cx="301.25" cy="51.70" r="3.50" fill="url(#gC)"/>
<circle cx="310.00" cy="42.30" r="3.50" fill="url(#gC)"/>
<circle cx="290.75" cy="41.75" r="3.50" fill="url(#gC)"/>
<circle cx="300.10" cy="32.40" r="3.50" fill="url(#gC)"/>
<circle cx="290.20" cy="31.80" r="3.50" fill="url(#gC)"/>
<circle cx="346.50" cy="67.00" r="4.20" fill="url(#gN)"/>
<circle cx="413.10" cy="22.25" r="4.20" fill="url(#gN)"/>
<circle cx="368.00" cy="88.50" r="4.20" fill="url(#gN)"/>
<circle cx="412.75" cy="155.10" r="4.20" fill="url(#gN)"/>
<circle cx="346.50" cy="110.00" r="4.20" fill="url(#gN)"/>
<circle cx="279.90" cy="154.75" r="4.20" fill="url(#gN)"/>
<circle cx="325.00" cy="88.50" r="4.20" fill="url(#gN)"/>
<circle cx="280.25" cy="21.90" r="4.20" fill="url(#gN)"/>
<circle cx="346.50" cy="88.50" r="3.40" fill="url(#gCu)"/>
<line x1="507.50" y1="86.30" x2="507.50" y2="76.80" stroke="#c06850" stroke-width="3.99"/>
<line x1="507.50" y1="67.30" x2="507.50" y2="76.80" stroke="#0000b8" stroke-width="3.99"/>
<line x1="497.10" y1="61.50" x2="502.30" y2="64.40" stroke="#5c5c5c" stroke-width="3.99"/>
<line x1="507.50" y1="67.30" x2="502.30" y2="64.40" stroke="#0000b8" stroke-width="3.99"/>
<line x1="507.50" y1="67.30" x2="512.70" y2="64.40" stroke="#0000b8" stroke-width="3.99"/>
<line x1="517.90" y1="61.50" x2="512.70" y2="64.40" stroke="#5c5c5c" stroke-width="3.99"/>
<line x1="497.10" y1="61.50" x2="499.20" y2="55.30" stroke="#5c5c5c" stroke-width="3.99"/>
<line x1="501.30" y1="49.10" x2="499.20" y2="55.30" stroke="#5c5c5c" stroke-width="3.99"/>
<line x1="501.30" y1="49.10" x2="507.50" y2="49.10" stroke="#5c5c5c" stroke-width="3.99"/>
<line x1="513.70" y1="49.10" x2="507.50" y2="49.10" stroke="#5c5c5c" stroke-width="3.99"/>
<line x1="513.70" y1="49.10" x2="515.80" y2="55.30" stroke="#5c5c5c" stroke-width="3.99"/>
<line x1="517.90" y1="61.50" x2="515.80" y2="55.30" stroke="#5c5c5c" stroke-width="3.99"/>
<line x1="501.30" y1="49.10" x2="497.75" y2="43.85" stroke="#5c5c5c" stroke-width="3.99"/>
<line x1="494.20" y1="38.60" x2="497.75" y2="43.85" stroke="#5c5c5c" stroke-width="3.99"/>
<line x1="494.20" y1="38.60" x2="497.75" y2="33.05" stroke="#5c5c5c" stroke-width="3.99"/>
<line x1="501.30" y1="27.50" x2="497.75" y2="33.05" stroke="#5c5c5c" stroke-width="3.99"/>
<line x1="501.30" y1="27.50" x2="507.50" y2="27.50" stroke="#5c5c5c" stroke-width="3.99"/>
<line x1="513.70" y1="27.50" x2="507.50" y2="27.50" stroke="#5c5c5c" stroke-width="3.99"/>
<line x1="513.70" y1="27.50" x2="517.25" y2="33.05" stroke="#5c5c5c" stroke-width="3.99"/>
<line x1="520.80" y1="38.60" x2="517.25" y2="33.05" stroke="#5c5c5c" stroke-width="3.99"/>
<line x1="520.80" y1="38.60" x2="517.25" y2="43.85" stroke="#5c5c5c" stroke-width="3.99"/>
<line x1="513.70" y1="49.10" x2="517.25" y2="43.85" stroke="#5c5c5c" stroke-width="3.99"/>
<line x1="494.20" y1="38.60" x2="489.70" y2="38.60" stroke="#5c5c5c" stroke-width="3.99"/>
<line x1="485.20" y1="38.60" x2="489.70" y2="38.60" stroke="#a8a8a8" stroke-width="3.99"/>
<line x1="520.80" y1="38.60" x2="525.30" y2="38.60" stroke="#5c5c5c" stroke-width="3.99"/>
<line x1="529.80" y1="38.60" x2="525.30" y2="38.60" stroke="#a8a8a8" stroke-width="3.99"/>
<line x1="501.30" y1="27.50" x2="497.95" y2="21.95" stroke="#5c5c5c" stroke-width="3.99"/>
<line x1="494.60" y1="16.40" x2="497.95" y2="21.95" stroke="#0000b8" stroke-width="3.99"/>
<line x1="494.60" y1="16.40" x2="490.25" y2="16.40" stroke="#0000b8" stroke-width="3.99"/>
<line x1="485.90" y1="16.40" x2="490.25" y2="16.40" stroke="#a8a8a8" stroke-width="3.99"/>
<line x1="494.60" y1="16.40" x2="497.10" y2="13.45" stroke="#0000b8" stroke-width="3.99"/>
<line x1="499.60" y1="10.50" x2="497.10" y2="13.45" stroke="#a8a8a8" stroke-width="3.99"/>
<line x1="513.70" y1="27.50" x2="517.05" y2="21.95" stroke="#5c5c5c" stroke-width="3.99"/>
<line x1="520.40" y1="16.40" x2="517.05" y2="21.95" stroke="#0000b8" stroke-width="3.99"/>
<line x1="520.40" y1="16.40" x2="524.75" y2="16.40" stroke="#0000b8" stroke-width="3.99"/>
<line x1="529.10" y1="16.40" x2="524.75" y2="16.40" stroke="#a8a8a8" stroke-width="3.99"/>
<line x1="520.40" y1="16.40" x2="517.90" y2="13.45" stroke="#0000b8" stroke-width="3.99"/>
<line x1="515.40" y1="10.50" x2="517.90" y2="13.45" stroke="#a8a8a8" stroke-width="3.99"/>
<line x1="517.90" y1="61.50" x2="523.35" y2="63.00" stroke="#5c5c5c" stroke-width="3.99"/>
<line x1="528.80" y1="64.50" x2="523.35" y2="63.00" stroke="#0000b8" stroke-width="3.99"/>
<line x1="528.80" y1="64.50" x2="530.55" y2="70.20" stroke="#0000b8" stroke-width="3.99"/>
<line x1="532.30" y1="75.90" x2="530.55" y2="70.20" stroke="#5c5c5c" stroke-width="3.99"/>
<line x1="507.50" y1="86.30" x2="517.00" y2="86.30" stroke="#c06850" stroke-width="3.99"/>
<line x1="526.50" y1="86.30" x2="517.00" y2="86.30" stroke="#0000b8" stroke-width="3.99"/>
<line x1="532.30" y1="75.90" x2="529.40" y2="81.10" stroke="#5c5c5c" stroke-width="3.99"/>
<line x1="526.50" y1="86.30" x2="529.40" y2="81.10" stroke="#0000b8" stroke-width="3.99"/>
<line x1="526.50" y1="86.30" x2="529.40" y2="91.50" stroke="#0000b8" stroke-width="3.99"/>
<line x1="532.30" y1="96.70" x2="529.40" y2="91.50" stroke="#5c5c5c" stroke-width="3.99"/>
<line x1="532.30" y1="75.90" x2="538.50" y2="78.00" stroke="#5c5c5c" stroke-width="3.99"/>
<line x1="544.70" y1="80.10" x2="538.50" y2="78.00" stroke="#5c5c5c" stroke-width="3.99"/>
<line x1="544.70" y1="80.10" x2="544.70" y2="86.30" stroke="#5c5c5c" stroke-width="3.99"/>
<line x1="544.70" y1="92.50" x2="544.70" y2="86.30" stroke="#5c5c5c" stroke-width="3.99"/>
<line x1="544.70" y1="92.50" x2="538.50" y2="94.60" stroke="#5c5c5c" stroke-width="3.99"/>
<line x1="532.30" y1="96.70" x2="538.50" y2="94.60" stroke="#5c5c5c" stroke-width="3.99"/>
<line x1="544.70" y1="80.10" x2="549.95" y2="76.55" stroke="#5c5c5c" stroke-width="3.99"/>
<line x1="555.20" y1="73.00" x2="549.95" y2="76.55" stroke="#5c5c5c" stroke-width="3.99"/>
<line x1="555.20" y1="73.00" x2="560.75" y2="76.55" stroke="#5c5c5c" stroke-width="3.99"/>
<line x1="566.30" y1="80.10" x2="560.75" y2="76.55" stroke="#5c5c5c" stroke-width="3.99"/>
<line x1="566.30" y1="80.10" x2="566.30" y2="86.30" stroke="#5c5c5c" stroke-width="3.99"/>
<line x1="566.30" y1="92.50" x2="566.30" y2="86.30" stroke="#5c5c5c" stroke-width="3.99"/>
<line x1="566.30" y1="92.50" x2="560.75" y2="96.05" stroke="#5c5c5c" stroke-width="3.99"/>
<line x1="555.20" y1="99.60" x2="560.75" y2="96.05" stroke="#5c5c5c" stroke-width="3.99"/>
<line x1="555.20" y1="99.60" x2="549.95" y2="96.05" stroke="#5c5c5c" stroke-width="3.99"/>
<line x1="544.70" y1="92.50" x2="549.95" y2="96.05" stroke="#5c5c5c" stroke-width="3.99"/>
<line x1="555.20" y1="73.00" x2="555.20" y2="68.50" stroke="#5c5c5c" stroke-width="3.99"/>
<line x1="555.20" y1="64.00" x2="555.20" y2="68.50" stroke="#a8a8a8" stroke-width="3.99"/>
<line x1="555.20" y1="99.60" x2="555.20" y2="104.10" stroke="#5c5c5c" stroke-width="3.99"/>
<line x1="555.20" y1="108.60" x2="555.20" y2="104.10" stroke="#a8a8a8" stroke-width="3.99"/>
<line x1="566.30" y1="80.10" x2="571.85" y2="76.75" stroke="#5c5c5c" stroke-width="3.99"/>
<line x1="577.40" y1="73.40" x2="571.85" y2="76.75" stroke="#0000b8" stroke-width="3.99"/>
<line x1="577.40" y1="73.40" x2="577.40" y2="69.05" stroke="#0000b8" stroke-width="3.99"/>
<line x1="577.40" y1="64.70" x2="577.40" y2="69.05" stroke="#a8a8a8" stroke-width="3.99"/>
<line x1="577.40" y1="73.40" x2="580.35" y2="75.90" stroke="#0000b8" stroke-width="3.99"/>
<line x1="583.30" y1="78.40" x2="580.35" y2="75.90" stroke="#a8a8a8" stroke-width="3.99"/>
<line x1="566.30" y1="92.50" x2="571.85" y2="95.85" stroke="#5c5c5c" stroke-width="3.99"/>
<line x1="577.40" y1="99.20" x2="571.85" y2="95.85" stroke="#0000b8" stroke-width="3.99"/>
<line x1="577.40" y1="99.20" x2="577.40" y2="103.55" stroke="#0000b8" stroke-width="3.99"/>
<line x1="577.40" y1="107.90" x2="577.40" y2="103.55" stroke="#a8a8a8" stroke-width="3.99"/>
<line x1="577.40" y1="99.20" x2="580.35" y2="96.70" stroke="#0000b8" stroke-width="3.99"/>
<line x1="583.30" y1="94.20" x2="580.35" y2="96.70" stroke="#a8a8a8" stroke-width="3.99"/>
<line x1="532.30" y1="96.70" x2="530.80" y2="102.15" stroke="#5c5c5c" stroke-width="3.99"/>
<line x1="529.30" y1="107.60" x2="530.80" y2="102.15" stroke="#0000b8" stroke-width="3.99"/>
<line x1="529.30" y1="107.60" x2="523.60" y2="109.35" stroke="#0000b8" stroke-width="3.99"/>
<line x1="517.90" y1="111.10" x2="523.60" y2="109.35" stroke="#5c5c5c" stroke-width="3.99"/>
<line x1="507.50" y1="86.30" x2="507.50" y2="95.80" stroke="#c06850" stroke-width="3.99"/>
<line x1="507.50" y1="105.30" x2="507.50" y2="95.80" stroke="#0000b8" stroke-width="3.99"/>
<line x1="517.90" y1="111.10" x2="512.70" y2="108.20" stroke="#5c5c5c" stroke-width="3.99"/>
<line x1="507.50" y1="105.30" x2="512.70" y2="108.20" stroke="#0000b8" stroke-width="3.99"/>
<line x1="507.50" y1="105.30" x2="502.30" y2="108.20" stroke="#0000b8" stroke-width="3.99"/>
<line x1="497.10" y1="111.10" x2="502.30" y2="108.20" stroke="#5c5c5c" stroke-width="3.99"/>
<line x1="517.90" y1="111.10" x2="515.80" y2="117.30" stroke="#5c5c5c" stroke-width="3.99"/>
<line x1="513.70" y1="123.50" x2="515.80" y2="117.30" stroke="#5c5c5c" stroke-width="3.99"/>
<line x1="513.70" y1="123.50" x2="507.50" y2="123.50" stroke="#5c5c5c" stroke-width="3.99"/>
<line x1="501.30" y1="123.50" x2="507.50" y2="123.50" stroke="#5c5c5c" stroke-width="3.99"/>
<line x1="501.30" y1="123.50" x2="499.20" y2="117.30" stroke="#5c5c5c" stroke-width="3.99"/>
<line x1="497.10" y1="111.10" x2="499.20" y2="117.30" stroke="#5c5c5c" stroke-width="3.99"/>
<line x1="513.70" y1="123.50" x2="517.25" y2="128.75" stroke="#5c5c5c" stroke-width="3.99"/>
<line x1="520.80" y1="134.00" x2="517.25" y2="128.75" stroke="#5c5c5c" stroke-width="3.99"/>
<line x1="520.80" y1="134.00" x2="517.25" y2="139.55" stroke="#5c5c5c" stroke-width="3.99"/>
<line x1="513.70" y1="145.10" x2="517.25" y2="139.55" stroke="#5c5c5c" stroke-width="3.99"/>
<line x1="513.70" y1="145.10" x2="507.50" y2="145.10" stroke="#5c5c5c" stroke-width="3.99"/>
<line x1="501.30" y1="145.10" x2="507.50" y2="145.10" stroke="#5c5c5c" stroke-width="3.99"/>
<line x1="501.30" y1="145.10" x2="497.75" y2="139.55" stroke="#5c5c5c" stroke-width="3.99"/>
<line x1="494.20" y1="134.00" x2="497.75" y2="139.55" stroke="#5c5c5c" stroke-width="3.99"/>
<line x1="494.20" y1="134.00" x2="497.75" y2="128.75" stroke="#5c5c5c" stroke-width="3.99"/>
<line x1="501.30" y1="123.50" x2="497.75" y2="128.75" stroke="#5c5c5c" stroke-width="3.99"/>
<line x1="520.80" y1="134.00" x2="525.30" y2="134.00" stroke="#5c5c5c" stroke-width="3.99"/>
<line x1="529.80" y1="134.00" x2="525.30" y2="134.00" stroke="#a8a8a8" stroke-width="3.99"/>
<line x1="494.20" y1="134.00" x2="489.70" y2="134.00" stroke="#5c5c5c" stroke-width="3.99"/>
<line x1="485.20" y1="134.00" x2="489.70" y2="134.00" stroke="#a8a8a8" stroke-width="3.99"/>
<line x1="513.70" y1="145.10" x2="517.05" y2="150.65" stroke="#5c5c5c" stroke-width="3.99"/>
<line x1="520.40" y1="156.20" x2="517.05" y2="150.65" stroke="#0000b8" stroke-width="3.99"/>
<line x1="520.40" y1="156.20" x2="524.75" y2="156.20" stroke="#0000b8" stroke-width="3.99"/>
<line x1="529.10" y1="156.20" x2="524.75" y2="156.20" stroke="#a8a8a8" stroke-width="3.99"/>
<line x1="520.40" y1="156.20" x2="517.90" y2="159.15" stroke="#0000b8" stroke-width="3.99"/>
<line x1="515.40" y1="162.10" x2="517.90" y2="159.15" stroke="#a8a8a8" stroke-width="3.99"/>
<line x1="501.30" y1="145.10" x2="497.95" y2="150.65" stroke="#5c5c5c" stroke-width="3.99"/>
<line x1="494.60" y1="156.20" x2="497.95" y2="150.65" stroke="#0000b8" stroke-width="3.99"/>
<line x1="494.60" y1="156.20" x2="490.25" y2="156.20" stroke="#0000b8" stroke-width="3.99"/>
<line x1="485.90" y1="156.20" x2="490.25" y2="156.20" stroke="#a8a8a8" stroke-width="3.99"/>
<line x1="494.60" y1="156.20" x2="497.10" y2="159.15" stroke="#0000b8" stroke-width="3.99"/>
<line x1="499.60" y1="162.10" x2="497.10" y2="159.15" stroke="#a8a8a8" stroke-width="3.99"/>
<line x1="497.10" y1="111.10" x2="491.65" y2="109.60" stroke="#5c5c5c" stroke-width="3.99"/>
<line x1="486.20" y1="108.10" x2="491.65" y2="109.60" stroke="#0000b8" stroke-width="3.99"/>
<line x1="486.20" y1="108.10" x2="484.45" y2="102.40" stroke="#0000b8" stroke-width="3.99"/>
<line x1="482.70" y1="96.70" x2="484.45" y2="102.40" stroke="#5c5c5c" stroke-width="3.99"/>
<line x1="507.50" y1="86.30" x2="498.00" y2="86.30" stroke="#c06850" stroke-width="3.99"/>
<line x1="488.50" y1="86.30" x2="498.00" y2="86.30" stroke="#0000b8" stroke-width="3.99"/>
<line x1="482.70" y1="96.70" x2="485.60" y2="91.50" stroke="#5c5c5c" stroke-width="3.99"/>
<line x1="488.50" y1="86.30" x2="485.60" y2="91.50" stroke="#0000b8" stroke-width="3.99"/>
<line x1="488.50" y1="86.30" x2="485.60" y2="81.10" stroke="#0000b8" stroke-width="3.99"/>
<line x1="482.70" y1="75.90" x2="485.60" y2="81.10" stroke="#5c5c5c" stroke-width="3.99"/>
<line x1="482.70" y1="96.70" x2="476.50" y2="94.60" stroke="#5c5c5c" stroke-width="3.99"/>
<line x1="470.30" y1="92.50" x2="476.50" y2="94.60" stroke="#5c5c5c" stroke-width="3.99"/>
<line x1="470.30" y1="92.50" x2="470.30" y2="86.30" stroke="#5c5c5c" stroke-width="3.99"/>
<line x1="470.30" y1="80.10" x2="470.30" y2="86.30" stroke="#5c5c5c" stroke-width="3.99"/>
<line x1="470.30" y1="80.10" x2="476.50" y2="78.00" stroke="#5c5c5c" stroke-width="3.99"/>
<line x1="482.70" y1="75.90" x2="476.50" y2="78.00" stroke="#5c5c5c" stroke-width="3.99"/>
<line x1="470.30" y1="92.50" x2="465.05" y2="96.05" stroke="#5c5c5c" stroke-width="3.99"/>
<line x1="459.80" y1="99.60" x2="465.05" y2="96.05" stroke="#5c5c5c" stroke-width="3.99"/>
<line x1="459.80" y1="99.60" x2="454.25" y2="96.05" stroke="#5c5c5c" stroke-width="3.99"/>
<line x1="448.70" y1="92.50" x2="454.25" y2="96.05" stroke="#5c5c5c" stroke-width="3.99"/>
<line x1="448.70" y1="92.50" x2="448.70" y2="86.30" stroke="#5c5c5c" stroke-width="3.99"/>
<line x1="448.70" y1="80.10" x2="448.70" y2="86.30" stroke="#5c5c5c" stroke-width="3.99"/>
<line x1="448.70" y1="80.10" x2="454.25" y2="76.55" stroke="#5c5c5c" stroke-width="3.99"/>
<line x1="459.80" y1="73.00" x2="454.25" y2="76.55" stroke="#5c5c5c" stroke-width="3.99"/>
<line x1="459.80" y1="73.00" x2="465.05" y2="76.55" stroke="#5c5c5c" stroke-width="3.99"/>
<line x1="470.30" y1="80.10" x2="465.05" y2="76.55" stroke="#5c5c5c" stroke-width="3.99"/>
<line x1="459.80" y1="99.60" x2="459.80" y2="104.10" stroke="#5c5c5c" stroke-width="3.99"/>
<line x1="459.80" y1="108.60" x2="459.80" y2="104.10" stroke="#a8a8a8" stroke-width="3.99"/>
<line x1="459.80" y1="73.00" x2="459.80" y2="68.50" stroke="#5c5c5c" stroke-width="3.99"/>
<line x1="459.80" y1="64.00" x2="459.80" y2="68.50" stroke="#a8a8a8" stroke-width="3.99"/>
<line x1="448.70" y1="92.50" x2="443.15" y2="95.85" stroke="#5c5c5c" stroke-width="3.99"/>
<line x1="437.60" y1="99.20" x2="443.15" y2="95.85" stroke="#0000b8" stroke-width="3.99"/>
<line x1="437.60" y1="99.20" x2="437.60" y2="103.55" stroke="#0000b8" stroke-width="3.99"/>
<line x1="437.60" y1="107.90" x2="437.60" y2="103.55" stroke="#a8a8a8" stroke-width="3.99"/>
<line x1="437.60" y1="99.20" x2="434.65" y2="96.70" stroke="#0000b8" stroke-width="3.99"/>
<line x1="431.70" y1="94.20" x2="434.65" y2="96.70" stroke="#a8a8a8" stroke-width="3.99"/>
<line x1="448.70" y1="80.10" x2="443.15" y2="76.75" stroke="#5c5c5c" stroke-width="3.99"/>
<line x1="437.60" y1="73.40" x2="443.15" y2="76.75" stroke="#0000b8" stroke-width="3.99"/>
<line x1="437.60" y1="73.40" x2="437.60" y2="69.05" stroke="#0000b8" stroke-width="3.99"/>
<line x1="437.60" y1="64.70" x2="437.60" y2="69.05" stroke="#a8a8a8" stroke-width="3.99"/>
<line x1="437.60" y1="73.40" x2="434.65" y2="75.90" stroke="#0000b8" stroke-width="3.99"/>
<line x1="431.70" y1="78.40" x2="434.65" y2="75.90" stroke="#a8a8a8" stroke-width="3.99"/>
<line x1="482.70" y1="75.90" x2="484.20" y2="70.45" stroke="#5c5c5c" stroke-width="3.99"/>
<line x1="485.70" y1="65.00" x2="484.20" y2="70.45" stroke="#0000b8" stroke-width="3.99"/>
<line x1="485.70" y1="65.00" x2="491.40" y2="63.25" stroke="#0000b8" stroke-width="3.99"/>
<line x1="497.10" y1="61.50" x2="491.40" y2="63.25" stroke="#5c5c5c" stroke-width="3.99"/>
<line x1="507.50" y1="86.30" x2="507.50" y2="76.80" stroke="#f29a82" stroke-width="2.85"/>
<line x1="507.50" y1="67.30" x2="507.50" y2="76.80" stroke="#1c1cf4" stroke-width="2.85"/>
<line x1="497.10" y1="61.50" x2="502.30" y2="64.40" stroke="#8c8c8c" stroke-width="2.85"/>
<line x1="507.50" y1="67.30" x2="502.30" y2="64.40" stroke="#1c1cf4" stroke-width="2.85"/>
<line x1="507.50" y1="67.30" x2="512.70" y2="64.40" stroke="#1c1cf4" stroke-width="2.85"/>
<line x1="517.90" y1="61.50" x2="512.70" y2="64.40" stroke="#8c8c8c" stroke-width="2.85"/>
<line x1="497.10" y1="61.50" x2="499.20" y2="55.30" stroke="#8c8c8c" stroke-width="2.85"/>
<line x1="501.30" y1="49.10" x2="499.20" y2="55.30" stroke="#8c8c8c" stroke-width="2.85"/>
<line x1="501.30" y1="49.10" x2="507.50" y2="49.10" stroke="#8c8c8c" stroke-width="2.85"/>
<line x1="513.70" y1="49.10" x2="507.50" y2="49.10" stroke="#8c8c8c" stroke-width="2.85"/>
<line x1="513.70" y1="49.10" x2="515.80" y2="55.30" stroke="#8c8c8c" stroke-width="2.85"/>
<line x1="517.90" y1="61.50" x2="515.80" y2="55.30" stroke="#8c8c8c" stroke-width="2.85"/>
<line x1="501.30" y1="49.10" x2="497.75" y2="43.85" stroke="#8c8c8c" stroke-width="2.85"/>
<line x1="494.20" y1="38.60" x2="497.75" y2="43.85" stroke="#8c8c8c" stroke-width="2.85"/>
<line x1="494.20" y1="38.60" x2="497.75" y2="33.05" stroke="#8c8c8c" stroke-width="2.85"/>
<line x1="501.30" y1="27.50" x2="497.75" y2="33.05" stroke="#8c8c8c" stroke-width="2.85"/>
<line x1="501.30" y1="27.50" x2="507.50" y2="27.50" stroke="#8c8c8c" stroke-width="2.85"/>
<line x1="513.70" y1="27.50" x2="507.50" y2="27.50" stroke="#8c8c8c" stroke-width="2.85"/>
<line x1="513.70" y1="27.50" x2="517.25" y2="33.05" stroke="#8c8c8c" stroke-width="2.85"/>
<line x1="520.80" y1="38.60" x2="517.25" y2="33.05" stroke="#8c8c8c" stroke-width="2.85"/>
<line x1="520.80" y1="38.60" x2="517.25" y2="43.85" stroke="#8c8c8c" stroke-width="2.85"/>
<line x1="513.70" y1="49.10" x2="517.25" y2="43.85" stroke="#8c8c8c" stroke-width="2.85"/>
<line x1="494.20" y1="38.60" x2="489.70" y2="38.60" stroke="#8c8c8c" stroke-width="2.85"/>
<line x1="485.20" y1="38.60" x2="489.70" y2="38.60" stroke="#dcdcdc" stroke-width="2.85"/>
<line x1="520.80" y1="38.60" x2="525.30" y2="38.60" stroke="#8c8c8c" stroke-width="2.85"/>
<line x1="529.80" y1="38.60" x2="525.30" y2="38.60" stroke="#dcdcdc" stroke-width="2.85"/>
<line x1="501.30" y1="27.50" x2="497.95" y2="21.95" stroke="#8c8c8c" stroke-width="2.85"/>
<line x1="494.60" y1="16.40" x2="497.95" y2="21.95" stroke="#1c1cf4" stroke-width="2.85"/>
<line x1="494.60" y1="16.40" x2="490.25" y2="16.40" stroke="#1c1cf4" stroke-width="2.85"/>
<line x1="485.90" y1="16.40" x2="490.25" y2="16.40" stroke="#dcdcdc" stroke-width="2.85"/>
<line x1="494.60" y1="16.40" x2="497.10" y2="13.45" stroke="#1c1cf4" stroke-width="2.85"/>
<line x1="499.60" y1="10.50" x2="497.10" y2="13.45" stroke="#dcdcdc" stroke-width="2.85"/>
<line x1="513.70" y1="27.50" x2="517.05" y2="21.95" stroke="#8c8c8c" stroke-width="2.85"/>
<line x1="520.40" y1="16.40" x2="517.05" y2="21.95" stroke="#1c1cf4" stroke-width="2.85"/>
<line x1="520.40" y1="16.40" x2="524.75" y2="16.40" stroke="#1c1cf4" stroke-width="2.85"/>
<line x1="529.10" y1="16.40" x2="524.75" y2="16.40" stroke="#dcdcdc" stroke-width="2.85"/>
<line x1="520.40" y1="16.40" x2="517.90" y2="13.45" stroke="#1c1cf4" stroke-width="2.85"/>
<line x1="515.40" y1="10.50" x2="517.90" y2="13.45" stroke="#dcdcdc" stroke-width="2.85"/>
<line x1="517.90" y1="61.50" x2="523.35" y2="63.00" stroke="#8c8c8c" stroke-width="2.85"/>
<line x1="528.80" y1="64.50" x2="523.35" y2="63.00" stroke="#1c1cf4" stroke-width="2.85"/>
<line x1="528.80" y1="64.50" x2="530.55" y2="70.20" stroke="#1c1cf4" stroke-width="2.85"/>
<line x1="532.30" y1="75.90" x2="530.55" y2="70.20" stroke="#8c8c8c" stroke-width="2.85"/>
<line x1="507.50" y1="86.30" x2="517.00" y2="86.30" stroke="#f29a82" stroke-width="2.85"/>
<line x1="526.50" y1="86.30" x2="517.00" y2="86.30" stroke="#1c1cf4" stroke-width="2.85"/>
<line x1="532.30" y1="75.90" x2="529.40" y2="81.10" stroke="#8c8c8c" stroke-width="2.85"/>
<line x1="526.50" y1="86.30" x2="529.40" y2="81.10" stroke="#1c1cf4" stroke-width="2.85"/>
<line x1="526.50" y1="86.30" x2="529.40" y2="91.50" stroke="#1c1cf4" stroke-width="2.85"/>
<line x1="532.30" y1="96.70" x2="529.40" y2="91.50" stroke="#8c8c8c" stroke-width="2.85"/>
<line x1="532.30" y1="75.90" x2="538.50" y2="78.00" stroke="#8c8c8c" stroke-width="2.85"/>
<line x1="544.70" y1="80.10" x2="538.50" y2="78.00" stroke="#8c8c8c" stroke-width="2.85"/>
<line x1="544.70" y1="80.10" x2="544.70" y2="86.30" stroke="#8c8c8c" stroke-width="2.85"/>
<line x1="544.70" y1="92.50" x2="544.70" y2="86.30" stroke="#8c8c8c" stroke-width="2.85"/>
<line x1="544.70" y1="92.50" x2="538.50" y2="94.60" stroke="#8c8c8c" stroke-width="2.85"/>
<line x1="532.30" y1="96.70" x2="538.50" y2="94.60" stroke="#8c8c8c" stroke-width="2.85"/>
<line x1="544.70" y1="80.10" x2="549.95" y2="76.55" stroke="#8c8c8c" stroke-width="2.85"/>
<line x1="555.20" y1="73.00" x2="549.95" y2="76.55" stroke="#8c8c8c" stroke-width="2.85"/>
<line x1="555.20" y1="73.00" x2="560.75" y2="76.55" stroke="#8c8c8c" stroke-width="2.85"/>
<line x1="566.30" y1="80.10" x2="560.75" y2="76.55" stroke="#8c8c8c" stroke-width="2.85"/>
<line x1="566.30" y1="80.10" x2="566.30" y2="86.30" stroke="#8c8c8c" stroke-width="2.85"/>
<line x1="566.30" y1="92.50" x2="566.30" y2="86.30" stroke="#8c8c8c" stroke-width="2.85"/>
<line x1="566.30" y1="92.50" x2="560.75" y2="96.05" stroke="#8c8c8c" stroke-width="2.85"/>
<line x1="555.20" y1="99.60" x2="560.75" y2="96.05" stroke="#8c8c8c" stroke-width="2.85"/>
<line x1="555.20" y1="99.60" x2="549.95" y2="96.05" stroke="#8c8c8c" stroke-width="2.85"/>
<line x1="544.70" y1="92.50" x2="549.95" y2="96.05" stroke="#8c8c8c" stroke-width="2.85"/>
<line x1="555.20" y1="73.00" x2="555.20" y2="68.50" stroke="#8c8c8c" stroke-width="2.85"/>
<line x1="555.20" y1="64.00" x2="555.20" y2="68.50" stroke="#dcdcdc" stroke-width="2.85"/>
<line x1="555.20" y1="99.60" x2="555.20" y2="104.10" stroke="#8c8c8c" stroke-width="2.85"/>
<line x1="555.20" y1="108.60" x2="555.20" y2="104.10" stroke="#dcdcdc" stroke-width="2.85"/>
<line x1="566.30" y1="80.10" x2="571.85" y2="76.75" stroke="#8c8c8c" stroke-width="2.85"/>
<line x1="577.40" y1="73.40" x2="571.85" y2="76.75" stroke="#1c1cf4" stroke-width="2.85"/>
<line x1="577.40" y1="73.40" x2="577.40" y2="69.05" stroke="#1c1cf4" stroke-width="2.85"/>
<line x1="577.40" y1="64.70" x2="577.40" y2="69.05" stroke="#dcdcdc" stroke-width="2.85"/>
<line x1="577.40" y1="73.40" x2="580.35" y2="75.90" stroke="#1c1cf4" stroke-width="2.85"/>
<line x1="583.30" y1="78.40" x2="580.35" y2="75.90" stroke="#dcdcdc" stroke-width="2.85"/>
<line x1="566.30" y1="92.50" x2="571.85" y2="95.85" stroke="#8c8c8c" stroke-width="2.85"/>
<line x1="577.40" y1="99.20" x2="571.85" y2="95.85" stroke="#1c1cf4" stroke-width="2.85"/>
<line x1="577.40" y1="99.20" x2="577.40" y2="103.55" stroke="#1c1cf4" stroke-width="2.85"/>
<line x1="577.40" y1="107.90" x2="577.40" y2="103.55" stroke="#dcdcdc" stroke-width="2.85"/>
<line x1="577.40" y1="99.20" x2="580.35" y2="96.70" stroke="#1c1cf4" stroke-width="2.85"/>
<line x1="583.30" y1="94.20" x2="580.35" y2="96.70" stroke="#dcdcdc" stroke-width="2.85"/>
<line x1="532.30" y1="96.70" x2="530.80" y2="102.15" stroke="#8c8c8c" stroke-width="2.85"/>
<line x1="529.30" y1="107.60" x2="530.80" y2="102.15" stroke="#1c1cf4" stroke-width="2.85"/>
<line x1="529.30" y1="107.60" x2="523.60" y2="109.35" stroke="#1c1cf4" stroke-width="2.85"/>
<line x1="517.90" y1="111.10" x2="523.60" y2="109.35" stroke="#8c8c8c" stroke-width="2.85"/>
<line x1="507.50" y1="86.30" x2="507.50" y2="95.80" stroke="#f29a82" stroke-width="2.85"/>
<line x1="507.50" y1="105.30" x2="507.50" y2="95.80" stroke="#1c1cf4" stroke-width="2.85"/>
<line x1="517.90" y1="111.10" x2="512.70" y2="108.20" stroke="#8c8c8c" stroke-width="2.85"/>
<line x1="507.50" y1="105.30" x2="512.70" y2="108.20" stroke="#1c1cf4" stroke-width="2.85"/>
<line x1="507.50" y1="105.30" x2="502.30" y2="108.20" stroke="#1c1cf4" stroke-width="2.85"/>
<line x1="497.10" y1="111.10" x2="502.30" y2="108.20" stroke="#8c8c8c" stroke-width="2.85"/>
<line x1="517.90" y1="111.10" x2="515.80" y2="117.30" stroke="#8c8c8c" stroke-width="2.85"/>
<line x1="513.70" y1="123.50" x2="515.80" y2="117.30" stroke="#8c8c8c" stroke-width="2.85"/>
<line x1="513.70" y1="123.50" x2="507.50" y2="123.50" stroke="#8c8c8c" stroke-width="2.85"/>
<line x1="501.30" y1="123.50" x2="507.50" y2="123.50" stroke="#8c8c8c" stroke-width="2.85"/>
<line x1="501.30" y1="123.50" x2="499.20" y2="117.30" stroke="#8c8c8c" stroke-width="2.85"/>
<line x1="497.10" y1="111.10" x2="499.20" y2="117.30" stroke="#8c8c8c" stroke-width="2.85"/>
<line x1="513.70" y1="123.50" x2="517.25" y2="128.75" stroke="#8c8c8c" stroke-width="2.85"/>
<line x1="520.80" y1="134.00" x2="517.25" y2="128.75" stroke="#8c8c8c" stroke-width="2.85"/>
<line x1="520.80" y1="134.00" x2="517.25" y2="139.55" stroke="#8c8c8c" stroke-width="2.85"/>
<line x1="513.70" y1="145.10" x2="517.25" y2="139.55" stroke="#8c8c8c" stroke-width="2.85"/>
<line x1="513.70" y1="145.10" x2="507.50" y2="145.10" stroke="#8c8c8c" stroke-width="2.85"/>
<line x1="501.30" y1="145.10" x2="507.50" y2="145.10" stroke="#8c8c8c" stroke-width="2.85"/>
<line x1="501.30" y1="145.10" x2="497.75" y2="139.55" stroke="#8c8c8c" stroke-width="2.85"/>
<line x1="494.20" y1="134.00" x2="497.75" y2="139.55" stroke="#8c8c8c" stroke-width="2.85"/>
<line x1="494.20" y1="134.00" x2="497.75" y2="128.75" stroke="#8c8c8c" stroke-width="2.85"/>
<line x1="501.30" y1="123.50" x2="497.75" y2="128.75" stroke="#8c8c8c" stroke-width="2.85"/>
<line x1="520.80" y1="134.00" x2="525.30" y2="134.00" stroke="#8c8c8c" stroke-width="2.85"/>
<line x1="529.80" y1="134.00" x2="525.30" y2="134.00" stroke="#dcdcdc" stroke-width="2.85"/>
<line x1="494.20" y1="134.00" x2="489.70" y2="134.00" stroke="#8c8c8c" stroke-width="2.85"/>
<line x1="485.20" y1="134.00" x2="489.70" y2="134.00" stroke="#dcdcdc" stroke-width="2.85"/>
<line x1="513.70" y1="145.10" x2="517.05" y2="150.65" stroke="#8c8c8c" stroke-width="2.85"/>
<line x1="520.40" y1="156.20" x2="517.05" y2="150.65" stroke="#1c1cf4" stroke-width="2.85"/>
<line x1="520.40" y1="156.20" x2="524.75" y2="156.20" stroke="#1c1cf4" stroke-width="2.85"/>
<line x1="529.10" y1="156.20" x2="524.75" y2="156.20" stroke="#dcdcdc" stroke-width="2.85"/>
<line x1="520.40" y1="156.20" x2="517.90" y2="159.15" stroke="#1c1cf4" stroke-width="2.85"/>
<line x1="515.40" y1="162.10" x2="517.90" y2="159.15" stroke="#dcdcdc" stroke-width="2.85"/>
<line x1="501.30" y1="145.10" x2="497.95" y2="150.65" stroke="#8c8c8c" stroke-width="2.85"/>
<line x1="494.60" y1="156.20" x2="497.95" y2="150.65" stroke="#1c1cf4" stroke-width="2.85"/>
<line x1="494.60" y1="156.20" x2="490.25" y2="156.20" stroke="#1c1cf4" stroke-width="2.85"/>
<line x1="485.90" y1="156.20" x2="490.25" y2="156.20" stroke="#dcdcdc" stroke-width="2.85"/>
<line x1="494.60" y1="156.20" x2="497.10" y2="159.15" stroke="#1c1cf4" stroke-width="2.85"/>
<line x1="499.60" y1="162.10" x2="497.10" y2="159.15" stroke="#dcdcdc" stroke-width="2.85"/>
<line x1="497.10" y1="111.10" x2="491.65" y2="109.60" stroke="#8c8c8c" stroke-width="2.85"/>
<line x1="486.20" y1="108.10" x2="491.65" y2="109.60" stroke="#1c1cf4" stroke-width="2.85"/>
<line x1="486.20" y1="108.10" x2="484.45" y2="102.40" stroke="#1c1cf4" stroke-width="2.85"/>
<line x1="482.70" y1="96.70" x2="484.45" y2="102.40" stroke="#8c8c8c" stroke-width="2.85"/>
<line x1="507.50" y1="86.30" x2="498.00" y2="86.30" stroke="#f29a82" stroke-width="2.85"/>
<line x1="488.50" y1="86.30" x2="498.00" y2="86.30" stroke="#1c1cf4" stroke-width="2.85"/>
<line x1="482.70" y1="96.70" x2="485.60" y2="91.50" stroke="#8c8c8c" stroke-width="2.85"/>
<line x1="488.50" y1="86.30" x2="485.60" y2="91.50" stroke="#1c1cf4" stroke-width="2.85"/>
<line x1="488.50" y1="86.30" x2="485.60" y2="81.10" stroke="#1c1cf4" stroke-width="2.85"/>
<line x1="482.70" y1="75.90" x2="485.60" y2="81.10" stroke="#8c8c8c" stroke-width="2.85"/>
<line x1="482.70" y1="96.70" x2="476.50" y2="94.60" stroke="#8c8c8c" stroke-width="2.85"/>
<line x1="470.30" y1="92.50" x2="476.50" y2="94.60" stroke="#8c8c8c" stroke-width="2.85"/>
<line x1="470.30" y1="92.50" x2="470.30" y2="86.30" stroke="#8c8c8c" stroke-width="2.85"/>
<line x1="470.30" y1="80.10" x2="470.30" y2="86.30" stroke="#8c8c8c" stroke-width="2.85"/>
<line x1="470.30" y1="80.10" x2="476.50" y2="78.00" stroke="#8c8c8c" stroke-width="2.85"/>
<line x1="482.70" y1="75.90" x2="476.50" y2="78.00" stroke="#8c8c8c" stroke-width="2.85"/>
<line x1="470.30" y1="92.50" x2="465.05" y2="96.05" stroke="#8c8c8c" stroke-width="2.85"/>
<line x1="459.80" y1="99.60" x2="465.05" y2="96.05" stroke="#8c8c8c" stroke-width="2.85"/>
<line x1="459.80" y1="99.60" x2="454.25" y2="96.05" stroke="#8c8c8c" stroke-width="2.85"/>
<line x1="448.70" y1="92.50" x2="454.25" y2="96.05" stroke="#8c8c8c" stroke-width="2.85"/>
<line x1="448.70" y1="92.50" x2="448.70" y2="86.30" stroke="#8c8c8c" stroke-width="2.85"/>
<line x1="448.70" y1="80.10" x2="448.70" y2="86.30" stroke="#8c8c8c" stroke-width="2.85"/>
<line x1="448.70" y1="80.10" x2="454.25" y2="76.55" stroke="#8c8c8c" stroke-width="2.85"/>
<line x1="459.80" y1="73.00" x2="454.25" y2="76.55" stroke="#8c8c8c" stroke-width="2.85"/>
<line x1="459.80" y1="73.00" x2="465.05" y2="76.55" stroke="#8c8c8c" stroke-width="2.85"/>
<line x1="470.30" y1="80.10" x2="465.05" y2="76.55" stroke="#8c8c8c" stroke-width="2.85"/>
<line x1="459.80" y1="99.60" x2="459.80" y2="104.10" stroke="#8c8c8c" stroke-width="2.85"/>
<line x1="459.80" y1="108.60" x2="459.80" y2="104.10" stroke="#dcdcdc" stroke-width="2.85"/>
<line x1="459.80" y1="73.00" x2="459.80" y2="68.50" stroke="#8c8c8c" stroke-width="2.85"/>
<line x1="459.80" y1="64.00" x2="459.80" y2="68.50" stroke="#dcdcdc" stroke-width="2.85"/>
<line x1="448.70" y1="92.50" x2="443.15" y2="95.85" stroke="#8c8c8c" stroke-width="2.85"/>
<line x1="437.60" y1="99.20" x2="443.15" y2="95.85" stroke="#1c1cf4" stroke-width="2.85"/>
<line x1="437.60" y1="99.20" x2="437.60" y2="103.55" stroke="#1c1cf4" stroke-width="2.85"/>
<line x1="437.60" y1="107.90" x2="437.60" y2="103.55" stroke="#dcdcdc" stroke-width="2.85"/>
<line x1="437.60" y1="99.20" x2="434.65" y2="96.70" stroke="#1c1cf4" stroke-width="2.85"/>
<line x1="431.70" y1="94.20" x2="434.65" y2="96.70" stroke="#dcdcdc" stroke-width="2.85"/>
<line x1="448.70" y1="80.10" x2="443.15" y2="76.75" stroke="#8c8c8c" stroke-width="2.85"/>
<line x1="437.60" y1="73.40" x2="443.15" y2="76.75" stroke="#1c1cf4" stroke-width="2.85"/>
<line x1="437.60" y1="73.40" x2="437.60" y2="69.05" stroke="#1c1cf4" stroke-width="2.85"/>
<line x1="437.60" y1="64.70" x2="437.60" y2="69.05" stroke="#dcdcdc" stroke-width="2.85"/>
<line x1="437.60" y1="73.40" x2="434.65" y2="75.90" stroke="#1c1cf4" stroke-width="2.85"/>
<line x1="431.70" y1="78.40" x2="434.65" y2="75.90" stroke="#dcdcdc" stroke-width="2.85"/>
<line x1="482.70" y1="75.90" x2="484.20" y2="70.45" stroke="#8c8c8c" stroke-width="2.85"/>
<line x1="485.70" y1="65.00" x2="484.20" y2="70.45" stroke="#1c1cf4" stroke-width="2.85"/>
<line x1="485.70" y1="65.00" x2="491.40" y2="63.25" stroke="#1c1cf4" stroke-width="2.85"/>
<line x1="497.10" y1="61.50" x2="491.40" y2="63.25" stroke="#8c8c8c" stroke-width="2.85"/>
<line x1="507.50" y1="86.30" x2="507.50" y2="76.80" stroke="#ffc4b2" stroke-width="0.85"/>
<line x1="507.50" y1="67.30" x2="507.50" y2="76.80" stroke="#5a5aff" stroke-width="0.85"/>
<line x1="497.10" y1="61.50" x2="502.30" y2="64.40" stroke="#b8b8b8" stroke-width="0.85"/>
<line x1="507.50" y1="67.30" x2="502.30" y2="64.40" stroke="#5a5aff" stroke-width="0.85"/>
<line x1="507.50" y1="67.30" x2="512.70" y2="64.40" stroke="#5a5aff" stroke-width="0.85"/>
<line x1="517.90" y1="61.50" x2="512.70" y2="64.40" stroke="#b8b8b8" stroke-width="0.85"/>
<line x1="497.10" y1="61.50" x2="499.20" y2="55.30" stroke="#b8b8b8" stroke-width="0.85"/>
<line x1="501.30" y1="49.10" x2="499.20" y2="55.30" stroke="#b8b8b8" stroke-width="0.85"/>
<line x1="501.30" y1="49.10" x2="507.50" y2="49.10" stroke="#b8b8b8" stroke-width="0.85"/>
<line x1="513.70" y1="49.10" x2="507.50" y2="49.10" stroke="#b8b8b8" stroke-width="0.85"/>
<line x1="513.70" y1="49.10" x2="515.80" y2="55.30" stroke="#b8b8b8" stroke-width="0.85"/>
<line x1="517.90" y1="61.50" x2="515.80" y2="55.30" stroke="#b8b8b8" stroke-width="0.85"/>
<line x1="501.30" y1="49.10" x2="497.75" y2="43.85" stroke="#b8b8b8" stroke-width="0.85"/>
<line x1="494.20" y1="38.60" x2="497.75" y2="43.85" stroke="#b8b8b8" stroke-width="0.85"/>
<line x1="494.20" y1="38.60" x2="497.75" y2="33.05" stroke="#b8b8b8" stroke-width="0.85"/>
<line x1="501.30" y1="27.50" x2="497.75" y2="33.05" stroke="#b8b8b8" stroke-width="0.85"/>
<line x1="501.30" y1="27.50" x2="507.50" y2="27.50" stroke="#b8b8b8" stroke-width="0.85"/>
<line x1="513.70" y1="27.50" x2="507.50" y2="27.50" stroke="#b8b8b8" stroke-width="0.85"/>
<line x1="513.70" y1="27.50" x2="517.25" y2="33.05" stroke="#b8b8b8" stroke-width="0.85"/>
<line x1="520.80" y1="38.60" x2="517.25" y2="33.05" stroke="#b8b8b8" stroke-width="0.85"/>
<line x1="520.80" y1="38.60" x2="517.25" y2="43.85" stroke="#b8b8b8" stroke-width="0.85"/>
<line x1="513.70" y1="49.10" x2="517.25" y2="43.85" stroke="#b8b8b8" stroke-width="0.85"/>
<line x1="494.20" y1="38.60" x2="489.70" y2="38.60" stroke="#b8b8b8" stroke-width="0.85"/>
<line x1="485.20" y1="38.60" x2="489.70" y2="38.60" stroke="#f8f8f8" stroke-width="0.85"/>
<line x1="520.80" y1="38.60" x2="525.30" y2="38.60" stroke="#b8b8b8" stroke-width="0.85"/>
<line x1="529.80" y1="38.60" x2="525.30" y2="38.60" stroke="#f8f8f8" stroke-width="0.85"/>
<line x1="501.30" y1="27.50" x2="497.95" y2="21.95" stroke="#b8b8b8" stroke-width="0.85"/>
<line x1="494.60" y1="16.40" x2="497.95" y2="21.95" stroke="#5a5aff" stroke-width="0.85"/>
<line x1="494.60" y1="16.40" x2="490.25" y2="16.40" stroke="#5a5aff" stroke-width="0.85"/>
<line x1="485.90" y1="16.40" x2="490.25" y2="16.40" stroke="#f8f8f8" stroke-width="0.85"/>
<line x1="494.60" y1="16.40" x2="497.10" y2="13.45" stroke="#5a5aff" stroke-width="0.85"/>
<line x1="499.60" y1="10.50" x2="497.10" y2="13.45" stroke="#f8f8f8" stroke-width="0.85"/>
<line x1="513.70" y1="27.50" x2="517.05" y2="21.95" stroke="#b8b8b8" stroke-width="0.85"/>
<line x1="520.40" y1="16.40" x2="517.05" y2="21.95" stroke="#5a5aff" stroke-width="0.85"/>
<line x1="520.40" y1="16.40" x2="524.75" y2="16.40" stroke="#5a5aff" stroke-width="0.85"/>
<line x1="529.10" y1="16.40" x2="524.75" y2="16.40" stroke="#f8f8f8" stroke-width="0.85"/>
<line x1="520.40" y1="16.40" x2="517.90" y2="13.45" stroke="#5a5aff" stroke-width="0.85"/>
<line x1="515.40" y1="10.50" x2="517.90" y2="13.45" stroke="#f8f8f8" stroke-width="0.85"/>
<line x1="517.90" y1="61.50" x2="523.35" y2="63.00" stroke="#b8b8b8" stroke-width="0.85"/>
<line x1="528.80" y1="64.50" x2="523.35" y2="63.00" stroke="#5a5aff" stroke-width="0.85"/>
<line x1="528.80" y1="64.50" x2="530.55" y2="70.20" stroke="#5a5aff" stroke-width="0.85"/>
<line x1="532.30" y1="75.90" x2="530.55" y2="70.20" stroke="#b8b8b8" stroke-width="0.85"/>
<line x1="507.50" y1="86.30" x2="517.00" y2="86.30" stroke="#ffc4b2" stroke-width="0.85"/>
<line x1="526.50" y1="86.30" x2="517.00" y2="86.30" stroke="#5a5aff" stroke-width="0.85"/>
<line x1="532.30" y1="75.90" x2="529.40" y2="81.10" stroke="#b8b8b8" stroke-width="0.85"/>
<line x1="526.50" y1="86.30" x2="529.40" y2="81.10" stroke="#5a5aff" stroke-width="0.85"/>
<line x1="526.50" y1="86.30" x2="529.40" y2="91.50" stroke="#5a5aff" stroke-width="0.85"/>
<line x1="532.30" y1="96.70" x2="529.40" y2="91.50" stroke="#b8b8b8" stroke-width="0.85"/>
<line x1="532.30" y1="75.90" x2="538.50" y2="78.00" stroke="#b8b8b8" stroke-width="0.85"/>
<line x1="544.70" y1="80.10" x2="538.50" y2="78.00" stroke="#b8b8b8" stroke-width="0.85"/>
<line x1="544.70" y1="80.10" x2="544.70" y2="86.30" stroke="#b8b8b8" stroke-width="0.85"/>
<line x1="544.70" y1="92.50" x2="544.70" y2="86.30" stroke="#b8b8b8" stroke-width="0.85"/>
<line x1="544.70" y1="92.50" x2="538.50" y2="94.60" stroke="#b8b8b8" stroke-width="0.85"/>
<line x1="532.30" y1="96.70" x2="538.50" y2="94.60" stroke="#b8b8b8" stroke-width="0.85"/>
<line x1="544.70" y1="80.10" x2="549.95" y2="76.55" stroke="#b8b8b8" stroke-width="0.85"/>
<line x1="555.20" y1="73.00" x2="549.95" y2="76.55" stroke="#b8b8b8" stroke-width="0.85"/>
<line x1="555.20" y1="73.00" x2="560.75" y2="76.55" stroke="#b8b8b8" stroke-width="0.85"/>
<line x1="566.30" y1="80.10" x2="560.75" y2="76.55" stroke="#b8b8b8" stroke-width="0.85"/>
<line x1="566.30" y1="80.10" x2="566.30" y2="86.30" stroke="#b8b8b8" stroke-width="0.85"/>
<line x1="566.30" y1="92.50" x2="566.30" y2="86.30" stroke="#b8b8b8" stroke-width="0.85"/>
<line x1="566.30" y1="92.50" x2="560.75" y2="96.05" stroke="#b8b8b8" stroke-width="0.85"/>
<line x1="555.20" y1="99.60" x2="560.75" y2="96.05" stroke="#b8b8b8" stroke-width="0.85"/>
<line x1="555.20" y1="99.60" x2="549.95" y2="96.05" stroke="#b8b8b8" stroke-width="0.85"/>
<line x1="544.70" y1="92.50" x2="549.95" y2="96.05" stroke="#b8b8b8" stroke-width="0.85"/>
<line x1="555.20" y1="73.00" x2="555.20" y2="68.50" stroke="#b8b8b8" stroke-width="0.85"/>
<line x1="555.20" y1="64.00" x2="555.20" y2="68.50" stroke="#f8f8f8" stroke-width="0.85"/>
<line x1="555.20" y1="99.60" x2="555.20" y2="104.10" stroke="#b8b8b8" stroke-width="0.85"/>
<line x1="555.20" y1="108.60" x2="555.20" y2="104.10" stroke="#f8f8f8" stroke-width="0.85"/>
<line x1="566.30" y1="80.10" x2="571.85" y2="76.75" stroke="#b8b8b8" stroke-width="0.85"/>
<line x1="577.40" y1="73.40" x2="571.85" y2="76.75" stroke="#5a5aff" stroke-width="0.85"/>
<line x1="577.40" y1="73.40" x2="577.40" y2="69.05" stroke="#5a5aff" stroke-width="0.85"/>
<line x1="577.40" y1="64.70" x2="577.40" y2="69.05" stroke="#f8f8f8" stroke-width="0.85"/>
<line x1="577.40" y1="73.40" x2="580.35" y2="75.90" stroke="#5a5aff" stroke-width="0.85"/>
<line x1="583.30" y1="78.40" x2="580.35" y2="75.90" stroke="#f8f8f8" stroke-width="0.85"/>
<line x1="566.30" y1="92.50" x2="571.85" y2="95.85" stroke="#b8b8b8" stroke-width="0.85"/>
<line x1="577.40" y1="99.20" x2="571.85" y2="95.85" stroke="#5a5aff" stroke-width="0.85"/>
<line x1="577.40" y1="99.20" x2="577.40" y2="103.55" stroke="#5a5aff" stroke-width="0.85"/>
<line x1="577.40" y1="107.90" x2="577.40" y2="103.55" stroke="#f8f8f8" stroke-width="0.85"/>
<line x1="577.40" y1="99.20" x2="580.35" y2="96.70" stroke="#5a5aff" stroke-width="0.85"/>
<line x1="583.30" y1="94.20" x2="580.35" y2="96.70" stroke="#f8f8f8" stroke-width="0.85"/>
<line x1="532.30" y1="96.70" x2="530.80" y2="102.15" stroke="#b8b8b8" stroke-width="0.85"/>
<line x1="529.30" y1="107.60" x2="530.80" y2="102.15" stroke="#5a5aff" stroke-width="0.85"/>
<line x1="529.30" y1="107.60" x2="523.60" y2="109.35" stroke="#5a5aff" stroke-width="0.85"/>
<line x1="517.90" y1="111.10" x2="523.60" y2="109.35" stroke="#b8b8b8" stroke-width="0.85"/>
<line x1="507.50" y1="86.30" x2="507.50" y2="95.80" stroke="#ffc4b2" stroke-width="0.85"/>
<line x1="507.50" y1="105.30" x2="507.50" y2="95.80" stroke="#5a5aff" stroke-width="0.85"/>
<line x1="517.90" y1="111.10" x2="512.70" y2="108.20" stroke="#b8b8b8" stroke-width="0.85"/>
<line x1="507.50" y1="105.30" x2="512.70" y2="108.20" stroke="#5a5aff" stroke-width="0.85"/>
<line x1="507.50" y1="105.30" x2="502.30" y2="108.20" stroke="#5a5aff" stroke-width="0.85"/>
<line x1="497.10" y1="111.10" x2="502.30" y2="108.20" stroke="#b8b8b8" stroke-width="0.85"/>
<line x1="517.90" y1="111.10" x2="515.80" y2="117.30" stroke="#b8b8b8" stroke-width="0.85"/>
<line x1="513.70" y1="123.50" x2="515.80" y2="117.30" stroke="#b8b8b8" stroke-width="0.85"/>
<line x1="513.70" y1="123.50" x2="507.50" y2="123.50" stroke="#b8b8b8" stroke-width="0.85"/>
<line x1="501.30" y1="123.50" x2="507.50" y2="123.50" stroke="#b8b8b8" stroke-width="0.85"/>
<line x1="501.30" y1="123.50" x2="499.20" y2="117.30" stroke="#b8b8b8" stroke-width="0.85"/>
<line x1="497.10" y1="111.10" x2="499.20" y2="117.30" stroke="#b8b8b8" stroke-width="0.85"/>
<line x1="513.70" y1="123.50" x2="517.25" y2="128.75" stroke="#b8b8b8" stroke-width="0.85"/>
<line x1="520.80" y1="134.00" x2="517.25" y2="128.75" stroke="#b8b8b8" stroke-width="0.85"/>
<line x1="520.80" y1="134.00" x2="517.25" y2="139.55" stroke="#b8b8b8" stroke-width="0.85"/>
<line x1="513.70" y1="145.10" x2="517.25" y2="139.55" stroke="#b8b8b8" stroke-width="0.85"/>
<line x1="513.70" y1="145.10" x2="507.50" y2="145.10" stroke="#b8b8b8" stroke-width="0.85"/>
<line x1="501.30" y1="145.10" x2="507.50" y2="145.10" stroke="#b8b8b8" stroke-width="0.85"/>
<line x1="501.30" y1="145.10" x2="497.75" y2="139.55" stroke="#b8b8b8" stroke-width="0.85"/>
<line x1="494.20" y1="134.00" x2="497.75" y2="139.55" stroke="#b8b8b8" stroke-width="0.85"/>
<line x1="494.20" y1="134.00" x2="497.75" y2="128.75" stroke="#b8b8b8" stroke-width="0.85"/>
<line x1="501.30" y1="123.50" x2="497.75" y2="128.75" stroke="#b8b8b8" stroke-width="0.85"/>
<line x1="520.80" y1="134.00" x2="525.30" y2="134.00" stroke="#b8b8b8" stroke-width="0.85"/>
<line x1="529.80" y1="134.00" x2="525.30" y2="134.00" stroke="#f8f8f8" stroke-width="0.85"/>
<line x1="494.20" y1="134.00" x2="489.70" y2="134.00" stroke="#b8b8b8" stroke-width="0.85"/>
<line x1="485.20" y1="134.00" x2="489.70" y2="134.00" stroke="#f8f8f8" stroke-width="0.85"/>
<line x1="513.70" y1="145.10" x2="517.05" y2="150.65" stroke="#b8b8b8" stroke-width="0.85"/>
<line x1="520.40" y1="156.20" x2="517.05" y2="150.65" stroke="#5a5aff" stroke-width="0.85"/>
<line x1="520.40" y1="156.20" x2="524.75" y2="156.20" stroke="#5a5aff" stroke-width="0.85"/>
<line x1="529.10" y1="156.20" x2="524.75" y2="156.20" stroke="#f8f8f8" stroke-width="0.85"/>
<line x1="520.40" y1="156.20" x2="517.90" y2="159.15" stroke="#5a5aff" stroke-width="0.85"/>
<line x1="515.40" y1="162.10" x2="517.90" y2="159.15" stroke="#f8f8f8" stroke-width="0.85"/>
<line x1="501.30" y1="145.10" x2="497.95" y2="150.65" stroke="#b8b8b8" stroke-width="0.85"/>
<line x1="494.60" y1="156.20" x2="497.95" y2="150.65" stroke="#5a5aff" stroke-width="0.85"/>
<line x1="494.60" y1="156.20" x2="490.25" y2="156.20" stroke="#5a5aff" stroke-width="0.85"/>
<line x1="485.90" y1="156.20" x2="490.25" y2="156.20" stroke="#f8f8f8" stroke-width="0.85"/>
<line x1="494.60" y1="156.20" x2="497.10" y2="159.15" stroke="#5a5aff" stroke-width="0.85"/>
<line x1="499.60" y1="162.10" x2="497.10" y2="159.15" stroke="#f8f8f8" stroke-width="0.85"/>
<line x1="497.10" y1="111.10" x2="491.65" y2="109.60" stroke="#b8b8b8" stroke-width="0.85"/>
<line x1="486.20" y1="108.10" x2="491.65" y2="109.60" stroke="#5a5aff" stroke-width="0.85"/>
<line x1="486.20" y1="108.10" x2="484.45" y2="102.40" stroke="#5a5aff" stroke-width="0.85"/>
<line x1="482.70" y1="96.70" x2="484.45" y2="102.40" stroke="#b8b8b8" stroke-width="0.85"/>
<line x1="507.50" y1="86.30" x2="498.00" y2="86.30" stroke="#ffc4b2" stroke-width="0.85"/>
<line x1="488.50" y1="86.30" x2="498.00" y2="86.30" stroke="#5a5aff" stroke-width="0.85"/>
<line x1="482.70" y1="96.70" x2="485.60" y2="91.50" stroke="#b8b8b8" stroke-width="0.85"/>
<line x1="488.50" y1="86.30" x2="485.60" y2="91.50" stroke="#5a5aff" stroke-width="0.85"/>
<line x1="488.50" y1="86.30" x2="485.60" y2="81.10" stroke="#5a5aff" stroke-width="0.85"/>
<line x1="482.70" y1="75.90" x2="485.60" y2="81.10" stroke="#b8b8b8" stroke-width="0.85"/>
<line x1="482.70" y1="96.70" x2="476.50" y2="94.60" stroke="#b8b8b8" stroke-width="0.85"/>
<line x1="470.30" y1="92.50" x2="476.50" y2="94.60" stroke="#b8b8b8" stroke-width="0.85"/>
<line x1="470.30" y1="92.50" x2="470.30" y2="86.30" stroke="#b8b8b8" stroke-width="0.85"/>
<line x1="470.30" y1="80.10" x2="470.30" y2="86.30" stroke="#b8b8b8" stroke-width="0.85"/>
<line x1="470.30" y1="80.10" x2="476.50" y2="78.00" stroke="#b8b8b8" stroke-width="0.85"/>
<line x1="482.70" y1="75.90" x2="476.50" y2="78.00" stroke="#b8b8b8" stroke-width="0.85"/>
<line x1="470.30" y1="92.50" x2="465.05" y2="96.05" stroke="#b8b8b8" stroke-width="0.85"/>
<line x1="459.80" y1="99.60" x2="465.05" y2="96.05" stroke="#b8b8b8" stroke-width="0.85"/>
<line x1="459.80" y1="99.60" x2="454.25" y2="96.05" stroke="#b8b8b8" stroke-width="0.85"/>
<line x1="448.70" y1="92.50" x2="454.25" y2="96.05" stroke="#b8b8b8" stroke-width="0.85"/>
<line x1="448.70" y1="92.50" x2="448.70" y2="86.30" stroke="#b8b8b8" stroke-width="0.85"/>
<line x1="448.70" y1="80.10" x2="448.70" y2="86.30" stroke="#b8b8b8" stroke-width="0.85"/>
<line x1="448.70" y1="80.10" x2="454.25" y2="76.55" stroke="#b8b8b8" stroke-width="0.85"/>
<line x1="459.80" y1="73.00" x2="454.25" y2="76.55" stroke="#b8b8b8" stroke-width="0.85"/>
<line x1="459.80" y1="73.00" x2="465.05" y2="76.55" stroke="#b8b8b8" stroke-width="0.85"/>
<line x1="470.30" y1="80.10" x2="465.05" y2="76.55" stroke="#b8b8b8" stroke-width="0.85"/>
<line x1="459.80" y1="99.60" x2="459.80" y2="104.10" stroke="#b8b8b8" stroke-width="0.85"/>
<line x1="459.80" y1="108.60" x2="459.80" y2="104.10" stroke="#f8f8f8" stroke-width="0.85"/>
<line x1="459.80" y1="73.00" x2="459.80" y2="68.50" stroke="#b8b8b8" stroke-width="0.85"/>
<line x1="459.80" y1="64.00" x2="459.80" y2="68.50" stroke="#f8f8f8" stroke-width="0.85"/>
<line x1="448.70" y1="92.50" x2="443.15" y2="95.85" stroke="#b8b8b8" stroke-width="0.85"/>
<line x1="437.60" y1="99.20" x2="443.15" y2="95.85" stroke="#5a5aff" stroke-width="0.85"/>
<line x1="437.60" y1="99.20" x2="437.60" y2="103.55" stroke="#5a5aff" stroke-width="0.85"/>
<line x1="437.60" y1="107.90" x2="437.60" y2="103.55" stroke="#f8f8f8" stroke-width="0.85"/>
<line x1="437.60" y1="99.20" x2="434.65" y2="96.70" stroke="#5a5aff" stroke-width="0.85"/>
<line x1="431.70" y1="94.20" x2="434.65" y2="96.70" stroke="#f8f8f8" stroke-width="0.85"/>
<line x1="448.70" y1="80.10" x2="443.15" y2="76.75" stroke="#b8b8b8" stroke-width="0.85"/>
<line x1="437.60" y1="73.40" x2="443.15" y2="76.75" stroke="#5a5aff" stroke-width="0.85"/>
<line x1="437.60" y1="73.40" x2="437.60" y2="69.05" stroke="#5a5aff" stroke-width="0.85"/>
<line x1="437.60" y1="64.70" x2="437.60" y2="69.05" stroke="#f8f8f8" stroke-width="0.85"/>
<line x1="437.60" y1="73.40" x2="434.65" y2="75.90" stroke="#5a5aff" stroke-width="0.85"/>
<line x1="431.70" y1="78.40" x2="434.65" y2="75.90" stroke="#f8f8f8" stroke-width="0.85"/>
<line x1="482.70" y1="75.90" x2="484.20" y2="70.45" stroke="#b8b8b8" stroke-width="0.85"/>
<line x1="485.70" y1="65.00" x2="484.20" y2="70.45" stroke="#5a5aff" stroke-width="0.85"/>
<line x1="485.70" y1="65.00" x2="491.40" y2="63.25" stroke="#5a5aff" stroke-width="0.85"/>
<line x1="497.10" y1="61.50" x2="491.40" y2="63.25" stroke="#b8b8b8" stroke-width="0.85"/>
<circle cx="485.20" cy="38.60" r="3.15" fill="url(#gH)"/>
<circle cx="529.80" cy="38.60" r="3.15" fill="url(#gH)"/>
<circle cx="485.90" cy="16.40" r="3.15" fill="url(#gH)"/>
<circle cx="499.60" cy="10.50" r="3.15" fill="url(#gH)"/>
<circle cx="515.40" cy="10.50" r="3.15" fill="url(#gH)"/>
<circle cx="529.10" cy="16.40" r="3.15" fill="url(#gH)"/>
<circle cx="555.20" cy="64.00" r="3.15" fill="url(#gH)"/>
<circle cx="555.20" cy="108.60" r="3.15" fill="url(#gH)"/>
<circle cx="577.40" cy="64.70" r="3.15" fill="url(#gH)"/>
<circle cx="583.30" cy="78.40" r="3.15" fill="url(#gH)"/>
<circle cx="583.30" cy="94.20" r="3.15" fill="url(#gH)"/>
<circle cx="577.40" cy="107.90" r="3.15" fill="url(#gH)"/>
<circle cx="529.80" cy="134.00" r="3.15" fill="url(#gH)"/>
<circle cx="485.20" cy="134.00" r="3.15" fill="url(#gH)"/>
<circle cx="529.10" cy="156.20" r="3.15" fill="url(#gH)"/>
<circle cx="515.40" cy="162.10" r="3.15" fill="url(#gH)"/>
<circle cx="499.60" cy="162.10" r="3.15" fill="url(#gH)"/>
<circle cx="485.90" cy="156.20" r="3.15" fill="url(#gH)"/>
<circle cx="459.80" cy="108.60" r="3.15" fill="url(#gH)"/>
<circle cx="459.80" cy="64.00" r="3.15" fill="url(#gH)"/>
<circle cx="437.60" cy="107.90" r="3.15" fill="url(#gH)"/>
<circle cx="431.70" cy="94.20" r="3.15" fill="url(#gH)"/>
<circle cx="431.70" cy="78.40" r="3.15" fill="url(#gH)"/>
<circle cx="437.60" cy="64.70" r="3.15" fill="url(#gH)"/>
<circle cx="497.10" cy="61.50" r="3.15" fill="url(#gC)"/>
<circle cx="517.90" cy="61.50" r="3.15" fill="url(#gC)"/>
<circle cx="501.30" cy="49.10" r="3.15" fill="url(#gC)"/>
<circle cx="513.70" cy="49.10" r="3.15" fill="url(#gC)"/>
<circle cx="494.20" cy="38.60" r="3.15" fill="url(#gC)"/>
<circle cx="520.80" cy="38.60" r="3.15" fill="url(#gC)"/>
<circle cx="501.30" cy="27.50" r="3.15" fill="url(#gC)"/>
<circle cx="513.70" cy="27.50" r="3.15" fill="url(#gC)"/>
<circle cx="532.30" cy="75.90" r="3.15" fill="url(#gC)"/>
<circle cx="532.30" cy="96.70" r="3.15" fill="url(#gC)"/>
<circle cx="544.70" cy="80.10" r="3.15" fill="url(#gC)"/>
<circle cx="544.70" cy="92.50" r="3.15" fill="url(#gC)"/>
<circle cx="555.20" cy="73.00" r="3.15" fill="url(#gC)"/>
<circle cx="555.20" cy="99.60" r="3.15" fill="url(#gC)"/>
<circle cx="566.30" cy="80.10" r="3.15" fill="url(#gC)"/>
<circle cx="566.30" cy="92.50" r="3.15" fill="url(#gC)"/>
<circle cx="517.90" cy="111.10" r="3.15" fill="url(#gC)"/>
<circle cx="497.10" cy="111.10" r="3.15" fill="url(#gC)"/>
<circle cx="513.70" cy="123.50" r="3.15" fill="url(#gC)"/>
<circle cx="501.30" cy="123.50" r="3.15" fill="url(#gC)"/>
<circle cx="520.80" cy="134.00" r="3.15" fill="url(#gC)"/>
<circle cx="494.20" cy="134.00" r="3.15" fill="url(#gC)"/>
<circle cx="513.70" cy="145.10" r="3.15" fill="url(#gC)"/>
<circle cx="501.30" cy="145.10" r="3.15" fill="url(#gC)"/>
<circle cx="482.70" cy="96.70" r="3.15" fill="url(#gC)"/>
<circle cx="482.70" cy="75.90" r="3.15" fill="url(#gC)"/>
<circle cx="470.30" cy="92.50" r="3.15" fill="url(#gC)"/>
<circle cx="470.30" cy="80.10" r="3.15" fill="url(#gC)"/>
<circle cx="459.80" cy="99.60" r="3.15" fill="url(#gC)"/>
<circle cx="459.80" cy="73.00" r="3.15" fill="url(#gC)"/>
<circle cx="448.70" cy="92.50" r="3.15" fill="url(#gC)"/>
<circle cx="448.70" cy="80.10" r="3.15" fill="url(#gC)"/>
<circle cx="507.50" cy="67.30" r="3.21" fill="url(#gN)"/>
<circle cx="494.60" cy="16.40" r="3.21" fill="url(#gN)"/>
<circle cx="520.40" cy="16.40" r="3.21" fill="url(#gN)"/>
<circle cx="528.80" cy="64.50" r="3.21" fill="url(#gN)"/>
<circle cx="526.50" cy="86.30" r="3.21" fill="url(#gN)"/>
<circle cx="577.40" cy="73.40" r="3.21" fill="url(#gN)"/>
<circle cx="577.40" cy="99.20" r="3.21" fill="url(#gN)"/>
<circle cx="529.30" cy="107.60" r="3.21" fill="url(#gN)"/>
<circle cx="507.50" cy="105.30" r="3.21" fill="url(#gN)"/>
<circle cx="520.40" cy="156.20" r="3.21" fill="url(#gN)"/>
<circle cx="494.60" cy="156.20" r="3.21" fill="url(#gN)"/>
<circle cx="486.20" cy="108.10" r="3.21" fill="url(#gN)"/>
<circle cx="488.50" cy="86.30" r="3.21" fill="url(#gN)"/>
<circle cx="437.60" cy="99.20" r="3.21" fill="url(#gN)"/>
<circle cx="437.60" cy="73.40" r="3.21" fill="url(#gN)"/>
<circle cx="485.70" cy="65.00" r="3.21" fill="url(#gN)"/>
<circle cx="507.50" cy="86.30" r="3.06" fill="url(#gCu)"/>
<text x="137.2" y="174.5" text-anchor="middle" font-size="12.7" font-weight="bold" stroke="#000" stroke-width="0.25">Cu-O<tspan font-size="7.8" dy="3.3">4</tspan></text>
<text x="347.1" y="174.5" text-anchor="middle" font-size="12.7" font-weight="bold" stroke="#000" stroke-width="0.25">Porphyrin Cu-N<tspan font-size="7.8" dy="3.3">4</tspan></text>
<text x="509.6" y="173.9" text-anchor="middle" font-size="12.7" font-weight="bold" stroke="#000" stroke-width="0.25">Phthalocyanine Cu-N<tspan font-size="7.8" dy="3.3">4</tspan></text>
<rect x="78.8" y="217.96" width="16" height="167.04" fill="url(#hatchE)" stroke="#b060b8" stroke-width="0.8"/>
<rect x="94.8" y="358.12" width="16" height="26.88" fill="url(#hatchH)" stroke="#c04848" stroke-width="0.8"/>
<rect x="158.4" y="284.58" width="16" height="100.42" fill="url(#hatchE)" stroke="#b060b8" stroke-width="0.8"/>
<rect x="174.4" y="289.58" width="16" height="95.42" fill="url(#hatchH)" stroke="#c04848" stroke-width="0.8"/>
<rect x="238.4" y="370.41" width="16" height="14.59" fill="url(#hatchE)" stroke="#b060b8" stroke-width="0.8"/>
<rect x="254.4" y="208.36" width="16" height="176.64" fill="url(#hatchH)" stroke="#c04848" stroke-width="0.8"/>
<path d="M83.8 211.82H89.8M86.8 211.82V224.10M83.8 224.10H89.8" stroke="#222" stroke-width="1.2" fill="none"/>
<path d="M99.8 352.94H105.8M102.8 352.94V363.30M99.8 363.30H105.8" stroke="#222" stroke-width="1.2" fill="none"/>
<path d="M163.4 272.49H169.4M166.4 272.49V296.68M163.4 296.68H169.4" stroke="#222" stroke-width="1.2" fill="none"/>
<path d="M179.4 278.06H185.4M182.4 278.06V301.10M179.4 301.10H185.4" stroke="#222" stroke-width="1.2" fill="none"/>
<path d="M243.4 363.69H249.4M246.4 363.69V377.13M243.4 377.13H249.4" stroke="#222" stroke-width="1.2" fill="none"/>
<path d="M259.4 203.18H265.4M262.4 203.18V213.54M259.4 213.54H265.4" stroke="#222" stroke-width="1.2" fill="none"/>
<rect x="54.5" y="193" width="239.5" height="192" fill="none" stroke="#000" stroke-width="2"/>
<line x1="50.7" y1="385.00" x2="54.5" y2="385.00" stroke="#000" stroke-width="1.3"/>
<text x="47.5" y="388.80" text-anchor="end" font-size="12.5" stroke="#000" stroke-width="0.35">0</text>
<line x1="52.3" y1="365.80" x2="54.5" y2="365.80" stroke="#000" stroke-width="1.3"/>
<line x1="50.7" y1="346.60" x2="54.5" y2="346.60" stroke="#000" stroke-width="1.3"/>
<text x="47.5" y="350.40" text-anchor="end" font-size="12.5" stroke="#000" stroke-width="0.35">20</text>
<line x1="52.3" y1="327.40" x2="54.5" y2="327.40" stroke="#000" stroke-width="1.3"/>
<line x1="50.7" y1="308.20" x2="54.5" y2="308.20" stroke="#000" stroke-width="1.3"/>
<text x="47.5" y="312.00" text-anchor="end" font-size="12.5" stroke="#000" stroke-width="0.35">40</text>
<line x1="52.3" y1="289.00" x2="54.5" y2="289.00" stroke="#000" stroke-width="1.3"/>
<line x1="50.7" y1="269.80" x2="54.5" y2="269.80" stroke="#000" stroke-width="1.3"/>
<text x="47.5" y="273.60" text-anchor="end" font-size="12.5" stroke="#000" stroke-width="0.35">60</text>
<line x1="52.3" y1="250.60" x2="54.5" y2="250.60" stroke="#000" stroke-width="1.3"/>
<line x1="50.7" y1="231.40" x2="54.5" y2="231.40" stroke="#000" stroke-width="1.3"/>
<text x="47.5" y="235.20" text-anchor="end" font-size="12.5" stroke="#000" stroke-width="0.35">80</text>
<line x1="52.3" y1="212.20" x2="54.5" y2="212.20" stroke="#000" stroke-width="1.3"/>
<line x1="50.7" y1="193.00" x2="54.5" y2="193.00" stroke="#000" stroke-width="1.3"/>
<text x="47.5" y="196.80" text-anchor="end" font-size="12.5" stroke="#000" stroke-width="0.35">100</text>
<text transform="translate(25.9,286.2) rotate(-90)" text-anchor="middle" font-size="16.2" stroke="#000" stroke-width="0.35">FE (%)</text>
<text x="11.8" y="203.3" font-size="22.5" font-weight="bold" stroke="#000" stroke-width="0.25">b</text>
<rect x="119.5" y="202.5" width="15" height="11" fill="url(#hatchE)" stroke="#b060b8" stroke-width="0.8"/>
<text x="142.5" y="211.7" font-size="13" stroke="#000" stroke-width="0.35">ECR</text>
<rect x="184.5" y="202" width="14" height="11" fill="url(#hatchH)" stroke="#c04848" stroke-width="0.8"/>
<text x="210" y="211.7" font-size="13" stroke="#000" stroke-width="0.35">HER</text>
<text x="91" y="405.5" text-anchor="middle" font-size="14.3" stroke="#000" stroke-width="0.35">Cu-DBC</text>
<text x="176.5" y="405.5" text-anchor="middle" font-size="14.3" stroke="#000" stroke-width="0.35">Cu-TTCOF</text>
<text x="262.3" y="405.5" text-anchor="middle" font-size="14.3" stroke="#000" stroke-width="0.35">Cu-PPCOF</text>
<path d="M358.5 309.60H390.5M549 309.60H581" stroke="#222" stroke-width="2"/>
<path d="M390.5 309.60L453.5 210.40M486 210.40L549 309.60" stroke="#ea8ce8" stroke-width="1.3" stroke-dasharray="3.5 2.5" fill="none"/>
<path d="M453.5 210.40H486" stroke="#ea8ce8" stroke-width="2.4"/>
<path d="M390.5 309.60L453.5 240.54M486 240.54L549 309.60" stroke="#e08a48" stroke-width="1.3" stroke-dasharray="3.5 2.5" fill="none"/>
<path d="M453.5 240.54H486" stroke="#e08a48" stroke-width="2.4"/>
<path d="M390.5 309.60L453.5 359.50M486 359.50L549 309.60" stroke="#dc4a4a" stroke-width="1.3" stroke-dasharray="3.5 2.5" fill="none"/>
<path d="M453.5 359.50H486" stroke="#dc4a4a" stroke-width="2.4"/>
<rect x="351" y="192.5" width="238" height="192.0" fill="none" stroke="#000" stroke-width="2"/>
<line x1="346.8" y1="372.96" x2="351" y2="372.96" stroke="#000" stroke-width="1.3"/>
<text x="344.2" y="376.96" text-anchor="end" font-size="12.5" stroke="#000" stroke-width="0.35">-0.6</text>
<line x1="348.5" y1="362.40" x2="351" y2="362.40" stroke="#000" stroke-width="1.3"/>
<line x1="346.8" y1="351.84" x2="351" y2="351.84" stroke="#000" stroke-width="1.3"/>
<text x="344.2" y="355.84" text-anchor="end" font-size="12.5" stroke="#000" stroke-width="0.35">-0.4</text>
<line x1="348.5" y1="341.28" x2="351" y2="341.28" stroke="#000" stroke-width="1.3"/>
<line x1="346.8" y1="330.72" x2="351" y2="330.72" stroke="#000" stroke-width="1.3"/>
<text x="344.2" y="334.72" text-anchor="end" font-size="12.5" stroke="#000" stroke-width="0.35">-0.2</text>
<line x1="348.5" y1="320.16" x2="351" y2="320.16" stroke="#000" stroke-width="1.3"/>
<line x1="346.8" y1="309.60" x2="351" y2="309.60" stroke="#000" stroke-width="1.3"/>
<text x="344.2" y="313.60" text-anchor="end" font-size="12.5" stroke="#000" stroke-width="0.35">0.0</text>
<line x1="348.5" y1="299.04" x2="351" y2="299.04" stroke="#000" stroke-width="1.3"/>
<line x1="346.8" y1="288.48" x2="351" y2="288.48" stroke="#000" stroke-width="1.3"/>
<text x="344.2" y="292.48" text-anchor="end" font-size="12.5" stroke="#000" stroke-width="0.35">0.2</text>
<line x1="348.5" y1="277.92" x2="351" y2="277.92" stroke="#000" stroke-width="1.3"/>
<line x1="346.8" y1="267.36" x2="351" y2="267.36" stroke="#000" stroke-width="1.3"/>
<text x="344.2" y="271.36" text-anchor="end" font-size="12.5" stroke="#000" stroke-width="0.35">0.4</text>
<line x1="348.5" y1="256.80" x2="351" y2="256.80" stroke="#000" stroke-width="1.3"/>
<line x1="346.8" y1="246.24" x2="351" y2="246.24" stroke="#000" stroke-width="1.3"/>
<text x="344.2" y="250.24" text-anchor="end" font-size="12.5" stroke="#000" stroke-width="0.35">0.6</text>
<line x1="348.5" y1="235.68" x2="351" y2="235.68" stroke="#000" stroke-width="1.3"/>
<line x1="346.8" y1="225.12" x2="351" y2="225.12" stroke="#000" stroke-width="1.3"/>
<text x="344.2" y="229.12" text-anchor="end" font-size="12.5" stroke="#000" stroke-width="0.35">0.8</text>
<line x1="348.5" y1="214.56" x2="351" y2="214.56" stroke="#000" stroke-width="1.3"/>
<line x1="346.8" y1="204.00" x2="351" y2="204.00" stroke="#000" stroke-width="1.3"/>
<text x="344.2" y="208.00" text-anchor="end" font-size="12.5" stroke="#000" stroke-width="0.35">1.0</text>
<text transform="translate(317.1,289) rotate(-90)" text-anchor="middle" font-size="16" stroke="#000" stroke-width="0.35">ΔG (eV)</text>
<text x="312.3" y="201.8" font-size="22.5" font-weight="bold" stroke="#000" stroke-width="0.25">c</text>
<text x="473" y="205" text-anchor="middle" font-size="9.8" font-weight="bold" fill="#ea8ce8" stroke="#ea8ce8" stroke-width="0.25">Phthalocyanine Cu-N<tspan font-size="7" dy="2.5">4</tspan></text>
<text x="472" y="273" text-anchor="middle" font-size="9.8" font-weight="bold" fill="#e08a48" stroke="#e08a48" stroke-width="0.25">Porphyrin Cu-N<tspan font-size="7" dy="2.5">4</tspan></text>
<text x="471.5" y="352" text-anchor="middle" font-size="9.8" font-weight="bold" fill="#dc4a4a" stroke="#dc4a4a" stroke-width="0.25">Cu-O<tspan font-size="6.5" dy="3">4</tspan></text>
<text x="469.8" y="378.2" text-anchor="middle" font-size="13.5" stroke="#000" stroke-width="0.35">*H</text>
<text x="469.5" y="405" text-anchor="middle" font-size="16" stroke="#000" stroke-width="0.35">Reaction coordinates</text>
<line x1="81.5" y1="417.2" x2="81.5" y2="632.5" stroke="#c0c0c0" stroke-width="1" stroke-dasharray="1 2"/>
<line x1="140.5" y1="417.2" x2="140.5" y2="632.5" stroke="#c0c0c0" stroke-width="1" stroke-dasharray="1 2"/>
<line x1="200.5" y1="417.2" x2="200.5" y2="632.5" stroke="#c0c0c0" stroke-width="1" stroke-dasharray="1 2"/>
<line x1="260.5" y1="417.2" x2="260.5" y2="632.5" stroke="#c0c0c0" stroke-width="1" stroke-dasharray="1 2"/>
<line x1="319.5" y1="417.2" x2="319.5" y2="632.5" stroke="#c0c0c0" stroke-width="1" stroke-dasharray="1 2"/>
<line x1="379.5" y1="417.2" x2="379.5" y2="632.5" stroke="#c0c0c0" stroke-width="1" stroke-dasharray="1 2"/>
<line x1="439.5" y1="417.2" x2="439.5" y2="632.5" stroke="#c0c0c0" stroke-width="1" stroke-dasharray="1 2"/>
<line x1="498.5" y1="417.2" x2="498.5" y2="632.5" stroke="#c0c0c0" stroke-width="1" stroke-dasharray="1 2"/>
<line x1="558.5" y1="417.2" x2="558.5" y2="632.5" stroke="#c0c0c0" stroke-width="1" stroke-dasharray="1 2"/>
<path d="M98.55 523.70L123.61 458.90M158.21 458.90L183.27 504.62M217.87 504.62L242.93 463.22M277.53 463.22L302.59 520.82M337.19 520.82L362.25 496.70M396.85 496.70L421.91 500.66M456.51 500.66L481.57 519.02M516.17 519.02L541.23 597.14" stroke="#ec8ce8" stroke-width="1.3" stroke-dasharray="3.5 2.5" fill="none"/>
<path d="M98.55 523.70L123.61 494.18M158.21 494.18L183.27 525.14M217.87 525.14L242.93 487.34M277.53 487.34L302.59 522.98M337.19 522.98L362.25 511.46M396.85 511.46L421.91 479.42M456.51 479.42L481.57 544.94M516.17 544.94L541.23 597.14" stroke="#e48a40" stroke-width="1.3" stroke-dasharray="3.5 2.5" fill="none"/>
<path d="M98.55 523.70L123.61 516.14M158.21 516.14L183.27 535.58M217.87 535.58L242.93 516.50M277.53 516.50L302.59 528.38M337.19 528.38L362.25 522.62M396.85 522.62L421.91 508.94M456.51 508.94L481.57 529.82M516.17 529.82L541.23 597.14" stroke="#d4393e" stroke-width="1.3" stroke-dasharray="3.5 2.5" fill="none"/>
<path d="M123.61 458.90H158.21" stroke="#ec8ce8" stroke-width="2.7"/>
<path d="M183.27 504.62H217.87" stroke="#ec8ce8" stroke-width="2.7"/>
<path d="M242.93 463.22H277.53" stroke="#ec8ce8" stroke-width="2.7"/>
<path d="M302.59 520.82H337.19" stroke="#ec8ce8" stroke-width="2.7"/>
<path d="M362.25 496.70H396.85" stroke="#ec8ce8" stroke-width="2.7"/>
<path d="M421.91 500.66H456.51" stroke="#ec8ce8" stroke-width="2.7"/>
<path d="M481.57 519.02H516.17" stroke="#ec8ce8" stroke-width="2.7"/>
<path d="M123.61 494.18H158.21" stroke="#e48a40" stroke-width="2.7"/>
<path d="M183.27 525.14H217.87" stroke="#e48a40" stroke-width="2.7"/>
<path d="M242.93 487.34H277.53" stroke="#e48a40" stroke-width="2.7"/>
<path d="M302.59 522.98H337.19" stroke="#e48a40" stroke-width="2.7"/>
<path d="M362.25 511.46H396.85" stroke="#e48a40" stroke-width="2.7"/>
<path d="M421.91 479.42H456.51" stroke="#e48a40" stroke-width="2.7"/>
<path d="M481.57 544.94H516.17" stroke="#e48a40" stroke-width="2.7"/>
<path d="M63.95 523.70H98.55" stroke="#d4393e" stroke-width="2.7"/>
<path d="M123.61 516.14H158.21" stroke="#d4393e" stroke-width="2.7"/>
<path d="M183.27 535.58H217.87" stroke="#d4393e" stroke-width="2.7"/>
<path d="M242.93 516.50H277.53" stroke="#d4393e" stroke-width="2.7"/>
<path d="M302.59 528.38H337.19" stroke="#d4393e" stroke-width="2.7"/>
<path d="M362.25 522.62H396.85" stroke="#d4393e" stroke-width="2.7"/>
<path d="M421.91 508.94H456.51" stroke="#d4393e" stroke-width="2.7"/>
<path d="M481.57 529.82H516.17" stroke="#d4393e" stroke-width="2.7"/>
<path d="M541.23 597.14H575.83" stroke="#d4393e" stroke-width="2.7"/>
<text x="81.25" y="520.20" text-anchor="middle" font-size="14" fill="#c8403f" stroke="#c8403f" stroke-width="0.35">0.00</text>
<text x="140.91" y="454.90" text-anchor="middle" font-size="14" fill="#d985de" stroke="#d985de" stroke-width="0.35">1.80</text>
<text x="140.91" y="491.50" text-anchor="middle" font-size="14" fill="#d98a48" stroke="#d98a48" stroke-width="0.35">0.82</text>
<text x="140.91" y="512.50" text-anchor="middle" font-size="14" fill="#c8403f" stroke="#c8403f" stroke-width="0.35">0.21</text>
<text x="200.57" y="501.50" text-anchor="middle" font-size="14" fill="#d985de" stroke="#d985de" stroke-width="0.35">0.53</text>
<text x="200.57" y="521.50" text-anchor="middle" font-size="14" fill="#d98a48" stroke="#d98a48" stroke-width="0.35">-0.04</text>
<text x="200.57" y="548.50" text-anchor="middle" font-size="14" fill="#c8403f" stroke="#c8403f" stroke-width="0.35">-0.33</text>
<text x="260.23" y="459.20" text-anchor="middle" font-size="14" fill="#d985de" stroke="#d985de" stroke-width="0.35">1.68</text>
<text x="260.23" y="484.90" text-anchor="middle" font-size="14" fill="#d98a48" stroke="#d98a48" stroke-width="0.35">1.01</text>
<text x="260.23" y="513.20" text-anchor="middle" font-size="14" fill="#c8403f" stroke="#c8403f" stroke-width="0.35">0.20</text>
<text x="319.89" y="499.50" text-anchor="middle" font-size="14" fill="#d985de" stroke="#d985de" stroke-width="0.35">0.08</text>
<text x="319.89" y="514.90" text-anchor="middle" font-size="14" fill="#d98a48" stroke="#d98a48" stroke-width="0.35">0.02</text>
<text x="319.89" y="543.50" text-anchor="middle" font-size="14" fill="#c8403f" stroke="#c8403f" stroke-width="0.35">-0.13</text>
<text x="379.55" y="491.40" text-anchor="middle" font-size="14" fill="#d985de" stroke="#d985de" stroke-width="0.35">0.75</text>
<text x="379.55" y="509.40" text-anchor="middle" font-size="14" fill="#d98a48" stroke="#d98a48" stroke-width="0.35">0.34</text>
<text x="379.55" y="535.40" text-anchor="middle" font-size="14" fill="#c8403f" stroke="#c8403f" stroke-width="0.35">0.03</text>
<text x="439.21" y="477.00" text-anchor="middle" font-size="14" fill="#d98a48" stroke="#d98a48" stroke-width="0.35">1.23</text>
<text x="439.21" y="498.20" text-anchor="middle" font-size="14" fill="#d985de" stroke="#d985de" stroke-width="0.35">0.64</text>
<text x="439.21" y="523.00" text-anchor="middle" font-size="14" fill="#c8403f" stroke="#c8403f" stroke-width="0.35">0.41</text>
<text x="498.87" y="515.40" text-anchor="middle" font-size="14" fill="#d985de" stroke="#d985de" stroke-width="0.35">0.13</text>
<text x="498.87" y="542.20" text-anchor="middle" font-size="14" fill="#c8403f" stroke="#c8403f" stroke-width="0.35">-0.17</text>
<text x="498.87" y="559.00" text-anchor="middle" font-size="14" fill="#d98a48" stroke="#d98a48" stroke-width="0.35">-0.59</text>
<text x="558.53" y="592.70" text-anchor="middle" font-size="14" fill="#c8403f" stroke="#c8403f" stroke-width="0.35">-2.04</text>
<rect x="51.5" y="415.7" width="537.5" height="216.8" fill="none" stroke="#000" stroke-width="2"/>
<line x1="46.5" y1="631.70" x2="51.5" y2="631.70" stroke="#000" stroke-width="1.3"/>
<text x="42.3" y="636.70" text-anchor="end" font-size="14" stroke="#000" stroke-width="0.35">-3</text>
<line x1="48.5" y1="613.70" x2="51.5" y2="613.70" stroke="#000" stroke-width="1.3"/>
<line x1="46.5" y1="595.70" x2="51.5" y2="595.70" stroke="#000" stroke-width="1.3"/>
<text x="42.3" y="600.70" text-anchor="end" font-size="14" stroke="#000" stroke-width="0.35">-2</text>
<line x1="48.5" y1="577.70" x2="51.5" y2="577.70" stroke="#000" stroke-width="1.3"/>
<line x1="46.5" y1="559.70" x2="51.5" y2="559.70" stroke="#000" stroke-width="1.3"/>
<text x="42.3" y="564.70" text-anchor="end" font-size="14" stroke="#000" stroke-width="0.35">-1</text>
<line x1="48.5" y1="541.70" x2="51.5" y2="541.70" stroke="#000" stroke-width="1.3"/>
<line x1="46.5" y1="523.70" x2="51.5" y2="523.70" stroke="#000" stroke-width="1.3"/>
<text x="42.3" y="528.70" text-anchor="end" font-size="14" stroke="#000" stroke-width="0.35">0</text>
<line x1="48.5" y1="505.70" x2="51.5" y2="505.70" stroke="#000" stroke-width="1.3"/>
<line x1="46.5" y1="487.70" x2="51.5" y2="487.70" stroke="#000" stroke-width="1.3"/>
<text x="42.3" y="492.70" text-anchor="end" font-size="14" stroke="#000" stroke-width="0.35">1</text>
<line x1="48.5" y1="469.70" x2="51.5" y2="469.70" stroke="#000" stroke-width="1.3"/>
<line x1="46.5" y1="451.70" x2="51.5" y2="451.70" stroke="#000" stroke-width="1.3"/>
<text x="42.3" y="456.70" text-anchor="end" font-size="14" stroke="#000" stroke-width="0.35">2</text>
<line x1="48.5" y1="433.70" x2="51.5" y2="433.70" stroke="#000" stroke-width="1.3"/>
<line x1="46.5" y1="415.70" x2="51.5" y2="415.70" stroke="#000" stroke-width="1.3"/>
<text x="42.3" y="420.70" text-anchor="end" font-size="14" stroke="#000" stroke-width="0.35">3</text>
<line x1="81.25" y1="632.5" x2="81.25" y2="637.5" stroke="#000" stroke-width="1.3"/>
<text x="81.25" y="652" text-anchor="middle" font-size="14" stroke="#000" stroke-width="0.35">1</text>
<line x1="111.08" y1="632.5" x2="111.08" y2="635.5" stroke="#000" stroke-width="1.3"/>
<line x1="140.91" y1="632.5" x2="140.91" y2="637.5" stroke="#000" stroke-width="1.3"/>
<text x="140.91" y="652" text-anchor="middle" font-size="14" stroke="#000" stroke-width="0.35">2</text>
<line x1="170.74" y1="632.5" x2="170.74" y2="635.5" stroke="#000" stroke-width="1.3"/>
<line x1="200.57" y1="632.5" x2="200.57" y2="637.5" stroke="#000" stroke-width="1.3"/>
<text x="200.57" y="652" text-anchor="middle" font-size="14" stroke="#000" stroke-width="0.35">3</text>
<line x1="230.40" y1="632.5" x2="230.40" y2="635.5" stroke="#000" stroke-width="1.3"/>
<line x1="260.23" y1="632.5" x2="260.23" y2="637.5" stroke="#000" stroke-width="1.3"/>
<text x="260.23" y="652" text-anchor="middle" font-size="14" stroke="#000" stroke-width="0.35">4</text>
<line x1="290.06" y1="632.5" x2="290.06" y2="635.5" stroke="#000" stroke-width="1.3"/>
<line x1="319.89" y1="632.5" x2="319.89" y2="637.5" stroke="#000" stroke-width="1.3"/>
<text x="319.89" y="652" text-anchor="middle" font-size="14" stroke="#000" stroke-width="0.35">5</text>
<line x1="349.72" y1="632.5" x2="349.72" y2="635.5" stroke="#000" stroke-width="1.3"/>
<line x1="379.55" y1="632.5" x2="379.55" y2="637.5" stroke="#000" stroke-width="1.3"/>
<text x="379.55" y="652" text-anchor="middle" font-size="14" stroke="#000" stroke-width="0.35">6</text>
<line x1="409.38" y1="632.5" x2="409.38" y2="635.5" stroke="#000" stroke-width="1.3"/>
<line x1="439.21" y1="632.5" x2="439.21" y2="637.5" stroke="#000" stroke-width="1.3"/>
<text x="439.21" y="652" text-anchor="middle" font-size="14" stroke="#000" stroke-width="0.35">7</text>
<line x1="469.04" y1="632.5" x2="469.04" y2="635.5" stroke="#000" stroke-width="1.3"/>
<line x1="498.87" y1="632.5" x2="498.87" y2="637.5" stroke="#000" stroke-width="1.3"/>
<text x="498.87" y="652" text-anchor="middle" font-size="14" stroke="#000" stroke-width="0.35">8</text>
<line x1="528.70" y1="632.5" x2="528.70" y2="635.5" stroke="#000" stroke-width="1.3"/>
<line x1="558.53" y1="632.5" x2="558.53" y2="637.5" stroke="#000" stroke-width="1.3"/>
<text x="558.53" y="652" text-anchor="middle" font-size="14" stroke="#000" stroke-width="0.35">9</text>
<text transform="translate(22,524.2) rotate(-90)" text-anchor="middle" font-size="19" stroke="#000" stroke-width="0.35">Free energy (eV)</text>
<text x="10.8" y="430.4" font-size="22.5" font-weight="bold" stroke="#000" stroke-width="0.25">d</text>
<text x="320.5" y="675" text-anchor="middle" font-size="19.3" stroke="#000" stroke-width="0.35">Reaction coordinate n(H<tspan font-size="12" dy="-7.5">+</tspan><tspan dy="7.5">/e</tspan><tspan font-size="12" dy="-7.5">-</tspan><tspan dy="7.5">)</tspan></text>
<path d="M425 425.8H452.5" stroke="#d4484e" stroke-width="2"/>
<text x="457" y="430.0" font-size="12.5" stroke="#000" stroke-width="0.35">Cu-O<tspan font-size="8.5" dy="3">4</tspan></text>
<path d="M425 443.5H452.5" stroke="#e4904c" stroke-width="2"/>
<text x="457" y="447.7" font-size="12.5" stroke="#000" stroke-width="0.35">Porphyrin Cu-N<tspan font-size="8.5" dy="3">4</tspan></text>
<path d="M425 461.3H452.5" stroke="#f090ee" stroke-width="2"/>
<text x="457" y="465.5" font-size="12.5" stroke="#000" stroke-width="0.35">Phthalocyanine Cu-N<tspan font-size="8.5" dy="3">4</tspan></text>
<text transform="translate(74.40,628.20) rotate(-45)" font-size="15" stroke="#000" stroke-width="0.35">*<tspan>CO</tspan><tspan font-size="10.5" dy="3">2</tspan></text>
<text transform="translate(134.40,628.20) rotate(-45)" font-size="15" stroke="#000" stroke-width="0.35">*<tspan>COOH</tspan></text>
<text transform="translate(196.90,626.70) rotate(-45)" font-size="15" stroke="#000" stroke-width="0.35">*<tspan>CO</tspan></text>
<text transform="translate(254.40,625.20) rotate(-45)" font-size="15" stroke="#000" stroke-width="0.35">*<tspan>COH</tspan></text>
<text transform="translate(314.90,627.20) rotate(-45)" font-size="15" stroke="#000" stroke-width="0.35">*<tspan>CHOH</tspan></text>
<text transform="translate(379.90,626.70) rotate(-45)" font-size="15" stroke="#000" stroke-width="0.35">*<tspan>CH</tspan><tspan font-size="10.5" dy="3">2</tspan><tspan dy="-3">OH</tspan></text>
<text transform="translate(436.90,625.70) rotate(-45)" font-size="15" stroke="#000" stroke-width="0.35">*<tspan>CH</tspan><tspan font-size="10.5" dy="3">2</tspan></text>
<text transform="translate(495.90,627.20) rotate(-45)" font-size="15" stroke="#000" stroke-width="0.35">*<tspan>CH</tspan><tspan font-size="10.5" dy="3">3</tspan></text>
<text transform="translate(550.90,628.70) rotate(-45)" font-size="15" stroke="#000" stroke-width="0.35">*<tspan>CH</tspan><tspan font-size="10.5" dy="3">4</tspan></text>
</svg>
</body></html>
